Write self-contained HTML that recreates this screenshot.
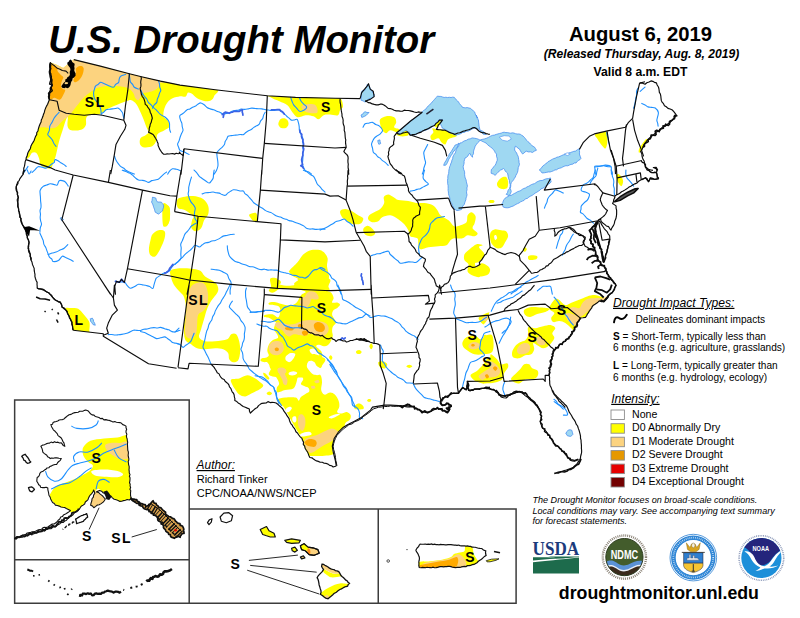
<!DOCTYPE html><html><head><meta charset="utf-8"><title>U.S. Drought Monitor</title>
<style>html,body{margin:0;padding:0;background:#fff}svg{display:block}text{font-family:"Liberation Sans",sans-serif;fill:#000}</style></head><body>
<svg width="800" height="618" viewBox="0 0 800 618">
<rect width="800" height="618" fill="#fff"/>
<g id="txt">
<text x="48.2" y="52.7" font-size="38.4" font-weight="bold" font-style="italic">U.S. Drought Monitor</text>
<text x="640.5" y="41" font-size="20.3" font-weight="bold" text-anchor="middle">August 6, 2019</text>
<text x="641.5" y="58" font-size="12.1" font-weight="bold" font-style="italic" text-anchor="middle">(Released Thursday, Aug. 8, 2019)</text>
<text x="640.5" y="76.4" font-size="12.15" font-weight="bold" text-anchor="middle">Valid 8 a.m. EDT</text>
<text x="613" y="306.8" font-size="12.1" font-style="italic" text-decoration="underline">Drought Impact Types:</text>
<path d="M614,322.3c0.5,-4.5 2.5,-6.3 5,-4.3c2.8,2.2 5.5,0.8 7.8,-3.2" fill="none" stroke="#000" stroke-width="1.9" stroke-linecap="round"/>
<text x="635.5" y="322.5" font-size="10.1">Delineates dominant impacts</text>
<text x="613" y="340" font-size="10.1"><tspan font-weight="bold">S</tspan> = Short-Term, typically less than</text>
<text x="613" y="351.3" font-size="10.1">6 months (e.g. agriculture, grasslands)</text>
<text x="613" y="369.4" font-size="10.1"><tspan font-weight="bold">L</tspan> = Long-Term, typically greater than</text>
<text x="613" y="380.6" font-size="10.1">6 months (e.g. hydrology, ecology)</text>
<text x="611.2" y="402.8" font-size="12.1" font-style="italic" text-decoration="underline">Intensity:</text>
<rect x="611" y="410.0" width="13.4" height="9.5" fill="#ffffff" stroke="#8c8c8c" stroke-width="0.9"/>
<text x="632" y="417.6" font-size="10.6">None</text>
<rect x="611" y="423.7" width="13.4" height="9.5" fill="#ffff00" stroke="#8c8c8c" stroke-width="0.9"/>
<text x="632" y="431.3" font-size="10.6">D0 Abnormally Dry</text>
<rect x="611" y="437.2" width="13.4" height="9.5" fill="#fcd37f" stroke="#8c8c8c" stroke-width="0.9"/>
<text x="632" y="444.8" font-size="10.6">D1 Moderate Drought</text>
<rect x="611" y="450.6" width="13.4" height="9.5" fill="#e69800" stroke="#8c8c8c" stroke-width="0.9"/>
<text x="632" y="458.2" font-size="10.6">D2 Severe Drought</text>
<rect x="611" y="464.1" width="13.4" height="9.5" fill="#e60000" stroke="#8c8c8c" stroke-width="0.9"/>
<text x="632" y="471.7" font-size="10.6">D3 Extreme Drought</text>
<rect x="611" y="477.5" width="13.4" height="9.5" fill="#730000" stroke="#8c8c8c" stroke-width="0.9"/>
<text x="632" y="485.1" font-size="10.6">D4 Exceptional Drought</text>
<text x="532.5" y="503.3" font-size="9.05" font-style="italic">The Drought Monitor focuses on broad-scale conditions.</text>
<text x="532.5" y="513.6" font-size="9.05" font-style="italic">Local conditions may vary. See accompanying text summary</text>
<text x="532.5" y="524" font-size="9.05" font-style="italic">for forecast statements.</text>
<text x="558.8" y="599" font-size="17.75" font-weight="bold">droughtmonitor.unl.edu</text>
<text x="196.6" y="469" font-size="11.9" font-style="italic" text-decoration="underline">Author:</text>
<text x="196.7" y="483.3" font-size="11">Richard Tinker</text>
<text x="196.7" y="497.3" font-size="11">CPC/NOAA/NWS/NCEP</text>
</g>
<g fill="none" stroke="#3c3c3c" stroke-width="1.5">
<path d="M14.65,399.9H189.2V603.2H14.65ZM14.65,559.7H189.2M189.2,508.9H516.1V603.2H189.2M378.25,508.9V603.2"/>
</g>
<defs><clipPath id="us"><path d="M73.8,59.6 L100.3,66.1 L129.4,73.7 L141.5,76.7 L160.5,81.1 L180,85.1 L215.2,89.7 L267.3,95.8 L295.5,97.4 L335,98.2 L360.1,98.6 L360.1,98.6 L361.7,92.6 L367.1,86.1 L368.5,83.7 L370.2,89.1 L373.2,91.2 L374.2,96.6 L370.2,99.4 L365.1,101.2 L365.1,101.2 L370.2,103.2 L376.2,105.2 L382.2,104.2 L388.2,108.2 L394.2,110.2 L400.3,111.2 L406.3,110.2 L414.3,112.2 L422.3,112.2 L437,95 L458,98 L479,118 L485,131 L525,131 L538,150 L545,172 L579,149 L579.4,149.4 L583.4,142.3 L589.4,136.3 L594.4,133.9 L607.5,130.9 L625.5,127.3 L628.5,122.3 L632.6,118.3 L633.6,112.2 L636.6,96.2 L639.6,83.1 L645,81.7 L640,83 L645,84.1 L651,81 L656.1,83 L658.1,87.1 L660.1,94.1 L662.1,102.1 L666.1,107.1 L672.1,110.2 L676.5,115.2 L673.1,119.2 L670.1,122.2 L666.1,125.2 L662.1,127.2 L660.1,130.2 L656.1,132.2 L652,136.2 L648,139.3 L645,143.3 L643,147.3 L641,151.3 L642,156.3 L644,161.3 L645,166.4 L645,165.1 L647.2,169.6 L651.7,172.6 L656.2,172.6 L657.8,169.6 L656.2,167.3 L653.2,167.8 L656.2,168.8 L656.7,171.1 L656.2,172.6 L658.5,178.6 L654.7,179.4 L650.2,177.9 L648.7,181.6 L645.7,177.9 L641.9,179.4 L641.2,179.4 L637,182.8 L630.7,186.1 L624.6,189.9 L620.1,192.9 L616.8,194.9 L614.8,195.9 L615,196.2 L612.6,203.5 L615.8,205.9 L616.6,212.4 L615.8,218.8 L613.4,225.3 L611,230.2 L608.5,226.9 L604.5,224.5 L601.3,221.3 L600.5,218.8 L598,220.5 L598,220.5 L600.5,222.4 L602.9,226.9 L606.9,231.8 L609.4,235.8 L609.8,239.1 L608.5,244.7 L606.9,251.2 L605.3,257.7 L603.7,262.5 L606.1,270.6 L608.5,275.5 L611.8,280 L610.2,278.1 L613.4,281.3 L615.8,285.4 L614.2,289.4 L611.8,292.7 L608.5,295.9 L606.1,299.1 L603.7,301.6 L599.4,301.1 L593.4,305.1 L589.4,311.1 L585.4,317.1 L580.4,318.1 L577.3,323.1 L574.3,329.2 L571.3,335.2 L565.3,341.2 L559.3,345.2 L554.3,350.2 L552.3,357.3 L550.2,365.3 L549.2,375.3 L550.2,385.4 L553.3,393.4 L559.3,401.4 L565.3,407.5 L552.3,390 L554.3,394 L560.3,400 L566.4,406.1 L570.4,414.1 L574.4,420.1 L578.4,428.1 L580.4,436.2 L581.4,444.2 L581.4,452.2 L580.4,458.3 L577.4,463.3 L573.4,467.3 L568.4,469.3 L562.3,471.3 L556.3,472.7 L578.4,459.3 L574.4,461.3 L570.4,460.3 L568.4,457.3 L564.4,453.2 L561.3,449.2 L556.3,445.2 L552.3,441.2 L550.3,437.2 L547.3,433.2 L543.3,428.1 L540.3,423.1 L541.3,416.1 L539.3,409.1 L534.2,403 L528.2,398 L522.2,393 L516.2,391 L510.2,394 L506.1,398 L501.1,397 L496.1,390 L539.2,409.1 L537.2,405.5 L531.2,399.4 L525.2,393.4 L519.1,391.4 L511.1,394.4 L505.1,396.4 L499.1,394.4 L495,390.4 L485,387.4 L490,387.4 L482.6,388.4 L474.5,389.4 L468.5,390.4 L467.5,381.4 L466.5,389.4 L462.5,387.4 L458.5,393.4 L452.5,393.4 L448.4,395.4 L444.4,397.4 L440.4,401.4 L442.4,405.5 L448.4,403.4 L451.5,406.5 L446.4,409.1 L450.2,409.1 L447.7,411.6 L442.7,410.4 L437.6,407.9 L432.6,410.4 L427.6,412.9 L422.6,411.6 L417.6,409.1 L412.5,406.6 L407.5,404.1 L402.5,406.6 L400,405.9 L410,406.1 L402.6,405.7 L390.5,405.1 L384.5,405.1 L378.5,406.1 L372.5,407.1 L370.5,410.1 L365.4,414.1 L360.4,418.1 L354.4,421.2 L348.4,424.2 L343.4,427.2 L338.3,432.2 L334.3,438.2 L332.3,446.2 L333.3,452.3 L335.3,460.3 L336.3,465.9 L336.3,465.9 L333.3,466.7 L326.3,463.3 L318.3,461.3 L310.2,457.3 L307.2,452.3 L304.2,446.2 L302.2,438.2 L297.2,433.2 L292.2,425.2 L288.1,417.1 L284.1,411.1 L280.1,406.1 L276.1,403.1 L268.1,402.1 L260,404.1 L254,410.1 L250,413.1 L249.3,409.1 L241.2,405.5 L235.2,400.4 L233.2,393.4 L228.2,383.4 L221.2,377.3 L215.2,369.3 L211.1,364.3 L211.1,364.3 L189.1,363.3 L188,368.9 L178,367.7 L176.6,368.3 L148.5,363.7 L103.3,336.2 L103.3,333.8 L73.2,330.2 L73.2,330.2 L71.8,322.1 L69.2,316.1 L66.2,310.1 L62.2,307.1 L60.2,302.1 L55.1,300.1 L50.1,294 L44.1,290 L37.1,288 L37.1,282.4 L35.1,276.4 L34.1,268.4 L31.1,260.3 L30.1,254.3 L28.1,248.3 L29.1,242.3 L27.1,236.2 L26.1,229.2 L23,226.2 L21,220.2 L19,212.2 L17.6,204.1 L18,196.1 L16,188.1 L18,182 L22,176 L25.1,170 L23,174.1 L24.4,166.4 L26,159.4 L28.4,152.4 L32,144.4 L35.7,136.3 L39.1,127.3 L42.1,118.3 L45.1,110.2 L47.5,104.2 L49.5,99.8 L48.7,95.2 L50.1,90.2 L52.1,85.1 L51.3,78.1 L50.1,70.1 L50.5,62.4 L57.1,65.1 L63.2,68.1Z M614.8,201.2 L620.1,196.7 L627.6,192.2 L635.2,188.8 L638.2,188.4 L633.7,192.9 L627.6,195.9 L620.1,200.4 L614.8,201.9Z"/></clipPath></defs>
<g clip-path="url(#us)">
<g fill="#ffff00"><path d="M24,158.4 C24.83,160.23 27.67,158.33 29,157.4 C30.33,156.47 30.82,153.57 32,152.8 C33.18,152.03 34.92,151.87 36.1,152.8 C37.28,153.73 38.27,156.30 39.1,158.4 C39.93,160.50 39.27,163.73 41.1,165.4 C42.93,167.07 48.10,168.73 50.1,168.4 C52.10,168.07 52.10,165.73 53.1,163.4 C54.10,161.07 55.10,158.08 56.1,154.4 C57.10,150.72 58.02,145.32 59.1,141.3 C60.18,137.28 61.48,133.80 62.6,130.3 C63.72,126.80 64.93,122.47 65.8,120.3 C66.67,118.13 67.50,116.30 67.8,117.3 C68.10,118.30 67.03,124.13 67.6,126.3 C68.17,128.47 68.93,129.73 71.2,130.3 C73.47,130.87 78.77,130.53 81.2,129.7 C83.63,128.87 84.78,127.55 85.8,125.3 C86.82,123.05 84.88,118.12 87.3,116.2 C89.72,114.28 96.80,115.07 100.3,113.8 C103.80,112.53 105.28,110.20 108.3,108.6 C111.32,107.00 115.38,105.43 118.4,104.2 C121.42,102.97 124.23,101.87 126.4,101.2 C128.57,100.53 129.73,99.70 131.4,100.2 C133.07,100.70 134.88,102.20 136.4,104.2 C137.92,106.20 139.32,109.68 140.5,112.2 C141.68,114.72 142.50,116.78 143.5,119.3 C144.50,121.82 145.67,125.13 146.5,127.3 C147.33,129.47 148.67,130.97 148.5,132.3 C148.33,133.63 146.83,134.30 145.5,135.3 C144.17,136.30 141.40,136.78 140.5,138.3 C139.60,139.82 139.43,142.88 140.1,144.4 C140.77,145.92 142.43,147.13 144.5,147.4 C146.57,147.67 150.50,147.18 152.5,146 C154.50,144.82 155.67,142.25 156.5,140.3 C157.33,138.35 156.17,135.97 157.5,134.3 C158.83,132.63 162.48,131.63 164.5,130.3 C166.52,128.97 169.08,127.97 169.6,126.3 C170.12,124.63 168.62,121.98 167.6,120.3 C166.58,118.62 164.02,118.22 163.5,116.2 C162.98,114.18 163.82,110.53 164.5,108.2 C165.18,105.87 166.25,103.87 167.6,102.2 C168.95,100.53 170.53,99.20 172.6,98.2 C174.67,97.20 177.67,96.70 180,96.2 C182.33,95.70 185.50,98.22 186.6,95.2 C187.70,92.18 194.28,82.28 186.6,78.1 C178.92,73.92 159.90,74.12 140.5,70.1 C121.10,66.08 86.27,56.02 70.2,54 C54.13,51.98 49.12,51.97 44.1,58 C39.08,64.03 42.12,79.82 40.1,90.2 C38.08,100.58 34.68,110.93 32,120.3 C29.32,129.67 25.33,140.05 24,146.4 C22.67,152.75 23.17,156.57 24,158.4Z"/><path d="M171,80.1 C178.37,79.08 208.02,85.42 215.2,88.1 C222.38,90.78 214.78,94.18 214.1,96.2 C213.42,98.22 212.60,99.37 211.1,100.2 C209.60,101.03 207.43,101.53 205.1,101.2 C202.77,100.87 199.43,99.53 197.1,98.2 C194.77,96.87 193.45,94.20 191.1,93.2 C188.75,92.20 186.35,92.03 183,92.2 C179.65,92.37 173.00,96.22 171,94.2 C169.00,92.18 163.63,81.12 171,80.1Z"/><path d="M271.4,94.2 C281.17,94.10 318.57,96.60 330,97.2 C341.43,97.80 337.83,96.30 340,97.8 C342.17,99.30 343.00,104.13 343,106.2 C343.00,108.27 340.83,108.70 340,110.2 C339.17,111.70 339.67,114.47 338,115.2 C336.33,115.93 332.40,114.60 330,114.6 C327.60,114.60 325.52,114.42 323.6,115.2 C321.68,115.98 320.18,119.13 318.5,119.3 C316.82,119.47 315.67,116.88 313.5,116.2 C311.33,115.52 308.17,115.02 305.5,115.2 C302.83,115.38 299.68,117.80 297.5,117.3 C295.32,116.80 294.08,114.22 292.4,112.2 C290.72,110.18 289.57,107.03 287.4,105.2 C285.23,103.37 282.07,102.43 279.4,101.2 C276.73,99.97 272.73,98.97 271.4,97.8 C270.07,96.63 261.63,94.30 271.4,94.2Z"/><path d="M278.4,123.3 C278.63,122.20 279.40,120.13 280.4,119.3 C281.40,118.47 283.17,118.07 284.4,118.3 C285.63,118.53 287.13,119.63 287.8,120.7 C288.47,121.77 288.73,123.50 288.4,124.7 C288.07,125.90 286.97,127.37 285.8,127.9 C284.63,128.43 282.53,128.23 281.4,127.9 C280.27,127.57 279.50,126.67 279,125.9 C278.50,125.13 278.17,124.40 278.4,123.3Z"/><path d="M380.2,119.3 C381.20,117.95 383.87,116.53 386.2,116.2 C388.53,115.87 392.53,116.28 394.2,117.3 C395.87,118.32 396.20,120.63 396.2,122.3 C396.20,123.97 393.68,126.13 394.2,127.3 C394.72,128.47 398.78,128.47 399.3,129.3 C399.82,130.13 398.82,132.13 397.3,132.3 C395.78,132.47 392.05,130.13 390.2,130.3 C388.35,130.47 387.53,133.30 386.2,133.3 C384.87,133.30 383.20,131.80 382.2,130.3 C381.20,128.80 380.53,126.13 380.2,124.3 C379.87,122.47 379.20,120.65 380.2,119.3Z"/><path d="M396.2,133.3 C397.20,132.30 404.28,129.97 406.3,130.3 C408.32,130.63 409.30,134.30 408.3,135.3 C407.30,136.30 402.32,136.63 400.3,136.3 C398.28,135.97 395.20,134.30 396.2,133.3Z"/><path d="M434.4,124.7 C435.07,123.43 440.07,120.27 441.4,119.7 C442.73,119.13 443.07,120.03 442.4,121.3 C441.73,122.57 438.73,126.73 437.4,127.3 C436.07,127.87 433.73,125.97 434.4,124.7Z"/><path d="M432.4,128.3 C433.07,127.80 435.40,128.97 437.4,129.3 C439.40,129.63 441.55,129.47 444.4,130.3 C447.25,131.13 452.48,133.30 454.5,134.3 C456.52,135.30 457.52,135.47 456.5,136.3 C455.48,137.13 450.25,137.95 448.4,139.3 C446.55,140.65 446.57,143.90 445.4,144.4 C444.23,144.90 442.57,143.32 441.4,142.3 C440.23,141.28 439.90,138.63 438.4,138.3 C436.90,137.97 433.73,140.63 432.4,140.3 C431.07,139.97 430.23,137.63 430.4,136.3 C430.57,134.97 433.07,133.63 433.4,132.3 C433.73,130.97 431.73,128.80 432.4,128.3Z"/><path d="M595.4,134.3 C596.98,133.13 604.48,130.30 606.5,131.3 C608.52,132.30 607.67,137.45 607.5,140.3 C607.33,143.15 606.68,147.88 605.5,148.4 C604.32,148.92 601.82,145.08 600.4,143.4 C598.98,141.72 597.83,139.82 597,138.3 C596.17,136.78 593.82,135.47 595.4,134.3Z"/><path d="M639,149.3 C639.50,147.90 640.83,145.97 642,144.3 C643.17,142.63 645.00,139.97 646,139.3 C647.00,138.63 648.17,139.30 648,140.3 C647.83,141.30 646.00,143.63 645,145.3 C644.00,146.97 643.00,149.07 642,150.3 C641.00,151.53 639.50,152.87 639,152.7 C638.50,152.53 638.50,150.70 639,149.3Z"/><path d="M164.6,205.1 C165.20,204.42 167.70,205.25 168.6,206.1 C169.50,206.95 169.83,207.85 170,210.2 C170.17,212.55 170.17,217.53 169.6,220.2 C169.03,222.87 167.60,225.53 166.6,226.2 C165.60,226.87 164.00,225.87 163.6,224.2 C163.20,222.53 163.97,218.53 164.2,216.2 C164.43,213.87 164.93,212.05 165,210.2 C165.07,208.35 164.00,205.78 164.6,205.1Z"/><path d="M152.5,234.2 C153.85,232.52 156.58,230.70 158.6,230.2 C160.62,229.70 163.60,229.85 164.6,231.2 C165.60,232.55 165.27,235.45 164.6,238.3 C163.93,241.15 162.12,245.30 160.6,248.3 C159.08,251.30 157.18,255.13 155.5,256.3 C153.82,257.47 151.60,256.47 150.5,255.3 C149.40,254.13 148.90,251.80 148.9,249.3 C148.90,246.80 149.90,242.82 150.5,240.3 C151.10,237.78 151.15,235.88 152.5,234.2Z"/><path d="M177,200.1 C177.85,198.27 180.42,197.77 183.1,197.1 C185.78,196.43 189.77,195.77 193.1,196.1 C196.43,196.43 200.58,197.43 203.1,199.1 C205.62,200.77 207.35,203.58 208.2,206.1 C209.05,208.62 208.88,211.85 208.2,214.2 C207.52,216.55 205.28,217.87 204.1,220.2 C202.92,222.53 202.60,226.37 201.1,228.2 C199.60,230.03 196.77,231.37 195.1,231.2 C193.43,231.03 191.60,229.03 191.1,227.2 C190.60,225.37 191.77,222.03 192.1,220.2 C192.43,218.37 194.27,217.87 193.1,216.2 C191.93,214.53 187.62,211.55 185.1,210.2 C182.58,208.85 179.35,209.78 178,208.1 C176.65,206.42 176.15,201.93 177,200.1Z"/><path d="M249.3,214.6 C250.20,213.77 255.03,212.10 256.3,213.2 C257.57,214.30 257.40,219.93 256.9,221.2 C256.40,222.47 254.30,221.30 253.3,220.8 C252.30,220.30 251.57,219.23 250.9,218.2 C250.23,217.17 248.40,215.43 249.3,214.6Z"/><path d="M163,204.1 C164.00,201.08 167.83,205.08 169,207.1 C170.17,209.12 170.17,213.35 170,216.2 C169.83,219.05 169.17,222.70 168,224.2 C166.83,225.70 163.83,228.55 163,225.2 C162.17,221.85 162.00,207.12 163,204.1Z"/><path d="M369.2,215.2 C370.20,214.03 372.37,213.22 374.2,212.2 C376.03,211.18 378.53,210.62 380.2,209.1 C381.87,207.58 383.60,205.10 384.2,203.1 C384.80,201.10 383.12,198.53 383.8,197.1 C384.48,195.67 386.72,194.50 388.3,194.5 C389.88,194.50 391.63,196.17 393.3,197.1 C394.97,198.03 395.80,199.43 398.3,200.1 C400.80,200.77 405.28,200.60 408.3,201.1 C411.32,201.60 413.72,202.77 416.4,203.1 C419.08,203.43 421.73,202.77 424.4,203.1 C427.07,203.43 430.23,203.92 432.4,205.1 C434.57,206.28 436.05,208.52 437.4,210.2 C438.75,211.88 438.65,213.53 440.5,215.2 C442.35,216.87 446.23,218.37 448.5,220.2 C450.77,222.03 452.10,225.37 454.1,226.2 C456.10,227.03 458.43,225.87 460.5,225.2 C462.57,224.53 465.32,223.87 466.5,222.2 C467.68,220.53 466.75,216.87 467.6,215.2 C468.45,213.53 470.27,212.03 471.6,212.2 C472.93,212.37 475.10,214.37 475.6,216.2 C476.10,218.03 475.10,221.20 474.6,223.2 C474.10,225.20 472.10,226.53 472.6,228.2 C473.10,229.87 477.27,231.87 477.6,233.2 C477.93,234.53 476.27,235.87 474.6,236.2 C472.93,236.53 469.62,234.85 467.6,235.2 C465.58,235.55 464.68,237.78 462.5,238.3 C460.32,238.82 456.50,237.97 454.5,238.3 C452.50,238.63 451.83,239.13 450.5,240.3 C449.17,241.47 448.52,244.30 446.5,245.3 C444.48,246.30 441.42,245.97 438.4,246.3 C435.38,246.63 431.40,246.80 428.4,247.3 C425.40,247.80 422.07,249.80 420.4,249.3 C418.73,248.80 418.90,246.13 418.4,244.3 C417.90,242.47 418.75,239.65 417.4,238.3 C416.05,236.95 411.82,237.55 410.3,236.2 C408.78,234.85 409.30,232.20 408.3,230.2 C407.30,228.20 405.97,226.03 404.3,224.2 C402.63,222.37 400.63,220.70 398.3,219.2 C395.97,217.70 392.98,215.53 390.3,215.2 C387.62,214.87 384.22,216.20 382.2,217.2 C380.18,218.20 379.87,220.37 378.2,221.2 C376.53,222.03 373.87,222.53 372.2,222.2 C370.53,221.87 368.70,220.37 368.2,219.2 C367.70,218.03 368.20,216.37 369.2,215.2Z"/><path d="M340.1,211.2 C340.60,209.85 343.10,209.10 345.1,209.1 C347.10,209.10 349.93,210.18 352.1,211.2 C354.27,212.22 356.25,214.03 358.1,215.2 C359.95,216.37 362.68,216.87 363.2,218.2 C363.72,219.53 362.38,222.20 361.2,223.2 C360.02,224.20 357.95,224.20 356.1,224.2 C354.25,224.20 351.77,223.87 350.1,223.2 C348.43,222.53 347.43,221.20 346.1,220.2 C344.77,219.20 343.10,218.70 342.1,217.2 C341.10,215.70 339.60,212.55 340.1,211.2Z"/><path d="M363.2,229.2 C363.53,227.73 365.77,225.97 367.2,225.8 C368.63,225.63 370.47,226.97 371.8,228.2 C373.13,229.43 375.30,231.87 375.2,233.2 C375.10,234.53 372.87,235.97 371.2,236.2 C369.53,236.43 366.53,235.77 365.2,234.6 C363.87,233.43 362.87,230.67 363.2,229.2Z"/><path d="M464.5,254.3 C465.35,252.47 467.58,250.97 469.6,249.3 C471.62,247.63 474.43,244.97 476.6,244.3 C478.77,243.63 482.20,244.80 482.6,245.3 C483.00,245.80 478.77,245.97 479,247.3 C479.23,248.63 483.33,251.47 484,253.3 C484.67,255.13 484.00,256.80 483,258.3 C482.00,259.80 479.33,261.28 478,262.3 C476.67,263.32 474.67,262.05 475,264.4 C475.33,266.75 480.40,274.57 480,276.4 C479.60,278.23 474.67,276.23 472.6,275.4 C470.53,274.57 468.27,273.23 467.6,271.4 C466.93,269.57 469.12,266.25 468.6,264.4 C468.08,262.55 465.18,261.98 464.5,260.3 C463.82,258.62 463.65,256.13 464.5,254.3Z"/><path d="M475,268.4 C476.67,266.90 479.00,263.90 481,263.4 C483.00,262.90 485.48,264.40 487,265.4 C488.52,266.40 489.93,267.90 490.1,269.4 C490.27,270.90 489.52,273.23 488,274.4 C486.48,275.57 483.17,276.23 481,276.4 C478.83,276.57 476.67,276.07 475,275.4 C473.33,274.73 471.00,273.57 471,272.4 C471.00,271.23 473.33,269.90 475,268.4Z"/><path d="M497.1,183 C497.60,181.48 499.60,179.00 501.1,178 C502.60,177.00 504.93,176.33 506.1,177 C507.27,177.67 507.93,180.15 508.1,182 C508.27,183.85 508.10,186.92 507.1,188.1 C506.10,189.28 503.60,189.27 502.1,189.1 C500.60,188.93 498.93,188.12 498.1,187.1 C497.27,186.08 496.60,184.52 497.1,183Z"/><path d="M488.5,201.5 C488.50,201.03 489.33,200.33 490.1,200.1 C490.87,199.87 492.37,199.87 493.1,200.1 C493.83,200.33 494.50,201.03 494.5,201.5 C494.50,201.97 493.83,202.67 493.1,202.9 C492.37,203.13 490.87,203.13 490.1,202.9 C489.33,202.67 488.50,201.97 488.5,201.5Z"/><path d="M490.7,232.2 C491.53,230.68 493.37,229.53 495.1,229.2 C496.83,228.87 499.27,229.87 501.1,230.2 C502.93,230.53 504.93,230.20 506.1,231.2 C507.27,232.20 508.27,234.35 508.1,236.2 C507.93,238.05 506.10,240.45 505.1,242.3 C504.10,244.15 503.43,246.30 502.1,247.3 C500.77,248.30 498.77,248.80 497.1,248.3 C495.43,247.80 493.27,245.97 492.1,244.3 C490.93,242.63 490.33,240.32 490.1,238.3 C489.87,236.28 489.87,233.72 490.7,232.2Z"/><path d="M528.2,256.3 C528.70,255.53 530.70,255.30 532.2,255.3 C533.70,255.30 536.53,255.63 537.2,256.3 C537.87,256.97 537.53,258.70 536.2,259.3 C534.87,259.90 530.53,260.40 529.2,259.9 C527.87,259.40 527.70,257.07 528.2,256.3Z"/><path d="M523.2,248.7 C523.50,248.10 524.60,247.20 525.2,247.3 C525.80,247.40 526.80,248.57 526.8,249.3 C526.80,250.03 525.77,251.43 525.2,251.7 C524.63,251.97 523.73,251.40 523.4,250.9 C523.07,250.40 522.90,249.30 523.2,248.7Z"/><path d="M616.3,175.6 C616.55,174.60 617.72,173.85 618.6,174.1 C619.48,174.35 620.85,175.85 621.6,177.1 C622.35,178.35 623.10,180.10 623.1,181.6 C623.10,183.10 622.22,185.60 621.6,186.1 C620.98,186.60 620.15,185.60 619.4,184.6 C618.65,183.60 617.62,181.60 617.1,180.1 C616.58,178.60 616.05,176.60 616.3,175.6Z"/><path d="M65.2,309.1 C65.37,306.93 69.03,308.17 71.2,308.1 C73.37,308.03 76.03,307.53 78.2,308.7 C80.37,309.87 82.35,312.87 84.2,315.1 C86.05,317.33 88.45,319.58 89.3,322.1 C90.15,324.62 89.47,328.35 89.3,330.2 C89.13,332.05 91.15,333.03 88.3,333.2 C85.45,333.37 75.22,333.22 72.2,331.2 C69.18,329.18 71.37,324.78 70.2,321.1 C69.03,317.42 65.03,311.27 65.2,309.1Z"/><path d="M171,270.3 C173.00,268.85 178.32,268.30 183,268.3 C187.68,268.30 195.42,268.95 199.1,270.3 C202.78,271.65 202.42,274.38 205.1,276.4 C207.78,278.42 213.02,280.47 215.2,282.4 C217.38,284.33 217.87,286.23 218.2,288 C218.53,289.77 218.38,290.82 217.2,293 C216.02,295.18 212.78,298.42 211.1,301.1 C209.42,303.78 208.27,306.10 207.1,309.1 C205.93,312.10 205.10,315.75 204.1,319.1 C203.10,322.45 201.93,326.18 201.1,329.2 C200.27,332.22 198.43,335.20 199.1,337.2 C199.77,339.20 202.42,340.53 205.1,341.2 C207.78,341.87 211.52,341.53 215.2,341.2 C218.88,340.87 224.53,340.37 227.2,339.2 C229.87,338.03 229.70,335.03 231.2,334.2 C232.70,333.37 234.87,333.03 236.2,334.2 C237.53,335.37 238.53,338.37 239.2,341.2 C239.87,344.03 240.37,348.02 240.2,351.2 C240.03,354.38 239.37,358.45 238.2,360.3 C237.03,362.15 234.70,362.47 233.2,362.3 C231.70,362.13 230.03,360.80 229.2,359.3 C228.37,357.80 229.20,354.98 228.2,353.3 C227.20,351.62 225.37,350.05 223.2,349.2 C221.03,348.35 218.22,348.20 215.2,348.2 C212.18,348.20 208.12,349.20 205.1,349.2 C202.08,349.20 199.43,349.03 197.1,348.2 C194.77,347.37 193.12,345.70 191.1,344.2 C189.08,342.70 186.18,342.37 185,339.2 C183.82,336.03 183.83,330.22 184,325.2 C184.17,320.18 186.00,313.80 186,309.1 C186.00,304.40 185.00,299.85 184,297 C183.00,294.15 181.67,294.00 180,292 C178.33,290.00 175.50,287.50 174,285 C172.50,282.50 171.50,279.45 171,277 C170.50,274.55 169.00,271.75 171,270.3Z"/><path d="M231.2,379.4 C232.37,378.40 236.52,379.08 239.2,378.4 C241.88,377.72 244.62,375.30 247.3,375.3 C249.98,375.30 253.30,377.38 255.3,378.4 C257.30,379.42 257.97,380.23 259.3,381.4 C260.63,382.57 263.30,384.07 263.3,385.4 C263.30,386.73 261.30,388.07 259.3,389.4 C257.30,390.73 253.63,392.23 251.3,393.4 C248.97,394.57 247.32,396.23 245.3,396.4 C243.28,396.57 240.88,395.57 239.2,394.4 C237.52,393.23 236.37,391.07 235.2,389.4 C234.03,387.73 232.87,386.07 232.2,384.4 C231.53,382.73 230.03,380.40 231.2,379.4Z"/><path d="M289.5,270.4 C290.83,268.72 295.17,264.98 297.5,262.3 C299.83,259.62 301.17,256.37 303.5,254.3 C305.83,252.23 307.92,250.57 311.5,249.9 C315.08,249.23 323.58,250.23 325,250.3 C326.42,250.37 320.17,249.97 320,250.3 C319.83,250.63 322.73,250.97 324,252.3 C325.27,253.63 327.10,255.95 327.6,258.3 C328.10,260.65 326.77,263.38 327,266.4 C327.23,269.42 329.00,273.07 329,276.4 C329.00,279.73 328.00,284.05 327,286.4 C326.00,288.75 324.17,289.48 323,290.5 C321.83,291.52 319.12,294.25 320,292.5 C320.88,290.75 326.92,281.08 328.3,280 C329.68,278.92 328.55,284.25 328.3,286 C328.05,287.75 332.27,290.60 326.8,290.5 C321.33,290.40 300.22,287.25 295.5,285.4 C290.78,283.55 298.83,280.90 298.5,279.4 C298.17,277.90 295.00,277.57 293.5,276.4 C292.00,275.23 290.17,273.40 289.5,272.4 C288.83,271.40 288.17,272.08 289.5,270.4Z"/><path d="M270,280 C270.42,279.33 273.33,279.00 275,279.1 C276.67,279.20 279.07,279.87 280,280.6 C280.93,281.33 281.33,282.87 280.6,283.5 C279.87,284.13 276.95,284.47 275.6,284.4 C274.25,284.33 273.43,283.83 272.5,283.1 C271.57,282.37 269.58,280.67 270,280Z"/><path d="M270.3,278.5 C271.30,277.12 275.77,277.62 277.1,278.5 C278.43,279.38 276.80,282.60 278.3,283.8 C279.80,285.00 283.28,285.53 286.1,285.7 C288.92,285.87 293.13,285.62 295.2,284.8 C297.27,283.98 297.75,281.85 298.5,280.8 C299.25,279.75 294.73,278.88 299.7,278.5 C304.67,278.12 323.53,277.25 328.3,278.5 C333.07,279.75 328.55,284.00 328.3,286 C328.05,288.00 326.30,289.37 326.8,290.5 C327.30,291.63 330.17,291.53 331.3,292.8 C332.43,294.07 333.47,296.47 333.6,298.1 C333.73,299.73 331.48,301.85 332.1,302.6 C332.72,303.35 335.98,302.23 337.3,302.6 C338.62,302.97 340.00,303.92 340,304.8 C340.00,305.68 338.37,307.02 337.3,307.9 C336.23,308.78 334.47,308.98 333.6,310.1 C332.73,311.22 331.98,313.10 332.1,314.6 C332.22,316.10 333.68,317.72 334.3,319.1 C334.92,320.48 336.05,321.63 335.8,322.9 C335.55,324.17 333.42,325.32 332.8,326.7 C332.18,328.08 332.10,329.70 332.1,331.2 C332.10,332.70 332.93,334.20 332.8,335.7 C332.67,337.20 332.05,338.70 331.3,340.2 C330.55,341.70 329.55,343.70 328.3,344.7 C327.05,345.70 325.30,346.20 323.8,346.2 C322.30,346.20 320.57,344.70 319.3,344.7 C318.03,344.70 315.95,345.18 316.2,346.2 C316.45,347.22 319.78,349.28 320.8,350.8 C321.82,352.32 322.30,353.55 322.3,355.3 C322.30,357.05 321.55,359.55 320.8,361.3 C320.05,363.05 318.57,363.28 317.8,365.8 C317.03,368.32 323.73,374.63 316.2,376.4 C308.67,378.17 280.12,377.67 272.6,376.4 C265.08,375.13 271.10,370.82 271.1,368.8 C271.10,366.78 273.10,365.42 272.6,364.3 C272.10,363.18 269.60,362.47 268.1,362.1 C266.60,361.73 264.87,362.35 263.6,362.1 C262.33,361.85 260.77,361.23 260.5,360.6 C260.23,359.97 260.98,358.82 262,358.3 C263.02,357.78 265.47,358.00 266.6,357.5 C267.73,357.00 268.68,356.42 268.8,355.3 C268.92,354.18 267.30,352.57 267.3,350.8 C267.30,349.03 267.92,346.47 268.8,344.7 C269.68,342.93 271.08,341.32 272.6,340.2 C274.12,339.08 277.15,339.00 277.9,338 C278.65,337.00 277.73,335.58 277.1,334.2 C276.47,332.82 274.48,331.20 274.1,329.7 C273.72,328.20 274.43,326.33 274.8,325.2 C275.17,324.07 276.67,323.78 276.3,322.9 C275.93,322.02 273.97,320.78 272.6,319.9 C271.23,319.02 269.48,318.10 268.1,317.6 C266.72,317.10 264.85,317.35 264.3,316.9 C263.75,316.45 263.42,315.33 264.8,314.9 C266.18,314.47 270.42,313.85 272.6,314.3 C274.78,314.75 276.65,317.92 277.9,317.6 C279.15,317.28 279.85,314.15 280.1,312.4 C280.35,310.65 280.28,308.28 279.4,307.1 C278.52,305.92 276.43,305.68 274.8,305.3 C273.17,304.92 270.60,305.20 269.6,304.8 C268.60,304.40 268.05,303.35 268.8,302.9 C269.55,302.45 271.97,301.90 274.1,302.1 C276.23,302.30 279.10,303.52 281.6,304.1 C284.10,304.68 286.83,305.65 289.1,305.6 C291.37,305.55 293.68,304.68 295.2,303.8 C296.72,302.92 297.45,301.38 298.2,300.3 C298.95,299.22 299.08,298.30 299.7,297.3 C300.32,296.30 300.90,295.18 301.9,294.3 C302.90,293.42 306.07,292.75 305.7,292 C305.33,291.25 302.72,290.30 299.7,289.8 C296.68,289.30 290.87,289.18 287.6,289 C284.33,288.82 282.60,288.07 280.1,288.7 C277.60,289.33 274.48,292.50 272.6,292.8 C270.72,293.10 269.05,291.50 268.8,290.5 C268.55,289.50 270.85,288.80 271.1,286.8 C271.35,284.80 269.30,279.88 270.3,278.5Z"/><path d="M356,352 C356.00,351.45 356.50,350.75 357.2,350.5 C357.90,350.25 359.50,350.25 360.2,350.5 C360.90,350.75 361.40,351.45 361.4,352 C361.40,352.55 360.90,353.50 360.2,353.8 C359.50,354.10 357.90,354.10 357.2,353.8 C356.50,353.50 356.00,352.55 356,352Z"/><path d="M329,357.5 C328.93,356.70 330.03,355.30 330.6,355.3 C331.17,355.30 332.33,356.70 332.4,357.5 C332.47,358.30 331.57,360.10 331,360.1 C330.43,360.10 329.07,358.30 329,357.5Z"/><path d="M270.1,357 C278.75,355.62 312.55,355.50 321.2,357 C329.85,358.50 322.50,363.75 322,366 C321.50,368.25 318.33,368.73 318.2,370.5 C318.07,372.27 320.57,374.58 321.2,376.6 C321.83,378.62 322.00,380.35 322,382.6 C322.00,384.85 320.82,388.10 321.2,390.1 C321.58,392.10 322.78,394.22 324.3,394.6 C325.82,394.98 328.55,392.40 330.3,392.4 C332.05,392.40 333.42,393.22 334.8,394.6 C336.18,395.98 337.85,398.68 338.6,400.7 C339.35,402.72 339.55,404.83 339.3,406.7 C339.05,408.57 336.72,410.77 337.1,411.9 C337.48,413.03 339.98,413.50 341.6,413.5 C343.22,413.50 345.30,411.65 346.8,411.9 C348.30,412.15 350.08,413.73 350.6,415 C351.12,416.27 350.78,418.13 349.9,419.5 C349.02,420.87 346.32,421.57 345.3,423.2 C344.28,424.83 345.30,427.28 343.8,429.3 C342.30,431.32 337.93,433.30 336.3,435.3 C334.67,437.30 334.63,438.80 334,441.3 C333.37,443.80 333.00,448.03 332.5,450.3 C332.00,452.57 335.38,454.13 331,454.9 C326.62,455.67 310.83,457.17 306.2,454.9 C301.57,452.63 304.70,445.32 303.2,441.3 C301.70,437.28 299.08,434.07 297.2,430.8 C295.32,427.53 293.53,424.58 291.9,421.7 C290.27,418.82 288.78,416.00 287.4,413.5 C286.02,411.00 284.98,408.47 283.6,406.7 C282.22,404.93 280.10,404.12 279.1,402.9 C278.10,401.68 276.60,400.28 277.6,399.4 C278.60,398.52 282.08,397.90 285.1,397.6 C288.12,397.30 293.43,397.08 295.7,397.6 C297.97,398.12 297.83,400.82 298.7,400.7 C299.57,400.58 299.78,398.03 300.9,396.9 C302.02,395.77 304.02,394.78 305.4,393.9 C306.78,393.02 308.68,392.60 309.2,391.6 C309.72,390.60 309.25,388.78 308.5,387.9 C307.75,387.02 305.97,386.93 304.7,386.3 C303.43,385.67 301.15,385.22 300.9,384.1 C300.65,382.98 303.07,380.85 303.2,379.6 C303.33,378.35 302.58,376.98 301.7,376.6 C300.82,376.22 298.78,376.30 297.9,377.3 C297.02,378.30 297.15,380.72 296.4,382.6 C295.65,384.48 295.28,387.35 293.4,388.6 C291.52,389.85 287.73,389.47 285.1,390.1 C282.47,390.73 278.98,392.77 277.6,392.4 C276.22,392.03 276.55,389.28 276.8,387.9 C277.05,386.52 278.97,385.48 279.1,384.1 C279.23,382.72 278.35,381.10 277.6,379.6 C276.85,378.10 275.60,376.62 274.6,375.1 C273.60,373.58 272.48,372.13 271.6,370.5 C270.72,368.87 269.55,367.55 269.3,365.3 C269.05,363.05 261.45,358.38 270.1,357Z"/><path d="M355.6,405.9 C355.60,405.15 356.60,404.07 357.4,403.7 C358.20,403.33 359.52,403.33 360.4,403.7 C361.28,404.07 362.58,405.03 362.7,405.9 C362.82,406.77 361.98,408.52 361.1,408.9 C360.22,409.28 358.32,408.70 357.4,408.2 C356.48,407.70 355.60,406.65 355.6,405.9Z"/><path d="M367.6,400.4 C367.60,399.98 368.80,399.10 369.4,399.1 C370.00,399.10 371.20,399.98 371.2,400.4 C371.20,400.82 370.00,401.60 369.4,401.6 C368.80,401.60 367.60,400.82 367.6,400.4Z"/><path d="M266.6,393.4 C266.60,392.80 268.40,391.60 269.3,391.6 C270.20,391.60 272.00,392.80 272,393.4 C272.00,394.00 270.20,395.20 269.3,395.2 C268.40,395.20 266.60,394.00 266.6,393.4Z"/><path d="M263.3,372.8 C263.55,372.43 264.50,372.72 265.5,373.6 C266.50,374.48 268.92,377.10 269.3,378.1 C269.68,379.10 268.68,379.98 267.8,379.6 C266.92,379.22 264.75,376.93 264,375.8 C263.25,374.67 263.05,373.17 263.3,372.8Z"/><path d="M356.7,351.9 C356.70,351.35 358.30,350.20 359.1,350.2 C359.90,350.20 361.50,351.35 361.5,351.9 C361.50,352.45 359.90,353.50 359.1,353.5 C358.30,353.50 356.70,352.45 356.7,351.9Z"/><path d="M369.5,346.2 C369.50,345.20 370.65,343.20 371.2,343.2 C371.75,343.20 372.80,345.20 372.8,346.2 C372.80,347.20 371.75,349.20 371.2,349.2 C370.65,349.20 369.50,347.20 369.5,346.2Z"/><path d="M378.2,362.3 C378.70,361.30 381.70,360.97 383.2,361.3 C384.70,361.63 386.87,363.13 387.2,364.3 C387.53,365.47 386.37,367.80 385.2,368.3 C384.03,368.80 381.37,368.30 380.2,367.3 C379.03,366.30 377.70,363.30 378.2,362.3Z"/><path d="M406.3,366.3 C406.30,365.77 408.30,364.70 409.3,364.7 C410.30,364.70 412.30,365.77 412.3,366.3 C412.30,366.83 410.30,367.90 409.3,367.9 C408.30,367.90 406.30,366.83 406.3,366.3Z"/><path d="M367.1,400.4 C367.10,399.93 368.42,399.00 369.1,399 C369.78,399.00 371.20,399.93 371.2,400.4 C371.20,400.87 369.78,401.80 369.1,401.8 C368.42,401.80 367.10,400.87 367.1,400.4Z"/><path d="M355.1,405.5 C355.77,404.65 357.77,403.90 359.1,404 C360.43,404.10 362.43,405.25 363.1,406.1 C363.77,406.95 364.43,408.60 363.1,409.1 C361.77,409.60 356.43,409.70 355.1,409.1 C353.77,408.50 354.43,406.35 355.1,405.5Z"/><path d="M462.5,342.2 C463.00,340.53 464.50,338.37 466.5,337.2 C468.50,336.03 472.15,334.87 474.5,335.2 C476.85,335.53 478.58,339.20 480.6,339.2 C482.62,339.20 484.60,335.70 486.6,335.2 C488.60,334.70 491.60,333.53 492.6,336.2 C493.60,338.87 494.27,348.18 492.6,351.2 C490.93,354.22 485.62,353.78 482.6,354.3 C479.58,354.82 476.85,354.82 474.5,354.3 C472.15,353.78 470.33,352.38 468.5,351.2 C466.67,350.02 464.50,348.70 463.5,347.2 C462.50,345.70 462.00,343.87 462.5,342.2Z"/><path d="M470.5,375.3 C470.83,373.78 474.48,372.97 476.5,371.3 C478.52,369.63 480.92,367.30 482.6,365.3 C484.28,363.30 485.37,360.63 486.6,359.3 C487.83,357.97 489.27,358.13 490,357.3 C490.73,356.47 489.83,353.97 491,354.3 C492.17,354.63 495.32,357.63 497,359.3 C498.68,360.97 499.42,363.63 501.1,364.3 C502.78,364.97 505.93,362.80 507.1,363.3 C508.27,363.80 508.60,365.63 508.1,367.3 C507.60,368.97 505.10,371.28 504.1,373.3 C503.10,375.32 503.62,377.88 502.1,379.4 C500.58,380.92 497.85,381.73 495,382.4 C492.15,383.07 487.07,383.23 485,383.4 C482.93,383.57 484.35,383.90 482.6,383.4 C480.85,382.90 476.52,381.75 474.5,380.4 C472.48,379.05 470.17,376.82 470.5,375.3Z"/><path d="M478.6,318.1 C478.93,316.43 482.70,315.10 484.6,314.1 C486.50,313.10 489.27,312.27 490,312.1 C490.73,311.93 489.17,312.27 489,313.1 C488.83,313.93 489.67,315.43 489,317.1 C488.33,318.77 486.07,321.93 485,323.1 C483.93,324.27 483.67,324.93 482.6,324.1 C481.53,323.27 478.27,319.77 478.6,318.1Z"/><path d="M484,335.2 C484.67,333.70 487.33,335.53 488,337.2 C488.67,338.87 488.67,343.70 488,345.2 C487.33,346.70 484.67,347.87 484,346.2 C483.33,344.53 483.33,336.70 484,335.2Z"/><path d="M551.2,304.1 C552.22,302.43 553.95,299.77 555.3,299.1 C556.65,298.43 557.63,299.10 559.3,300.1 C560.97,301.10 562.97,304.77 565.3,305.1 C567.63,305.43 570.68,303.10 573.3,302.1 C575.92,301.10 578.38,300.15 581,299.1 C583.62,298.05 586.70,296.48 589,295.8 C591.30,295.12 592.90,294.87 594.8,295 C596.70,295.13 598.62,295.92 600.4,296.6 C602.18,297.28 605.00,297.68 605.5,299.1 C606.00,300.52 606.75,301.77 603.4,305.1 C600.05,308.43 590.25,315.08 585.4,319.1 C580.55,323.12 576.65,327.68 574.3,329.2 C571.95,330.72 572.80,329.22 571.3,328.2 C569.80,327.18 567.30,324.28 565.3,323.1 C563.30,321.92 561.30,321.27 559.3,321.1 C557.30,320.93 554.65,322.60 553.3,322.1 C551.95,321.60 551.03,319.60 551.2,318.1 C551.37,316.60 554.63,314.60 554.3,313.1 C553.97,311.60 549.72,310.60 549.2,309.1 C548.68,307.60 550.18,305.77 551.2,304.1Z"/><path d="M524.1,310.1 C525.10,308.77 528.35,307.53 531.2,307.1 C534.05,306.67 538.20,307.23 541.2,307.5 C544.20,307.77 548.53,307.93 549.2,308.7 C549.87,309.47 547.20,311.20 545.2,312.1 C543.20,313.00 539.70,313.27 537.2,314.1 C534.70,314.93 532.20,316.93 530.2,317.1 C528.20,317.27 526.22,316.27 525.2,315.1 C524.18,313.93 523.10,311.43 524.1,310.1Z"/><path d="M528.2,327.2 C529.37,326.03 532.70,328.37 535.2,328.2 C537.70,328.03 540.53,326.70 543.2,326.2 C545.87,325.70 549.18,324.87 551.2,325.2 C553.22,325.53 555.12,326.87 555.3,328.2 C555.48,329.53 552.47,331.53 552.3,333.2 C552.13,334.87 554.82,336.20 554.3,338.2 C553.78,340.20 551.05,343.53 549.2,345.2 C547.35,346.87 545.20,348.20 543.2,348.2 C541.20,348.20 538.87,346.03 537.2,345.2 C535.53,344.37 533.70,342.53 533.2,343.2 C532.70,343.87 534.53,347.35 534.2,349.2 C533.87,351.05 532.70,353.28 531.2,354.3 C529.70,355.32 527.22,354.63 525.2,355.3 C523.18,355.97 521.12,357.97 519.1,358.3 C517.08,358.63 514.27,358.30 513.1,357.3 C511.93,356.30 511.77,354.15 512.1,352.3 C512.43,350.45 513.77,347.88 515.1,346.2 C516.43,344.52 518.42,343.20 520.1,342.2 C521.78,341.20 523.85,341.37 525.2,340.2 C526.55,339.03 527.70,337.37 528.2,335.2 C528.70,333.03 527.03,328.37 528.2,327.2Z"/><path d="M511.1,378.4 C511.43,377.22 513.60,375.82 515.1,374.3 C516.60,372.78 518.60,370.97 520.1,369.3 C521.60,367.63 522.58,365.13 524.1,364.3 C525.62,363.47 527.85,363.63 529.2,364.3 C530.55,364.97 530.87,367.30 532.2,368.3 C533.53,369.30 536.20,369.30 537.2,370.3 C538.20,371.30 538.53,372.95 538.2,374.3 C537.87,375.65 537.37,377.55 535.2,378.4 C533.03,379.25 527.88,378.57 525.2,379.4 C522.52,380.23 521.12,383.07 519.1,383.4 C517.08,383.73 514.43,382.23 513.1,381.4 C511.77,380.57 510.77,379.58 511.1,378.4Z"/></g>
<g fill="#ffffff"><path d="M286.9,355.3 C287.78,354.55 289.32,353.25 290.7,353 C292.08,352.75 294.70,352.92 295.2,353.8 C295.70,354.68 294.58,356.92 293.7,358.3 C292.82,359.68 291.17,361.72 289.9,362.1 C288.63,362.48 286.85,361.37 286.1,360.6 C285.35,359.83 285.27,358.38 285.4,357.5 C285.53,356.62 286.02,356.05 286.9,355.3Z"/><path d="M309.5,350 C309.75,349.12 311.95,348.25 313.2,348.5 C314.45,348.75 315.98,350.37 317,351.5 C318.02,352.63 319.43,354.80 319.3,355.3 C319.17,355.80 317.47,354.75 316.2,354.5 C314.93,354.25 312.82,354.55 311.7,353.8 C310.58,353.05 309.25,350.88 309.5,350Z"/><path d="M308,362.1 C308.62,361.10 310.83,360.93 311.7,361.3 C312.57,361.67 313.20,363.05 313.2,364.3 C313.20,365.55 312.57,368.30 311.7,368.8 C310.83,369.30 308.62,368.42 308,367.3 C307.38,366.18 307.38,363.10 308,362.1Z"/><path d="M307.7,363 C308.33,362.00 309.57,360.92 310.7,360.8 C311.83,360.68 313.50,361.43 314.5,362.3 C315.50,363.17 315.58,364.88 316.7,366 C317.82,367.12 320.32,367.73 321.2,369 C322.08,370.27 322.50,372.58 322,373.6 C321.50,374.62 319.70,374.98 318.2,375.1 C316.70,375.22 314.50,375.07 313,374.3 C311.50,373.53 310.22,371.75 309.2,370.5 C308.18,369.25 307.15,368.05 306.9,366.8 C306.65,365.55 307.07,364.00 307.7,363Z"/><path d="M288.9,372.8 C289.53,372.17 292.02,371.30 293.4,371.3 C294.78,371.30 296.95,372.17 297.2,372.8 C297.45,373.43 296.17,374.72 294.9,375.1 C293.63,375.48 290.60,375.48 289.6,375.1 C288.60,374.72 288.27,373.43 288.9,372.8Z"/><path d="M285.9,408.9 C286.52,408.03 288.60,406.82 289.6,406.7 C290.60,406.58 292.02,407.33 291.9,408.2 C291.78,409.07 289.90,411.28 288.9,411.9 C287.90,412.52 286.40,412.40 285.9,411.9 C285.40,411.40 285.28,409.77 285.9,408.9Z"/><path d="M292.6,417.2 C293.12,416.45 295.07,416.00 295.7,416.5 C296.33,417.00 296.53,419.20 296.4,420.2 C296.27,421.20 295.53,422.37 294.9,422.5 C294.27,422.63 292.98,421.88 292.6,421 C292.22,420.12 292.08,417.95 292.6,417.2Z"/><path d="M300.2,434.5 C300.83,433.80 303.07,432.72 304.7,432.3 C306.33,431.88 308.87,431.63 310,432 C311.13,432.37 312.13,433.83 311.5,434.5 C310.87,435.17 307.97,435.67 306.2,436 C304.43,436.33 301.90,436.75 300.9,436.5 C299.90,436.25 299.57,435.20 300.2,434.5Z"/><path d="M328.8,417.2 C329.30,416.55 332.92,415.05 334.8,414.5 C336.68,413.95 339.72,413.65 340.1,413.9 C340.48,414.15 338.48,415.25 337.1,416 C335.72,416.75 333.18,418.20 331.8,418.4 C330.42,418.60 328.30,417.85 328.8,417.2Z"/><path d="M494.1,236.2 C494.27,235.42 495.60,234.85 496.1,235.2 C496.60,235.55 497.27,237.52 497.1,238.3 C496.93,239.08 495.60,240.25 495.1,239.9 C494.60,239.55 493.93,236.98 494.1,236.2Z"/></g>
<g fill="#fcd37f"><path d="M48.1,61 C52.72,58.98 55.07,54.82 73.8,58 C92.53,61.18 146.22,75.92 160.5,80.1 C174.78,84.28 159.83,81.93 159.5,83.1 C159.17,84.27 159.33,85.92 158.5,87.1 C157.67,88.28 156.17,89.35 154.5,90.2 C152.83,91.05 150.50,91.70 148.5,92.2 C146.50,92.70 143.83,92.37 142.5,93.2 C141.17,94.03 141.18,96.03 140.5,97.2 C139.82,98.37 139.25,100.03 138.4,100.2 C137.55,100.37 136.23,99.37 135.4,98.2 C134.57,97.03 134.40,94.72 133.4,93.2 C132.40,91.68 130.90,90.12 129.4,89.1 C127.90,88.08 126.57,87.60 124.4,87.1 C122.23,86.60 119.08,86.33 116.4,86.1 C113.72,85.87 110.98,85.53 108.3,85.7 C105.62,85.87 102.80,86.35 100.3,87.1 C97.80,87.85 95.47,88.95 93.3,90.2 C91.13,91.45 89.15,93.10 87.3,94.6 C85.45,96.10 83.72,97.60 82.2,99.2 C80.68,100.80 79.53,102.53 78.2,104.2 C76.87,105.87 75.37,107.70 74.2,109.2 C73.03,110.70 72.37,111.85 71.2,113.2 C70.03,114.55 68.53,116.12 67.2,117.3 C65.87,118.48 64.37,119.30 63.2,120.3 C62.03,121.30 61.38,122.13 60.2,123.3 C59.02,124.47 57.78,126.47 56.1,127.3 C54.42,128.13 52.10,128.30 50.1,128.3 C48.10,128.30 46.43,127.47 44.1,127.3 C41.77,127.13 36.77,128.80 36.1,127.3 C35.43,125.80 38.77,121.15 40.1,118.3 C41.43,115.45 43.10,112.55 44.1,110.2 C45.10,107.85 45.60,106.70 46.1,104.2 C46.60,101.70 46.77,97.53 47.1,95.2 C47.43,92.87 48.27,94.38 48.1,90.2 C47.93,86.02 46.10,74.97 46.1,70.1 C46.10,65.23 43.48,63.02 48.1,61Z"/><path d="M301.5,106.2 C302.00,105.03 305.17,104.37 307.5,104.2 C309.83,104.03 313.83,103.87 315.5,105.2 C317.17,106.53 318.17,110.87 317.5,112.2 C316.83,113.53 313.67,113.37 311.5,113.2 C309.33,113.03 306.17,112.37 304.5,111.2 C302.83,110.03 301.00,107.37 301.5,106.2Z"/><path d="M190.1,288.4 C191.38,285.48 193.10,284.60 195.1,283.6 C197.10,282.60 200.27,281.93 202.1,282.4 C203.93,282.87 205.10,284.30 206.1,286.4 C207.10,288.50 207.93,291.88 208.1,295 C208.27,298.12 207.93,302.42 207.1,305.1 C206.27,307.78 204.60,309.43 203.1,311.1 C201.60,312.77 199.10,312.75 198.1,315.1 C197.10,317.45 197.43,322.18 197.1,325.2 C196.77,328.22 196.93,331.03 196.1,333.2 C195.27,335.37 193.62,337.53 192.1,338.2 C190.58,338.87 188.18,338.37 187,337.2 C185.82,336.03 185.17,334.88 185,331.2 C184.83,327.52 185.60,320.12 186,315.1 C186.40,310.08 186.72,305.55 187.4,301.1 C188.08,296.65 188.82,291.32 190.1,288.4Z"/><path d="M306.5,293.6 C307.37,292.72 308.83,291.57 310.2,291.3 C311.57,291.03 313.43,291.37 314.7,292 C315.97,292.63 317.17,293.97 317.8,295.1 C318.43,296.23 319.02,298.05 318.5,298.8 C317.98,299.55 315.83,299.60 314.7,299.6 C313.57,299.60 312.45,298.30 311.7,298.8 C310.95,299.30 310.82,301.35 310.2,302.6 C309.58,303.85 308.87,305.30 308,306.3 C307.13,307.30 305.88,308.60 305,308.6 C304.12,308.60 303.58,307.30 302.7,306.3 C301.82,305.30 299.83,303.97 299.7,302.6 C299.57,301.23 301.02,299.10 301.9,298.1 C302.78,297.10 304.23,297.35 305,296.6 C305.77,295.85 305.63,294.48 306.5,293.6Z"/><path d="M274.8,324.4 C274.80,323.40 276.63,322.45 277.9,322.2 C279.17,321.95 280.53,322.53 282.4,322.9 C284.27,323.27 286.97,324.27 289.1,324.4 C291.23,324.53 292.93,324.32 295.2,323.7 C297.47,323.08 300.20,321.33 302.7,320.7 C305.20,320.07 307.68,319.90 310.2,319.9 C312.72,319.90 315.28,320.20 317.8,320.7 C320.32,321.20 323.55,321.90 325.3,322.9 C327.05,323.90 327.80,325.32 328.3,326.7 C328.80,328.08 328.80,329.82 328.3,331.2 C327.80,332.58 326.55,334.12 325.3,335 C324.05,335.88 322.32,336.38 320.8,336.5 C319.28,336.62 317.97,336.20 316.2,335.7 C314.43,335.20 311.95,333.50 310.2,333.5 C308.45,333.50 307.45,335.45 305.7,335.7 C303.95,335.95 301.70,335.25 299.7,335 C297.70,334.75 295.47,333.95 293.7,334.2 C291.93,334.45 290.48,336.50 289.1,336.5 C287.72,336.50 286.52,335.22 285.4,334.2 C284.28,333.18 283.65,331.40 282.4,330.4 C281.15,329.40 279.17,329.20 277.9,328.2 C276.63,327.20 274.80,325.40 274.8,324.4Z"/><path d="M268.8,346.2 C269.30,344.57 271.08,342.57 272.6,341.7 C274.12,340.83 276.27,340.75 277.9,341 C279.53,341.25 281.40,341.95 282.4,343.2 C283.40,344.45 284.03,346.87 283.9,348.5 C283.77,350.13 282.73,351.87 281.6,353 C280.47,354.13 278.60,355.05 277.1,355.3 C275.60,355.55 273.85,355.13 272.6,354.5 C271.35,353.87 270.23,352.88 269.6,351.5 C268.97,350.12 268.30,347.83 268.8,346.2Z"/><path d="M277.9,368.8 C278.53,367.98 281.03,367.85 282.4,368.1 C283.77,368.35 285.60,369.48 286.1,370.3 C286.60,371.12 286.65,372.55 285.4,373 C284.15,373.45 279.85,373.70 278.6,373 C277.35,372.30 277.27,369.62 277.9,368.8Z"/><path d="M277.6,369 C277.98,367.73 280.72,367.37 282.1,367.5 C283.48,367.63 285.40,368.67 285.9,369.8 C286.40,370.93 284.85,372.67 285.1,374.3 C285.35,375.93 287.15,377.85 287.4,379.6 C287.65,381.35 287.23,384.05 286.6,384.8 C285.97,385.55 284.35,384.97 283.6,384.1 C282.85,383.23 282.73,381.10 282.1,379.6 C281.47,378.10 280.55,376.87 279.8,375.1 C279.05,373.33 277.22,370.27 277.6,369Z"/><path d="M298.7,415.7 C299.33,414.45 300.70,413.95 301.7,414.2 C302.70,414.45 304.08,415.70 304.7,417.2 C305.32,418.70 305.53,421.18 305.4,423.2 C305.27,425.22 304.52,428.03 303.9,429.3 C303.28,430.57 302.57,431.18 301.7,430.8 C300.83,430.42 299.33,428.52 298.7,427 C298.07,425.48 297.90,423.58 297.9,421.7 C297.90,419.82 298.07,416.95 298.7,415.7Z"/><path d="M314.5,381.1 C314.87,380.55 317.38,379.80 318.2,380 C319.02,380.20 319.77,381.75 319.4,382.3 C319.03,382.85 316.82,383.50 316,383.3 C315.18,383.10 314.13,381.65 314.5,381.1Z"/><path d="M311.2,386.3 C311.63,385.85 313.83,385.57 314.5,385.9 C315.17,386.23 315.63,387.85 315.2,388.3 C314.77,388.75 312.57,388.93 311.9,388.6 C311.23,388.27 310.77,386.75 311.2,386.3Z"/><path d="M304.7,439.8 C305.70,438.42 308.45,437.68 310.7,436.8 C312.95,435.92 315.68,435.50 318.2,434.5 C320.72,433.50 323.53,431.80 325.8,430.8 C328.07,429.80 329.92,428.50 331.8,428.5 C333.68,428.50 335.85,429.67 337.1,430.8 C338.35,431.93 340.43,433.42 339.3,435.3 C338.17,437.18 332.55,440.60 330.3,442.1 C328.05,443.60 327.57,443.30 325.8,444.3 C324.03,445.30 321.47,446.97 319.7,448.1 C317.93,449.23 316.70,450.28 315.2,451.1 C313.70,451.92 312.08,453.13 310.7,453 C309.32,452.87 307.90,451.62 306.9,450.3 C305.90,448.98 305.07,446.85 304.7,445.1 C304.33,443.35 303.70,441.18 304.7,439.8Z"/><path d="M468.5,345.2 C469.00,344.20 470.82,342.53 472.5,342.2 C474.18,341.87 477.42,342.37 478.6,343.2 C479.78,344.03 480.28,346.20 479.6,347.2 C478.92,348.20 476.18,349.03 474.5,349.2 C472.82,349.37 470.50,348.87 469.5,348.2 C468.50,347.53 468.00,346.20 468.5,345.2Z"/><path d="M478.6,376.3 C478.93,374.78 482.70,372.80 484.6,371.3 C486.50,369.80 489.93,368.97 490,367.3 C490.07,365.63 484.83,362.30 485,361.3 C485.17,360.30 489.00,360.63 491,361.3 C493.00,361.97 495.48,363.63 497,365.3 C498.52,366.97 500.10,369.47 500.1,371.3 C500.10,373.13 499.52,375.12 497,376.3 C494.48,377.48 487.40,377.72 485,378.4 C482.60,379.08 483.67,380.75 482.6,380.4 C481.53,380.05 478.27,377.82 478.6,376.3Z"/><path d="M481.6,319.1 C481.77,318.10 486.77,314.77 487.6,315.1 C488.43,315.43 487.60,320.43 486.6,321.1 C485.60,321.77 481.43,320.10 481.6,319.1Z"/><path d="M582.4,303.1 C583.73,301.60 585.23,299.95 587.4,299.1 C589.57,298.25 592.73,298.18 595.4,298 C598.07,297.82 601.05,298.50 603.4,298 C605.75,297.50 609.15,294.15 609.5,295 C609.85,295.85 608.18,301.08 605.5,303.1 C602.82,305.12 596.25,305.77 593.4,307.1 C590.55,308.43 590.07,309.77 588.4,311.1 C586.73,312.43 584.90,314.10 583.4,315.1 C581.90,316.10 581.08,317.43 579.4,317.1 C577.72,316.77 574.98,314.43 573.3,313.1 C571.62,311.77 569.30,310.10 569.3,309.1 C569.30,308.10 571.62,307.27 573.3,307.1 C574.98,306.93 577.88,308.77 579.4,308.1 C580.92,307.43 581.07,304.60 582.4,303.1Z"/><path d="M565.3,315.1 C565.30,313.60 566.95,312.60 569.3,313.1 C571.65,313.60 578.40,316.08 579.4,318.1 C580.40,320.12 576.98,324.53 575.3,325.2 C573.62,325.87 570.97,323.78 569.3,322.1 C567.63,320.42 565.30,316.60 565.3,315.1Z"/><path d="M517.1,349.2 C517.60,347.68 519.42,345.20 521.1,344.2 C522.78,343.20 525.68,342.70 527.2,343.2 C528.72,343.70 530.03,345.68 530.2,347.2 C530.37,348.72 529.55,351.12 528.2,352.3 C526.85,353.48 523.78,354.13 522.1,354.3 C520.42,354.47 518.93,354.15 518.1,353.3 C517.27,352.45 516.60,350.72 517.1,349.2Z"/><path d="M536.2,338.2 C536.77,337.20 538.87,335.87 540.2,336.2 C541.53,336.53 543.37,338.87 544.2,340.2 C545.03,341.53 545.87,343.37 545.2,344.2 C544.53,345.03 541.60,345.53 540.2,345.2 C538.80,344.87 537.47,343.37 536.8,342.2 C536.13,341.03 535.63,339.20 536.2,338.2Z"/></g>
<g fill="#ffaa00"><path d="M50.2,62.8 C51.18,63.28 53.38,64.73 54.6,65.7 C55.82,66.67 57.02,67.72 57.5,68.6 C57.98,69.48 57.02,70.03 57.5,71 C57.98,71.97 59.43,73.35 60.4,74.4 C61.37,75.45 63.07,76.17 63.3,77.3 C63.53,78.43 62.20,79.73 61.8,81.2 C61.40,82.67 60.73,84.80 60.9,86.1 C61.07,87.40 62.08,88.35 62.8,89 C63.52,89.65 65.03,89.20 65.2,90 C65.37,90.80 64.37,92.52 63.8,93.8 C63.23,95.08 62.53,96.72 61.8,97.7 C61.07,98.68 60.60,99.70 59.4,99.7 C58.20,99.70 56.38,98.12 54.6,97.7 C52.82,97.28 49.68,103.02 48.7,97.2 C47.72,91.38 48.45,68.53 48.7,62.8 C48.95,57.07 49.22,62.32 50.2,62.8Z"/><path d="M75.9,68.6 C76.35,67.55 77.75,66.60 78.8,66.2 C79.85,65.80 81.38,65.80 82.2,66.2 C83.02,66.60 83.53,67.55 83.7,68.6 C83.87,69.65 83.53,71.20 83.2,72.5 C82.87,73.80 82.43,75.12 81.7,76.4 C80.97,77.68 79.85,79.23 78.8,80.2 C77.75,81.17 76.28,82.12 75.4,82.2 C74.52,82.28 73.65,81.60 73.5,80.7 C73.35,79.80 74.07,78.17 74.5,76.8 C74.93,75.43 75.87,73.87 76.1,72.5 C76.33,71.13 75.45,69.65 75.9,68.6Z"/><path d="M314,324.4 C314.43,323.40 315.75,322.45 317,322.2 C318.25,321.95 320.25,322.28 321.5,322.9 C322.75,323.52 324.00,324.77 324.5,325.9 C325.00,327.03 325.00,328.70 324.5,329.7 C324.00,330.70 322.75,331.65 321.5,331.9 C320.25,332.15 318.18,331.82 317,331.2 C315.82,330.58 314.90,329.33 314.4,328.2 C313.90,327.07 313.57,325.40 314,324.4Z"/><path d="M297.9,325.2 C298.15,324.55 299.60,324.00 300.4,324 C301.20,324.00 302.45,324.55 302.7,325.2 C302.95,325.85 302.53,327.45 301.9,327.9 C301.27,328.35 299.57,328.35 298.9,327.9 C298.23,327.45 297.65,325.85 297.9,325.2Z"/><path d="M301.9,331.9 C302.15,331.07 303.98,330.40 305,330.4 C306.02,330.40 307.63,331.13 308,331.9 C308.37,332.67 307.95,334.42 307.2,335 C306.45,335.58 304.38,335.92 303.5,335.4 C302.62,334.88 301.65,332.73 301.9,331.9Z"/><path d="M284.9,327.9 C285.27,327.40 287.63,326.90 289.1,327 C290.57,327.10 293.18,327.93 293.7,328.5 C294.22,329.07 293.33,330.15 292.2,330.4 C291.07,330.65 288.12,330.42 286.9,330 C285.68,329.58 284.53,328.40 284.9,327.9Z"/><path d="M274.8,348.5 C275.10,347.95 276.42,347.42 277.1,347.5 C277.78,347.58 278.77,348.40 278.9,349 C279.03,349.60 278.50,350.80 277.9,351.1 C277.30,351.40 275.82,351.23 275.3,350.8 C274.78,350.37 274.50,349.05 274.8,348.5Z"/><path d="M304.7,442.1 C305.20,441.08 307.57,439.38 309.2,439 C310.83,438.62 313.25,439.17 314.5,439.8 C315.75,440.43 316.58,441.67 316.7,442.8 C316.82,443.93 316.20,445.97 315.2,446.6 C314.20,447.23 312.20,446.85 310.7,446.6 C309.20,446.35 307.20,445.85 306.2,445.1 C305.20,444.35 304.20,443.12 304.7,442.1Z"/><path d="M471.1,345.2 C471.10,344.73 472.27,343.80 472.9,343.8 C473.53,343.80 474.90,344.73 474.9,345.2 C474.90,345.67 473.53,346.60 472.9,346.6 C472.27,346.60 471.10,345.67 471.1,345.2Z"/><path d="M493,368.3 C492.93,367.53 494.27,366.30 495,366.3 C495.73,366.30 497.33,367.53 497.4,368.3 C497.47,369.07 496.13,370.90 495.4,370.9 C494.67,370.90 493.07,369.07 493,368.3Z"/><path d="M485,375.3 C485.13,374.62 486.73,374.03 487.4,374.3 C488.07,374.57 489.13,376.22 489,376.9 C488.87,377.58 487.27,378.67 486.6,378.4 C485.93,378.13 484.87,375.98 485,375.3Z"/></g>
</g>
<g fill="#9fd8f2" stroke="#4a90f0" stroke-width="0.8" stroke-linejoin="round"><path d="M396.11,133.2 L397.51,131.97 L399.18,131.07 L400.49,129.74 L402.01,128.65 L403.28,127.28 L404.9,126.33 L406.26,125.09 L407.52,123.73 L409.1,122.74 L410.21,121.18 L411.51,120.13 L413.14,119.5 L414.49,118.52 L415.76,117.42 L417.06,116.37 L418.11,114.98 L419.53,114.08 L421.08,113.36 L422.06,111.95 L423.43,110.9 L424.61,109.66 L426.17,108.82 L427.04,107.26 L428.19,106.02 L429.51,104.72 L431.02,103.59 L432.05,102.04 L433.4,100.77 L434.54,99.33 L436.09,97.67 L437.31,96.13 L439.04,96.36 L440.82,96.44 L442.4,96.92 L444.13,97.48 L445.86,97.23 L447.59,97.55 L449.31,97.28 L451.04,97.55 L452.77,97.13 L454.29,97.37 L455.3,98.61 L456.28,99.87 L457.54,100.92 L458.62,102.11 L459.4,103.53 L460.4,104.78 L461.62,105.85 L462.48,107.36 L464.07,107.66 L465.67,107.84 L467.33,107.57 L468.9,108.02 L470.4,108.3 L471.78,109.59 L473.3,110.74 L474.72,112.09 L475.21,113.76 L475.79,115.38 L477.09,116.64 L477.79,118.22 L476.76,116.76 L476.27,115.07 L476.58,116.88 L477.37,118.5 L478.46,120.06 L478.61,122.09 L478.91,124.09 L479.08,126.13 L479.55,128.14 L480.11,130.29 L482.26,130.99 L484.1,132.18 L486.2,134.47 L483.13,134.17 L481.93,132.87 L480.72,131.58 L479.62,130.18 L478.26,128.85 L476.17,128.73 L474.21,128.12 L472.13,128.96 L470.22,130.17 L468.3,131.08 L466.14,131.26 L464.31,132.41 L462.52,132.53 L461.05,133.55 L459.45,134.19 L457.76,134.62 L456.07,135.2 L454.04,134.6 L452.16,133.6 L450.22,132.94 L448.64,132.26 L447.56,130.94 L446.16,129.99 L444.12,129.05 L442.25,128.04 L441.64,126.35 L440.82,124.75 L439.82,122.96 L441.16,121.13 L442.19,119.38 L438.86,119.86 L437.76,121.43 L436.39,122.72 L435.04,124.03 L433.57,125.62 L431.97,127.05 L430.55,127.94 L429.09,128.77 L427.55,129.44 L425.97,129.98 L424.02,130.72 L421.99,131.13 L419.84,131.48 L418.18,133.04 L416.34,134.54 L414.33,134.81 L412.29,134.93 L410.55,135.22 L409.48,132.02 L407.62,131.56 L406.21,130.14 L404.81,130.94 L403.45,131.81 L401.97,132.47 L400.84,133.74 L399.34,134.17 L397.76,133.76 L396.2,133.3Z"/><path d="M480.2,140.2 L478.19,139.15 L476.24,138.54 L474.23,138.23 L472.13,137.91 L470.22,138.87 L468.1,139.2 L466.3,140.4 L464.61,140.77 L463.15,141.59 L461.8,142.65 L459.94,143.04 L459.06,144.8 L458.39,146.69 L456.94,148.13 L456.32,149.65 L455.75,151.19 L455.41,152.84 L454.33,154.15 L453.47,155.57 L452.83,157.1 L452.66,158.83 L451.85,160.33 L451.61,162.04 L450.8,163.54 L450.42,165.19 L449.66,166.71 L449.33,168.33 L448.92,170.02 L448.78,171.74 L448.66,173.46 L448.04,175.13 L447.8,176.84 L447.83,178.58 L447.5,180.31 L447.68,181.97 L447.65,183.64 L448.08,185.29 L448.13,186.96 L448.17,188.63 L448.1,190.3 L448.42,191.99 L448.48,193.72 L448.89,195.39 L449.55,197.01 L449.85,198.7 L449.97,200.46 L450.7,202.22 L451.89,203.78 L452.4,205.63 L453.32,207.14 L454.35,208.64 L455.55,209.92 L457.03,210.59 L459.17,210.15 L461.46,209.56 L462.09,207.66 L462.93,205.9 L464.26,204.42 L464.74,202.82 L465.27,201.23 L465.89,199.68 L466.04,197.98 L466.68,196.4 L467,194.73 L466.58,193.02 L466.59,191.33 L467.06,189.67 L466.86,187.97 L467.42,186.26 L467.13,184.58 L466.64,182.95 L466.31,181.28 L465.99,179.61 L465.19,178.03 L464.87,176.36 L464.57,174.68 L464.68,172.9 L464.45,171.2 L463.72,169.6 L463.33,167.92 L463.19,166.2 L463.79,164.65 L464.12,163.03 L464.07,161.32 L464.55,159.74 L465.01,158.01 L466.68,157.18 L467.94,155.94 L468.73,154.23 L470,153.3 L470.9,155.35 L472.51,157.29 L472.53,155.4 L473.48,153.78 L473.49,151.89 L473.87,150.09 L474.58,148.11 L475.23,146.1 L476.43,144.43 L477.52,142.85 L478.99,141.66 L480.2,140.2Z"/><path d="M459,143 L457.23,144.45 L455.02,145.15 L454.16,146.84 L453.07,148.38 L452.15,150.03 L451.16,151.64 L449.99,153.14 L449.06,154.58 L448.63,156.31 L447.44,157.61 L446.69,159.16 L445.95,160.71 L444.98,162.14 L444.24,163.62 L443.7,165.33 L445.69,165.2 L446.75,163.81 L447.57,162.29 L448.24,160.69 L448.89,159.08 L449.77,157.73 L450.56,156.32 L451.42,154.96 L452.55,153.74 L452.89,152.03 L454.24,151.06 L455.14,149.73 L455.98,148.35 L457.22,147.26 L458.02,145.16 L459.1,143.2Z"/><path d="M480.14,140.03 L482.16,139.4 L484.27,138.99 L486.32,138.35 L488.4,137.41 L490.35,136.25 L492.3,135.42 L494.41,135.09 L496.36,134.36 L497.96,133.93 L499.54,133.47 L501.17,133.17 L502.68,132.43 L504.28,132.24 L505.86,132.62 L507.49,132.61 L509.07,132.96 L510.66,133.19 L512.33,132.86 L513.95,133.06 L515.52,133.68 L517.12,134.03 L518.77,133.96 L520.28,134.27 L521.63,135.23 L523.08,136.08 L524.23,137.24 L525.51,138.74 L526.65,140.36 L528.02,141.78 L529.62,142.93 L530.57,144.3 L531.77,145.36 L533.05,146.32 L534.52,147.12 L535.49,148.64 L536.45,150.28 L534.27,151.18 L532.43,152.49 L530.48,151.81 L528.34,151.93 L526.4,151.19 L524.92,152 L523.77,153.25 L522.67,154.04 L521.43,152.51 L520.43,150.85 L519.48,149.09 L518.06,148.21 L516.84,147.05 L515.36,146.19 L514.73,148.16 L514.63,150.05 L515.59,151.57 L516.65,153.04 L517.29,154.78 L518.11,156.24 L518.44,157.82 L518.65,159.42 L518.99,161 L519.06,162.62 L519.48,164.22 L519.03,165.83 L518.3,167.37 L518.1,169.04 L517.89,170.7 L517.5,172.35 L516.76,173.85 L515.91,175.31 L515.38,176.91 L514.4,178.3 L513.6,179.82 L512.52,181.12 L511.4,182.32 L510.81,184.27 L510.72,186.31 L510.23,188.32 L511.22,191.26 L510.55,193.47 L509.21,195.67 L506.21,194.35 L507.54,192.47 L508.15,190.22 L509.57,188.44 L510.14,186.33 L510.12,184.27 L509.46,182.33 L509.37,180.28 L508.58,178.61 L508.22,176.82 L507.93,175.01 L507.53,173.11 L506.27,172.07 L505.15,170.92 L504.53,169.36 L503.49,168.56 L502.06,169.43 L500.48,170.09 L499.22,171.22 L497.78,172.45 L496.46,173.8 L495.26,175.37 L493.41,174.07 L491.2,173.3 L491.18,171.3 L491.42,169.41 L492.83,168.13 L493.91,166.51 L495.23,165.17 L496,163.55 L496.55,161.83 L497.29,160.2 L497.16,158.17 L496.49,156.22 L496.56,154.03 L495.28,152.71 L494.57,151.02 L493.4,149.63 L492.25,148.26 L490.65,147.11 L489.07,145.92 L487.53,144.68 L486.22,143.16 L484.7,142.45 L483.2,141.7 L481.68,140.99 L480.2,140.2Z"/><path d="M501.84,203.97 L502.79,202.57 L503.29,200.94 L504.1,199.47 L505.13,198.16 L506.55,197.25 L508.07,196.53 L509.47,195.6 L511.22,195.34 L512.77,194.41 L514.33,193.49 L515.97,192.72 L517.48,191.7 L519.23,191.15 L520.88,190.46 L522.3,189.3 L523.89,188.48 L525.6,187.9 L527.08,186.87 L528.6,186.31 L529.98,185.5 L531.34,184.63 L532.86,184.09 L534.44,183.65 L535.79,182.76 L537.13,181.81 L538.71,181.11 L540.34,180.53 L542.18,180.52 L543.74,179.77 L545.31,179.07 L546.97,178.7 L548.68,178.57 L550.56,177.93 L550.61,180.05 L551.16,181.82 L550.05,183.15 L548.53,183.94 L547.37,185.21 L545.71,186 L544.35,187.25 L542.84,188.28 L541.01,188.82 L539.81,190.27 L538.3,191.25 L536.79,192.24 L535.2,193.1 L533.71,194.28 L532.17,195.37 L530.45,196.19 L528.82,197.13 L527.38,198.39 L525.42,198.81 L524.14,200.33 L522.39,201.09 L520.63,201.82 L519.11,202.92 L517.55,203.61 L516.01,204.32 L514.57,205.24 L513.09,206.07 L511.08,206.72 L509.15,207.58 L507.17,207.8 L505.09,207.62 L503.24,207.05 L502.1,204.1Z"/><path d="M539.25,169.8 L540.92,168.7 L541.96,167.1 L543.13,165.69 L544.47,164.78 L545.71,163.73 L547.07,162.85 L548.17,161.6 L549.63,160.86 L551.02,160.06 L552.43,159.21 L553.92,158.57 L555.45,158.04 L556.87,157.22 L558.51,156.93 L560.01,156.33 L561.75,155.5 L563.52,154.76 L565.47,154.51 L567.25,153.79 L568.96,152.88 L570.6,152.46 L572.21,151.93 L573.8,151.34 L575.56,151.1 L577.47,149.64 L579.47,148.6 L579.42,150.4 L579.59,152.2 L579.39,154.04 L580.2,156.27 L580.94,158.43 L579.87,159.72 L578.31,160.43 L577.17,161.63 L576.05,162.95 L574.23,163.01 L572.76,164.14 L570.99,164.38 L569.38,165.07 L567.76,165.77 L565.9,165.73 L564.31,166.24 L562.78,166.94 L561.31,167.79 L559.69,168.23 L558.07,168.66 L556.69,169.75 L554.97,169.92 L553.4,170.81 L551.75,171.45 L550.07,171.99 L548.27,171.96 L546.3,172.42 L544.31,172.76 L542.11,172.99 L540.86,171.44 L539.5,170Z"/><path d="M360.96,100.18 L361.15,98.58 L361.31,96.98 L361.35,95.36 L361.21,93.71 L361.51,91.62 L362.88,90.46 L365.09,90.13 L365.6,88.13 L366.45,86.88 L367.29,84.44 L368.61,85.84 L369.64,87.37 L370.55,88.6 L371.24,90.81 L372.89,91.26 L372.79,93.02 L374.38,94.43 L373.85,95.73 L372.91,97.26 L371.52,98.19 L369.88,98.39 L368.24,99.21 L367.04,101.13 L364.91,101.97 L363.06,100.86 L361.1,100.2Z"/><path d="M152.46,197.21 L155.75,197.97 L156.35,200.2 L157.6,202.13 L159.6,202.01 L161.46,202.2 L162.49,203.67 L163.6,205.1 L163.56,207.18 L162.88,209.16 L162.48,211.04 L161.09,211.97 L159.76,212.97 L158.6,214.19 L157.03,213.22 L155.31,212.26 L154.81,210.74 L154.44,209.17 L153.81,207.69 L153.37,206.16 L152.66,204.02 L151.55,202.11 L152.06,200.48 L152.28,198.79 L152.5,197.1Z"/><path d="M565.97,433.32 L567.07,431.43 L568.35,430.01 L570.13,429.77 L571.75,430.21 L572.34,432.19 L572.92,434.32 L571.81,435.61 L570.45,436.42 L567.42,435.79 L565.8,433.2Z"/><path d="M90.37,318.92 L92.27,318.11 L93.32,319.66 L93.64,321.56 L94.61,323.13 L95.29,325.25 L92.98,324.54 L91.88,322.8 L90.49,321.13 L90.3,318.7Z"/><path d="M360.94,115.01 L362.64,114.31 L363.55,112.68 L365.12,111.68 L367.03,112.54 L369.02,112.51 L367.62,113.92 L366.2,115.39 L364.21,116.46 L361.82,117.44 L361.1,115.2Z"/><path d="M377.73,140.52 L379.92,139.87 L380.13,141.67 L380.68,143.57 L378.87,144.34 L378.13,142.56 L377.8,140.7Z"/><path d="M60.13,218.07 L61.68,217.48 L63.42,219.62 L61.91,220.85 L60.2,218.2Z"/></g>
<g fill="#ffffff" stroke="#4a90f0" stroke-width="0.6"><path d="M499.3,137.1 L504.3,135.7 L509.3,136.1 L511.3,139.1 L507.3,141.2 L502.3,140.2Z"/><path d="M564.3,154 L567.3,152.8 L570.3,154 L567.3,155.6Z"/></g>
<g fill="none" stroke="#1e90ff" stroke-width="1.1" stroke-linejoin="round" stroke-linecap="round"><path d="M125.55,74.48 C124.73,74.76 121.71,75.42 120.65,76.18 C119.59,76.94 119.56,78.02 119.22,79.04 C118.88,80.06 119.22,81.44 118.63,82.33 C118.04,83.22 116.56,83.54 115.67,84.37 C114.78,85.20 114.57,87.11 113.32,87.3 C112.07,87.49 109.66,86.12 108.15,85.51 C106.64,84.90 105.56,84.18 104.28,83.65 C103.00,83.12 101.52,82.20 100.49,82.33 C99.45,82.46 98.90,83.80 98.07,84.44 C97.24,85.08 96.11,85.28 95.49,86.15 C94.87,87.02 94.65,88.50 94.33,89.66 C94.01,90.82 93.55,91.68 93.57,93.13 C93.59,94.58 93.78,96.80 94.43,98.36 C95.08,99.92 96.50,101.02 97.45,102.5 C98.40,103.98 99.54,105.87 100.12,107.23 C100.70,108.59 100.73,109.52 100.93,110.68 C101.13,111.84 101.24,113.61 101.3,114.2"/><path d="M101.06,113.9 C101.50,113.60 102.85,112.77 103.7,112.08 C104.55,111.39 105.26,110.25 106.18,109.77 C107.11,109.29 108.23,109.37 109.25,109.21 C110.27,109.05 111.29,108.94 112.31,108.83 C113.33,108.72 114.34,108.68 115.36,108.57 C116.38,108.46 117.28,107.57 118.42,108.18 C119.56,108.79 121.39,111.07 122.18,112.25 C122.97,113.43 122.87,114.23 123.14,115.24 C123.41,116.25 123.69,117.79 123.8,118.3"/><path d="M129.16,73.73 C129.26,74.43 129.55,76.53 129.77,77.92 C129.99,79.31 129.99,80.97 130.46,82.05 C130.93,83.13 131.97,83.57 132.61,84.43 C133.26,85.30 133.37,86.46 134.33,87.24 C135.30,88.02 137.72,88.79 138.4,89.1"/><path d="M140.81,90 C141.05,90.56 141.64,92.33 142.24,93.37 C142.84,94.41 143.67,95.30 144.42,96.25 C145.17,97.20 146.07,98.04 146.72,99.06 C147.37,100.08 147.63,101.45 148.32,102.38 C149.01,103.31 150.05,103.85 150.84,104.66 C151.63,105.47 152.29,106.41 153.09,107.21 C153.89,108.01 154.82,108.68 155.63,109.47 C156.44,110.26 157.17,111.12 157.96,111.94 C158.75,112.76 159.46,113.70 160.35,114.4 C161.24,115.10 162.32,115.52 163.28,116.12 C164.24,116.72 165.29,117.27 166.12,117.98 C166.95,118.69 167.70,119.48 168.25,120.36 C168.80,121.24 169.22,122.25 169.44,123.24 C169.66,124.23 169.51,125.29 169.55,126.31 C169.59,127.33 169.49,128.37 169.66,129.37 C169.83,130.37 170.44,131.81 170.6,132.3"/><path d="M158.59,81.08 C158.75,81.58 159.34,83.03 159.53,84.05 C159.72,85.07 159.55,86.14 159.76,87.18 C159.97,88.22 160.85,89.30 160.81,90.3 C160.77,91.30 159.88,92.22 159.52,93.21 C159.16,94.20 159.00,95.26 158.64,96.25 C158.27,97.24 157.64,98.12 157.33,99.14 C157.02,100.16 157.29,101.40 156.76,102.37 C156.23,103.34 154.86,104.00 154.15,104.97 C153.44,105.94 152.78,107.66 152.5,108.2"/><path d="M59.15,112.24 C58.70,112.72 57.29,114.11 56.44,115.12 C55.59,116.13 54.79,117.09 54.07,118.29 C53.35,119.49 52.81,120.98 52.1,122.3 C51.39,123.62 50.27,124.89 49.81,126.23 C49.35,127.57 49.69,128.98 49.34,130.36 C49.00,131.75 47.62,133.38 47.74,134.54 C47.87,135.70 49.31,136.38 50.09,137.31 C50.87,138.24 51.76,139.07 52.4,140.1 C53.04,141.13 53.30,142.42 53.92,143.47 C54.54,144.52 55.74,145.91 56.1,146.4"/><path d="M24.02,172.28 C24.36,171.79 25.39,170.34 26.05,169.36 C26.71,168.38 27.68,166.89 28,166.4"/><path d="M32,172.5 C32.53,172.01 34.16,170.53 35.16,169.56 C36.16,168.59 36.85,167.11 38.02,166.71 C39.19,166.31 40.84,166.92 42.16,167.16 C43.48,167.40 44.80,168.26 45.92,168.16 C47.04,168.06 47.95,167.18 48.86,166.53 C49.77,165.88 50.45,164.97 51.35,164.29 C52.25,163.61 53.67,163.23 54.27,162.46 C54.87,161.69 54.29,159.94 54.93,159.67 C55.57,159.39 57.13,160.29 58.09,160.81 C59.05,161.33 59.80,162.20 60.71,162.8 C61.62,163.40 62.66,163.81 63.58,164.41 C64.50,165.01 65.76,166.07 66.2,166.4"/><path d="M114.58,156.31 C114.84,157.01 115.49,159.21 116.17,160.51 C116.85,161.81 117.85,163.06 118.64,164.08 C119.43,165.10 120.03,165.95 120.9,166.65 C121.77,167.35 122.96,167.64 123.87,168.29 C124.78,168.94 125.31,169.84 126.38,170.55 C127.45,171.26 128.94,171.98 130.28,172.57 C131.62,173.16 133.71,173.84 134.4,174.1"/><path d="M167.64,174.13 C168.00,173.60 168.97,171.86 169.78,170.97 C170.59,170.08 171.40,169.09 172.49,168.8 C173.59,168.52 175.10,168.98 176.35,169.26 C177.60,169.54 179.39,170.29 180,170.5"/><path d="M189.06,154.49 C188.57,154.23 187.12,153.41 186.13,152.92 C185.14,152.43 184.16,151.97 183.12,151.55 C182.09,151.14 180.65,151.11 179.92,150.43 C179.19,149.75 179.11,148.52 178.72,147.49 C178.33,146.46 177.53,145.37 177.59,144.26 C177.65,143.15 178.65,141.99 179.07,140.81 C179.49,139.63 179.72,138.39 180.11,137.21 C180.51,136.03 180.95,134.87 181.44,133.72 C181.93,132.57 182.91,131.45 183.04,130.29 C183.17,129.13 182.44,127.97 182.24,126.78 C182.04,125.59 182.11,124.34 181.81,123.18 C181.51,122.02 180.76,121.01 180.42,119.8 C180.08,118.59 179.47,116.88 179.75,115.91 C180.03,114.94 181.31,114.58 182.12,113.95 C182.93,113.32 183.83,112.81 184.62,112.14 C185.41,111.47 185.96,110.45 186.85,109.91 C187.74,109.37 188.97,109.35 189.94,108.9 C190.91,108.45 191.73,107.71 192.68,107.23 C193.63,106.75 194.75,106.59 195.67,106.04 C196.59,105.49 197.33,104.47 198.19,103.95 C199.05,103.43 199.85,102.79 200.85,102.93 C201.85,103.07 203.16,104.03 204.19,104.78 C205.22,105.53 206.00,106.75 207,107.43 C208.00,108.11 209.10,108.48 210.2,108.88 C211.30,109.28 212.50,109.44 213.61,109.83 C214.72,110.22 215.74,110.82 216.83,111.25 C217.92,111.68 219.09,111.88 220.16,112.39 C221.23,112.90 222.23,114.17 223.24,114.33 C224.25,114.49 225.20,113.65 226.2,113.37 C227.20,113.09 228.25,113.01 229.23,112.66 C230.21,112.31 231.11,111.65 232.08,111.28 C233.06,110.91 234.05,110.62 235.08,110.45 C236.11,110.28 237.24,110.48 238.26,110.24 C239.28,110.00 240.11,109.15 241.19,109.01 C242.27,108.87 243.58,109.42 244.76,109.39 C245.94,109.36 247.09,109.06 248.26,108.86 C249.42,108.66 250.58,108.22 251.75,108.16 C252.92,108.09 254.13,108.37 255.27,108.47 C256.41,108.57 257.50,108.71 258.61,108.78 C259.73,108.85 260.86,108.77 261.96,108.91 C263.06,109.05 264.18,109.42 265.23,109.61 C266.29,109.80 267.26,109.92 268.29,110.06 C269.32,110.20 270.22,110.41 271.41,110.45 C272.60,110.49 274.10,110.38 275.41,110.3 C276.72,110.22 278.20,109.65 279.28,109.94 C280.36,110.23 281.00,111.34 281.87,112.03 C282.74,112.72 283.68,113.40 284.49,114.1 C285.30,114.80 285.95,115.57 286.72,116.25 C287.49,116.93 288.36,117.55 289.13,118.2 C289.90,118.85 290.48,119.84 291.37,120.14 C292.26,120.44 293.51,120.11 294.48,119.98 C295.45,119.85 296.53,118.86 297.2,119.35 C297.87,119.84 298.15,121.71 298.48,122.91 C298.81,124.11 299.03,125.33 299.19,126.57 C299.35,127.81 299.12,129.04 299.41,130.33 C299.70,131.62 300.37,133.00 300.94,134.32 C301.51,135.64 302.58,137.10 302.84,138.27 C303.10,139.44 302.40,140.34 302.48,141.35 C302.56,142.36 303.25,143.31 303.31,144.32 C303.37,145.33 302.81,146.40 302.81,147.41 C302.81,148.42 303.31,149.31 303.31,150.39 C303.31,151.47 302.87,152.70 302.8,153.87 C302.73,155.04 302.93,156.22 302.9,157.39 C302.87,158.56 302.70,159.72 302.64,160.89 C302.57,162.06 302.34,163.27 302.51,164.39 C302.68,165.51 303.19,166.56 303.67,167.61 C304.15,168.66 304.53,169.99 305.37,170.71 C306.21,171.43 307.70,171.37 308.72,171.93 C309.74,172.50 311.04,173.74 311.5,174.1"/><path d="M265.25,112.17 C264.98,112.66 264.04,114.08 263.61,115.13 C263.18,116.17 263.21,117.44 262.69,118.44 C262.17,119.44 261.06,120.16 260.49,121.12 C259.92,122.08 259.89,123.41 259.24,124.2 C258.59,124.99 257.47,125.32 256.56,125.85 C255.65,126.38 254.67,126.78 253.8,127.37 C252.94,127.97 252.25,128.86 251.37,129.42 C250.49,129.98 249.41,130.23 248.49,130.74 C247.58,131.25 246.74,131.85 245.88,132.5 C245.02,133.15 244.28,134.29 243.34,134.63 C242.40,134.97 241.27,134.45 240.26,134.51 C239.25,134.57 238.26,134.89 237.25,135.01 C236.24,135.13 235.21,135.12 234.2,135.22 C233.19,135.32 232.20,135.43 231.18,135.6 C230.16,135.77 228.80,135.68 228.07,136.24 C227.34,136.80 227.26,138.08 226.78,138.96 C226.30,139.84 225.58,140.59 225.19,141.53 C224.80,142.47 224.94,143.63 224.42,144.59 C223.90,145.55 222.92,146.43 222.09,147.27 C221.26,148.11 220.27,148.78 219.43,149.64 C218.59,150.50 217.44,151.36 217.04,152.41 C216.64,153.46 216.95,154.76 217.03,155.93 C217.11,157.10 217.36,158.25 217.51,159.41 C217.66,160.57 217.85,161.76 217.91,162.9 C217.97,164.04 218.12,164.98 217.88,166.23 C217.64,167.48 217.08,169.10 216.45,170.41 C215.82,171.72 214.49,173.48 214.1,174.1"/><path d="M363.02,127.26 C363.37,126.67 364.20,124.41 365.14,123.73 C366.08,123.05 367.46,123.41 368.67,123.18 C369.88,122.95 371.21,122.12 372.38,122.35 C373.55,122.58 374.50,123.92 375.68,124.55 C376.86,125.18 378.30,125.12 379.45,126.11 C380.60,127.10 382.47,129.16 382.57,130.48 C382.67,131.80 380.98,133.15 380.04,134.06 C379.11,134.97 377.94,135.24 376.96,135.94 C375.98,136.64 374.91,137.40 374.18,138.29 C373.45,139.18 373.03,140.28 372.59,141.29 C372.15,142.29 371.52,143.15 371.52,144.32 C371.51,145.49 372.26,146.99 372.56,148.31 C372.86,149.63 372.81,151.29 373.33,152.26 C373.85,153.23 375.01,153.39 375.71,154.11 C376.41,154.83 376.80,155.90 377.54,156.58 C378.28,157.26 379.37,157.54 380.15,158.17 C380.93,158.80 381.34,159.64 382.22,160.38 C383.11,161.12 384.46,161.75 385.46,162.59 C386.46,163.43 387.74,164.93 388.2,165.4"/><path d="M427.68,144.54 C427.34,145.20 426.26,147.21 425.62,148.51 C424.98,149.81 424.07,151.12 423.82,152.32 C423.57,153.52 423.99,154.59 424.14,155.72 C424.29,156.84 424.48,157.95 424.72,159.07 C424.96,160.19 425.56,161.39 425.57,162.44 C425.58,163.49 425.05,164.39 424.76,165.36 C424.47,166.33 424.07,167.27 423.83,168.25 C423.59,169.23 423.57,170.27 423.32,171.24 C423.06,172.22 422.47,173.62 422.3,174.1"/><path d="M595.42,174.1 C595.36,173.46 595.14,171.57 595.07,170.26 C595.00,168.95 594.41,166.91 594.98,166.22 C595.55,165.53 597.33,166.19 598.5,166.1 C599.67,166.01 600.82,165.84 601.99,165.68 C603.16,165.52 604.06,165.04 605.55,165.15 C607.04,165.26 609.96,165.50 610.91,166.35 C611.86,167.19 611.16,168.93 611.26,170.22 C611.36,171.51 611.46,173.45 611.5,174.1"/><path d="M638,88.18 C637.76,88.72 636.79,90.27 636.56,91.39 C636.33,92.51 636.75,93.76 636.62,94.9 C636.49,96.04 636.01,97.12 635.79,98.24 C635.57,99.36 635.49,100.49 635.3,101.61 C635.11,102.73 634.95,103.85 634.67,104.95 C634.39,106.05 633.78,107.66 633.6,108.2"/><path d="M640.2,91.35 C640.60,90.99 641.78,89.91 642.58,89.2 C643.38,88.49 644.60,87.45 645,87.1"/><path d="M641.77,103.44 C642.33,103.68 644.09,104.33 645.13,104.9 C646.17,105.47 646.95,106.47 648.03,106.88 C649.11,107.29 650.38,107.19 651.58,107.38 C652.78,107.57 654.10,107.21 655.22,108.02 C656.34,108.83 657.89,110.86 658.31,112.23 C658.73,113.60 658.00,114.89 657.76,116.22 C657.52,117.55 656.88,119.08 656.86,120.24 C656.85,121.40 657.46,122.20 657.67,123.19 C657.88,124.18 658.03,125.70 658.1,126.2"/><path d="M39.92,232.18 C39.98,231.51 39.99,229.50 40.25,228.16 C40.51,226.82 41.44,225.37 41.5,224.16 C41.56,222.95 40.85,221.98 40.63,220.88 C40.41,219.78 40.20,218.67 40.17,217.56 C40.14,216.45 40.49,215.37 40.47,214.24 C40.45,213.11 39.95,211.91 40.03,210.79 C40.12,209.66 40.82,208.60 40.98,207.49 C41.13,206.38 41.03,205.26 40.96,204.11 C40.89,202.97 40.66,201.79 40.58,200.62 C40.49,199.45 40.53,198.28 40.45,197.11 C40.37,195.94 40.16,194.78 40.12,193.62 C40.08,192.46 39.68,191.38 40.19,190.17 C40.70,188.96 42.10,187.24 43.18,186.39 C44.26,185.54 45.46,185.50 46.64,185.07 C47.82,184.64 49.06,183.94 50.24,183.82 C51.42,183.70 52.57,184.17 53.73,184.38 C54.89,184.59 56.27,185.71 57.18,185.09 C58.09,184.47 58.06,181.34 59.2,180.68 C60.34,180.02 62.83,180.68 64.04,181.12 C65.25,181.56 65.77,182.51 66.46,183.34 C67.15,184.17 67.91,185.64 68.2,186.1"/><path d="M39.93,233.26 C40.20,233.86 41.03,235.65 41.57,236.85 C42.11,238.05 42.77,239.21 43.16,240.46 C43.55,241.71 43.49,243.20 43.92,244.37 C44.35,245.54 45.25,246.41 45.76,247.5 C46.27,248.59 46.54,249.78 46.95,250.9 C47.36,252.02 47.80,253.19 48.22,254.22 C48.63,255.25 48.84,256.25 49.44,257.07 C50.04,257.89 51.23,258.40 51.84,259.14 C52.45,259.88 51.99,261.30 53.08,261.52 C54.17,261.74 56.85,261.37 58.38,260.48 C59.91,259.59 61.13,256.73 62.25,256.19 C63.37,255.65 64.16,256.86 65.09,257.25 C66.02,257.64 66.91,258.11 67.83,258.51 C68.75,258.91 69.73,259.21 70.62,259.67 C71.52,260.13 72.77,261.03 73.2,261.3"/><path d="M48.15,254.52 C48.81,254.28 50.77,253.47 52.09,253.07 C53.42,252.67 54.76,252.59 56.1,252.1 C57.44,251.61 58.77,250.76 60.11,250.12 C61.45,249.48 62.86,249.14 64.14,248.24 C65.42,247.34 67.19,245.29 67.8,244.7"/><path d="M115.46,281.18 C116.12,281.32 117.89,281.85 119.4,282.03 C120.91,282.21 123.23,281.66 124.54,282.26 C125.85,282.86 126.28,284.62 127.25,285.61 C128.22,286.60 129.16,288.01 130.39,288.18 C131.62,288.35 133.25,287.26 134.61,286.61 C135.97,285.96 137.20,284.56 138.52,284.27 C139.84,283.98 141.19,284.64 142.51,284.86 C143.83,285.08 145.22,285.28 146.42,285.56 C147.61,285.84 148.62,286.06 149.68,286.55 C150.74,287.04 152.09,288.76 152.8,288.52 C153.51,288.28 153.58,286.25 153.94,285.11 C154.30,283.97 154.56,282.80 154.96,281.65 C155.36,280.50 155.56,279.14 156.32,278.18 C157.08,277.22 158.49,276.65 159.55,275.9 C160.61,275.15 161.55,274.27 162.7,273.66 C163.85,273.05 165.22,272.79 166.44,272.25 C167.66,271.71 169.41,270.71 170,270.4"/><path d="M122.29,170.22 C122.78,170.37 124.28,170.74 125.21,171.12 C126.14,171.50 126.96,172.09 127.88,172.51 C128.80,172.93 129.84,173.11 130.75,173.66 C131.66,174.21 132.50,175.05 133.32,175.8 C134.14,176.55 134.83,177.48 135.7,178.17 C136.56,178.86 137.47,179.60 138.51,179.95 C139.54,180.30 140.79,180.13 141.91,180.29 C143.03,180.45 144.13,180.56 145.25,180.91 C146.37,181.26 147.53,182.43 148.61,182.38 C149.70,182.33 150.66,181.03 151.76,180.63 C152.86,180.23 154.09,180.26 155.23,179.99 C156.37,179.72 157.62,179.58 158.61,179.01 C159.60,178.44 160.33,177.39 161.19,176.58 C162.05,175.77 162.89,174.92 163.79,174.16 C164.69,173.40 166.13,172.36 166.6,172"/><path d="M27.24,169.93 C27.54,170.60 28.41,173.79 29.05,173.97 C29.69,174.15 30.76,171.50 31.1,171"/><path d="M191.48,177.11 C191.29,177.70 190.70,179.46 190.37,180.63 C190.04,181.80 189.75,183.01 189.48,184.14 C189.21,185.27 188.87,186.32 188.74,187.43 C188.61,188.54 188.78,189.68 188.68,190.79 C188.58,191.90 188.07,192.84 188.16,194.08 C188.25,195.32 188.75,196.90 189.24,198.24 C189.73,199.58 190.38,201.01 191.08,202.11 C191.78,203.21 192.77,203.86 193.46,204.86 C194.16,205.86 195.07,206.91 195.25,208.12 C195.43,209.34 194.70,210.83 194.56,212.15 C194.42,213.47 194.29,214.84 194.42,216.04 C194.55,217.24 194.89,218.29 195.34,219.33 C195.79,220.37 197.33,221.43 197.14,222.26 C196.94,223.09 195.17,223.65 194.17,224.31 C193.17,224.97 191.97,225.46 191.16,226.24 C190.34,227.02 189.94,228.11 189.28,229 C188.62,229.89 187.91,230.74 187.18,231.59 C186.45,232.44 185.52,233.15 184.92,234.13 C184.32,235.11 184.03,236.37 183.58,237.49 C183.14,238.61 182.72,239.73 182.25,240.86 C181.78,242.00 180.91,243.14 180.73,244.3 C180.55,245.46 181.15,246.63 181.19,247.8 C181.23,248.97 181.05,250.13 180.99,251.3 C180.93,252.47 180.83,253.65 180.83,254.8 C180.83,255.95 181.42,257.06 181,258.2 C180.58,259.33 179.36,260.62 178.31,261.61 C177.26,262.60 175.81,263.19 174.72,264.12 C173.63,265.05 172.71,266.10 171.8,267.2 C170.89,268.30 170.37,269.69 169.24,270.72 C168.11,271.75 165.71,272.95 165,273.4"/><path d="M202.13,193.88 C202.73,193.70 204.52,193.02 205.76,192.8 C207.00,192.58 208.32,192.69 209.54,192.57 C210.76,192.45 212.00,192.03 213.1,192.06 C214.20,192.09 215.12,192.54 216.15,192.72 C217.18,192.90 218.29,192.82 219.28,193.13 C220.27,193.44 221.10,194.22 222.11,194.58 C223.12,194.94 224.38,195.54 225.32,195.3 C226.26,195.06 226.89,193.81 227.73,193.16 C228.57,192.51 229.44,191.95 230.37,191.39 C231.30,190.83 232.28,190.04 233.33,189.81 C234.38,189.58 235.58,189.82 236.68,190.01 C237.78,190.20 238.85,190.76 239.95,190.94 C241.05,191.12 242.45,190.67 243.29,191.11 C244.13,191.56 244.30,192.89 245,193.61 C245.70,194.33 246.75,194.74 247.49,195.43 C248.23,196.12 248.76,197.00 249.44,197.73 C250.12,198.46 250.83,198.99 251.54,199.83 C252.25,200.67 252.84,201.94 253.71,202.76 C254.58,203.58 255.76,204.05 256.73,204.73 C257.70,205.41 258.58,206.22 259.55,206.81 C260.52,207.40 261.62,207.67 262.58,208.26 C263.53,208.85 264.32,209.77 265.28,210.36 C266.24,210.95 267.28,211.37 268.33,211.79 C269.38,212.21 270.55,212.37 271.55,212.87 C272.55,213.37 273.38,214.21 274.35,214.78 C275.32,215.35 276.35,215.91 277.37,216.29 C278.39,216.67 279.48,216.68 280.47,217.04 C281.47,217.40 282.35,218.09 283.34,218.47 C284.33,218.85 285.40,218.98 286.4,219.34 C287.40,219.70 288.32,220.31 289.33,220.62 C290.34,220.93 291.48,220.90 292.48,221.21 C293.48,221.52 294.37,222.13 295.35,222.5 C296.33,222.87 297.39,223.07 298.38,223.43 C299.37,223.79 300.34,224.19 301.28,224.64 C302.22,225.09 303.16,225.55 304.03,226.14 C304.90,226.73 305.60,227.69 306.51,228.18 C307.42,228.67 308.49,228.94 309.5,229.06 C310.51,229.18 311.57,228.86 312.6,228.91 C313.63,228.96 314.67,229.31 315.7,229.37 C316.73,229.43 317.77,229.35 318.8,229.29 C319.83,229.23 320.87,229.02 321.9,229.01 C322.93,229.00 324.48,229.17 325,229.2"/><path d="M234.3,234.21 C233.67,234.27 231.78,234.34 230.54,234.55 C229.30,234.76 228.12,235.23 226.89,235.49 C225.66,235.75 224.41,235.60 223.16,236.12 C221.91,236.64 220.70,237.90 219.38,238.61 C218.06,239.33 216.50,240.03 215.23,240.41 C213.96,240.79 212.86,240.59 211.75,240.92 C210.64,241.25 209.69,242.06 208.56,242.4 C207.43,242.74 206.06,242.51 204.97,242.95 C203.88,243.39 202.94,244.39 201.99,245.06 C201.04,245.73 200.43,246.92 199.28,246.95 C198.13,246.98 196.17,245.14 195.07,245.26 C193.97,245.38 193.48,246.85 192.69,247.65 C191.90,248.45 191.18,249.32 190.35,250.07 C189.52,250.82 188.57,251.45 187.69,252.15 C186.81,252.85 185.90,253.47 185.08,254.28 C184.26,255.09 183.62,256.19 182.78,257.03 C181.94,257.87 180.88,258.50 180.02,259.32 C179.16,260.14 178.47,261.13 177.63,261.98 C176.79,262.83 175.44,264.00 175,264.4"/><path d="M227.29,245.88 C227.34,246.47 227.41,248.25 227.59,249.42 C227.77,250.58 228.06,251.77 228.37,252.87 C228.68,253.97 228.82,254.98 229.44,256.01 C230.06,257.03 231.11,258.10 232.07,259.02 C233.03,259.94 234.09,260.93 235.22,261.51 C236.35,262.09 237.66,262.07 238.83,262.5 C240.00,262.93 241.05,263.66 242.22,264.07 C243.39,264.48 244.70,264.53 245.87,264.94 C247.04,265.35 248.17,266.24 249.26,266.55 C250.35,266.86 251.39,266.59 252.42,266.78 C253.44,266.97 254.43,267.30 255.41,267.67 C256.39,268.04 257.29,268.67 258.29,268.99 C259.29,269.31 260.33,269.57 261.39,269.6 C262.45,269.63 263.56,269.10 264.63,269.18 C265.69,269.26 266.72,269.96 267.78,270.08 C268.84,270.20 269.94,269.87 271.01,269.88 C272.08,269.89 273.12,270.11 274.2,270.16 C275.28,270.21 276.45,269.93 277.47,270.18 C278.49,270.44 279.34,271.31 280.33,271.69 C281.32,272.07 282.39,272.22 283.43,272.47 C284.47,272.72 285.52,272.93 286.55,273.18 C287.58,273.44 288.58,273.67 289.6,274 C290.62,274.33 291.63,274.93 292.7,275.19 C293.77,275.45 294.95,275.27 296.01,275.57 C297.07,275.87 297.99,276.72 299.05,277.01 C300.11,277.30 301.36,277.11 302.38,277.29 C303.40,277.47 304.17,278.30 305.19,278.09 C306.21,277.88 307.54,276.86 308.48,276.02 C309.43,275.18 310.02,274.00 310.86,273.03 C311.70,272.05 312.47,270.78 313.52,270.17 C314.57,269.56 315.96,269.79 317.16,269.37 C318.36,268.95 319.40,267.64 320.71,267.65 C322.02,267.65 324.28,269.11 325,269.4"/><path d="M211.13,269.17 C211.80,269.27 213.81,269.60 215.17,269.77 C216.53,269.94 217.95,269.77 219.31,270.17 C220.67,270.57 221.99,271.48 223.31,272.18 C224.63,272.88 226.31,273.32 227.23,274.39 C228.15,275.45 228.22,277.24 228.85,278.57 C229.48,279.90 230.68,281.09 231.02,282.38 C231.36,283.67 231.06,285.00 230.91,286.3 C230.76,287.60 230.25,288.87 230.13,290.17 C230.01,291.47 230.19,293.45 230.2,294.1"/><path d="M194.08,170.02 C194.53,170.49 195.96,171.84 196.79,172.84 C197.62,173.84 198.30,175.17 199.08,176.02 C199.86,176.88 200.65,177.35 201.47,177.97 C202.29,178.59 203.14,179.15 203.98,179.74 C204.82,180.33 205.62,180.95 206.5,181.5 C207.38,182.05 208.45,183.19 209.28,183.06 C210.11,182.93 210.85,181.58 211.5,180.74 C212.15,179.90 212.85,179.13 213.19,178 C213.53,176.87 213.35,175.31 213.52,173.98 C213.69,172.65 214.09,170.66 214.2,170"/><path d="M303.41,170.16 C304.00,170.44 305.86,171.15 306.96,171.85 C308.06,172.55 308.97,173.62 310.03,174.34 C311.08,175.06 312.48,175.42 313.29,176.15 C314.10,176.88 314.42,177.83 314.9,178.71 C315.38,179.59 315.72,180.54 316.14,181.46 C316.56,182.38 316.76,183.38 317.42,184.26 C318.08,185.14 319.27,185.86 320.08,186.76 C320.89,187.66 321.44,188.79 322.26,189.68 C323.08,190.57 324.54,191.70 325,192.1"/><path d="M320.13,230.09 C320.80,229.81 322.83,228.99 324.17,228.38 C325.51,227.77 327.03,227.04 328.15,226.45 C329.27,225.85 329.95,225.34 330.87,224.81 C331.79,224.28 332.76,223.81 333.64,223.25 C334.52,222.69 335.07,221.87 336.16,221.42 C337.25,220.97 338.85,220.97 340.19,220.57 C341.53,220.17 343.10,218.86 344.23,219 C345.36,219.14 345.99,220.70 346.96,221.41 C347.93,222.12 349.04,222.44 350.06,223.24 C351.08,224.04 352.59,225.71 353.1,226.2"/><path d="M371.15,255.71 C371.65,255.56 373.14,255.12 374.13,254.8 C375.12,254.48 376.08,254.00 377.1,253.8 C378.12,253.60 379.10,253.89 380.28,253.61 C381.46,253.33 382.84,252.50 384.2,252.1 C385.56,251.69 387.49,250.86 388.45,251.18 C389.41,251.50 389.34,253.21 389.99,254.05 C390.64,254.90 391.52,255.48 392.35,256.25 C393.18,257.02 394.05,257.92 394.97,258.67 C395.89,259.43 396.98,260.02 397.86,260.78 C398.74,261.53 399.20,262.88 400.27,263.2 C401.34,263.52 402.94,262.94 404.28,262.73 C405.62,262.52 406.95,262.03 408.3,261.92 C409.65,261.81 411.00,262.00 412.35,262.06 C413.70,262.12 415.01,262.85 416.37,262.27 C417.73,261.69 419.51,259.38 420.52,258.55 C421.52,257.72 422.09,257.51 422.4,257.3"/><path d="M444.47,216.44 C443.80,216.58 441.78,217.00 440.43,217.29 C439.08,217.58 437.58,217.56 436.38,218.18 C435.18,218.80 434.20,220.01 433.21,221.01 C432.21,222.01 431.00,222.99 430.41,224.2 C429.82,225.41 430.03,226.96 429.66,228.26 C429.29,229.56 428.88,230.80 428.19,231.99 C427.50,233.18 426.54,234.36 425.55,235.4 C424.56,236.44 423.13,237.09 422.24,238.22 C421.35,239.35 420.81,240.87 420.23,242.21 C419.65,243.55 419.03,244.90 418.78,246.25 C418.53,247.60 418.64,248.98 418.74,250.32 C418.84,251.66 419.29,253.64 419.4,254.3"/><path d="M424.54,170.02 C424.38,170.68 423.80,172.60 423.57,173.96 C423.34,175.32 422.81,176.98 423.15,178.2 C423.49,179.42 424.74,180.31 425.61,181.29 C426.49,182.27 428.38,183.35 428.4,184.1 C428.42,184.85 426.66,185.28 425.74,185.78 C424.82,186.28 423.77,186.63 422.87,187.12 C421.97,187.61 421.31,188.33 420.32,188.7 C419.33,189.07 418.06,189.04 416.95,189.35 C415.84,189.66 414.80,190.28 413.69,190.57 C412.58,190.86 410.87,191.01 410.3,191.1"/><path d="M320.07,268.28 C320.50,268.58 321.75,269.56 322.66,270.08 C323.57,270.60 324.61,270.87 325.55,271.38 C326.49,271.89 327.48,272.48 328.28,273.14 C329.08,273.80 329.75,274.53 330.34,275.36 C330.92,276.19 331.12,277.38 331.79,278.13 C332.46,278.88 333.59,279.19 334.37,279.88 C335.15,280.57 336.01,281.32 336.46,282.25 C336.91,283.18 336.67,284.46 337.07,285.44 C337.47,286.42 338.37,287.19 338.88,288.13 C339.39,289.07 339.75,290.06 340.12,291.06 C340.49,292.06 340.94,293.59 341.1,294.1"/><path d="M544.44,208.16 C544.62,207.65 545.12,206.10 545.55,205.1 C545.97,204.10 546.63,203.21 546.99,202.18 C547.35,201.16 547.29,199.94 547.7,198.95 C548.11,197.96 548.64,197.18 549.43,196.23 C550.22,195.28 551.47,194.31 552.46,193.26 C553.45,192.21 554.20,190.25 555.36,189.93 C556.52,189.61 558.09,190.78 559.41,191.31 C560.73,191.84 562.65,192.80 563.3,193.1"/><path d="M595.39,169.97 C595.17,170.63 594.47,172.63 594.1,173.91 C593.73,175.19 593.72,176.71 593.16,177.65 C592.60,178.59 591.50,178.86 590.75,179.56 C590.00,180.26 589.41,181.20 588.63,181.87 C587.85,182.54 586.98,183.03 586.07,183.56 C585.17,184.09 584.01,183.87 583.2,185.02 C582.39,186.17 580.86,189.28 581.23,190.45 C581.60,191.62 584.07,191.43 585.43,192.04 C586.79,192.65 588.80,193.22 589.37,194.09 C589.94,194.96 589.16,196.25 588.82,197.24 C588.48,198.23 588.12,199.11 587.33,200.03 C586.54,200.95 585.09,201.77 584.08,202.78 C583.08,203.79 581.81,205.02 581.3,206.08 C580.79,207.15 581.17,208.15 581.02,209.17 C580.87,210.19 580.08,211.40 580.4,212.2 C580.72,213.00 582.18,213.28 582.96,213.94 C583.74,214.60 584.38,215.43 585.08,216.19 C585.78,216.95 586.23,217.79 587.16,218.49 C588.09,219.19 589.60,219.62 590.64,220.41 C591.68,221.19 592.94,222.73 593.4,223.2"/><path d="M611.24,170.04 C611.43,170.52 612.18,171.94 612.36,172.94 C612.54,173.94 612.14,175.03 612.31,176.03 C612.48,177.03 613.14,177.95 613.39,178.94 C613.64,179.93 613.82,180.92 613.82,181.98 C613.83,183.04 613.34,184.21 613.42,185.3 C613.50,186.39 614.17,187.44 614.3,188.53 C614.43,189.62 614.19,190.74 614.22,191.83 C614.25,192.93 614.45,194.56 614.5,195.1"/><path d="M625.94,169.96 C625.92,170.64 625.66,172.73 625.81,174.04 C625.96,175.34 626.27,176.72 626.84,177.79 C627.41,178.86 628.41,179.58 629.2,180.47 C629.99,181.36 630.84,182.20 631.57,183.14 C632.30,184.08 633.26,185.61 633.6,186.1"/><path d="M563.01,230.05 C562.89,230.56 562.78,232.19 562.32,233.08 C561.86,233.98 560.75,234.54 560.27,235.42 C559.79,236.30 559.81,237.32 559.46,238.35 C559.12,239.38 558.56,240.50 558.2,241.6 C557.84,242.70 557.60,243.84 557.28,244.96 C556.96,246.08 556.46,247.74 556.3,248.3"/><path d="M573.26,234.11 C572.91,234.67 571.80,236.30 571.17,237.45 C570.53,238.60 570.12,239.87 569.45,241 C568.78,242.13 567.73,243.22 567.13,244.22 C566.53,245.22 566.23,246.02 565.88,246.97 C565.53,247.92 565.43,248.98 565.02,249.9 C564.61,250.82 563.88,251.59 563.43,252.49 C562.98,253.39 562.49,254.83 562.3,255.3"/><path d="M511.01,293.98 C511.43,293.68 512.65,292.73 513.52,292.16 C514.38,291.59 515.38,291.17 516.2,290.54 C517.02,289.91 517.66,289.07 518.43,288.37 C519.19,287.67 519.97,286.98 520.79,286.35 C521.61,285.72 522.47,285.30 523.33,284.61 C524.19,283.92 525.01,282.88 525.97,282.21 C526.93,281.54 528.07,281.18 529.09,280.61 C530.11,280.04 531.04,279.33 532.07,278.78 C533.10,278.22 534.23,277.84 535.25,277.28 C536.27,276.72 537.71,275.71 538.2,275.4"/><path d="M537.44,290.86 C537.91,290.46 539.28,289.23 540.26,288.47 C541.24,287.72 542.21,286.68 543.3,286.33 C544.39,285.98 545.60,286.36 546.8,286.36 C548.00,286.37 549.69,285.72 550.47,286.36 C551.25,287.00 551.21,288.91 551.51,290.2 C551.81,291.49 552.17,293.45 552.3,294.1"/><path d="M594.54,167 C595.04,166.93 596.55,166.72 597.56,166.59 C598.57,166.46 599.57,166.38 600.58,166.23 C601.59,166.08 602.56,165.67 603.62,165.7 C604.68,165.73 605.83,166.22 606.94,166.42 C608.05,166.62 609.74,166.82 610.3,166.9"/><path d="M597.83,168.17 C597.65,168.78 597.08,170.62 596.78,171.86 C596.48,173.10 596.57,174.53 596.03,175.63 C595.49,176.72 594.35,177.47 593.53,178.43 C592.71,179.39 591.73,180.45 591.14,181.36 C590.55,182.27 590.19,183.48 590,183.9"/><path d="M108.26,334.58 C108.83,334.57 110.55,334.47 111.67,334.55 C112.80,334.63 113.90,335.01 115.01,335.06 C116.12,335.11 117.19,334.94 118.31,334.82 C119.43,334.70 120.59,334.54 121.72,334.35 C122.85,334.16 123.98,333.95 125.08,333.67 C126.18,333.39 126.94,333.24 128.33,332.67 C129.72,332.10 131.96,330.63 133.4,330.25 C134.84,329.87 135.76,330.33 136.95,330.37 C138.14,330.41 139.43,330.69 140.56,330.49 C141.69,330.29 142.65,329.42 143.76,329.18 C144.87,328.94 146.08,329.22 147.2,329.03 C148.32,328.84 149.39,328.30 150.49,328.06 C151.59,327.82 152.69,327.62 153.81,327.61 C154.93,327.60 156.11,328.02 157.21,327.98 C158.31,327.94 159.21,327.24 160.44,327.35 C161.67,327.46 163.19,328.24 164.57,328.66 C165.95,329.08 167.46,329.36 168.7,329.85 C169.94,330.34 170.86,331.28 171.98,331.61 C173.10,331.94 174.08,332.05 175.42,331.81 C176.76,331.57 179.24,330.47 180,330.2"/><path d="M140.51,331.56 C141.20,331.72 143.32,332.00 144.63,332.49 C145.94,332.98 147.06,333.82 148.35,334.49 C149.64,335.16 150.98,335.81 152.35,336.5 C153.72,337.19 155.20,338.42 156.56,338.64 C157.92,338.86 159.16,338.10 160.51,337.81 C161.86,337.52 163.52,336.81 164.67,336.92 C165.82,337.03 166.53,337.93 167.43,338.49 C168.33,339.05 169.19,339.62 170.04,340.3 C170.89,340.98 171.47,342.04 172.51,342.54 C173.55,343.05 175.01,343.05 176.26,343.33 C177.51,343.61 179.38,344.06 180,344.2"/><path d="M229.93,284.86 C229.67,285.42 228.90,287.12 228.35,288.24 C227.80,289.36 227.18,290.44 226.63,291.55 C226.08,292.66 225.57,293.89 225.03,294.9 C224.49,295.91 223.93,296.69 223.38,297.59 C222.83,298.49 222.24,299.36 221.73,300.28 C221.22,301.20 220.91,302.25 220.33,303.13 C219.75,304.01 218.87,304.70 218.27,305.57 C217.67,306.44 217.23,307.41 216.72,308.33 C216.21,309.25 215.61,310.14 215.21,311.1 C214.81,312.06 214.74,313.14 214.32,314.07 C213.90,315.00 213.08,315.76 212.67,316.7 C212.26,317.64 212.27,318.76 211.86,319.7 C211.45,320.64 210.71,321.44 210.19,322.33 C209.67,323.22 209.08,324.09 208.72,325.07 C208.36,326.05 208.38,327.18 208.04,328.18 C207.70,329.18 207.04,330.06 206.69,331.06 C206.34,332.06 206.18,333.12 205.95,334.15 C205.72,335.18 205.54,336.17 205.32,337.24 C205.10,338.31 204.90,339.47 204.63,340.57 C204.36,341.67 203.98,342.73 203.7,343.85 C203.42,344.97 202.80,346.15 202.97,347.27 C203.14,348.39 204.17,349.47 204.73,350.59 C205.29,351.71 205.77,352.86 206.34,353.98 C206.91,355.10 207.58,356.16 208.13,357.29 C208.68,358.43 209.13,359.62 209.63,360.79 C210.12,361.96 210.85,363.72 211.1,364.3"/><path d="M232.38,301.19 C232.05,301.65 230.92,303.00 230.41,303.96 C229.90,304.92 229.13,306.01 229.34,306.96 C229.55,307.91 230.84,308.79 231.64,309.66 C232.44,310.53 233.29,311.34 234.12,312.18 C234.95,313.02 235.77,313.86 236.62,314.68 C237.47,315.50 238.48,316.11 239.2,317.1 C239.92,318.09 240.23,319.54 240.95,320.64 C241.67,321.74 242.85,322.58 243.53,323.67 C244.21,324.76 244.81,326.04 245.05,327.18 C245.29,328.32 245.07,329.42 244.96,330.53 C244.85,331.64 244.46,332.72 244.37,333.84 C244.28,334.96 244.52,336.16 244.43,337.23 C244.34,338.31 244.16,339.30 243.86,340.29 C243.56,341.28 242.92,342.17 242.61,343.16 C242.31,344.15 242.31,345.19 242.03,346.21 C241.75,347.23 240.87,348.28 240.91,349.27 C240.95,350.26 241.95,351.16 242.28,352.15 C242.61,353.14 242.75,354.18 242.89,355.22 C243.02,356.26 242.84,357.39 243.09,358.39 C243.34,359.39 243.88,360.35 244.41,361.23 C244.94,362.11 245.70,362.81 246.27,363.65 C246.84,364.49 247.35,365.38 247.85,366.27 C248.35,367.16 248.65,368.22 249.26,369.01 C249.87,369.80 250.69,370.25 251.52,370.98 C252.36,371.71 253.32,372.62 254.27,373.37 C255.22,374.12 256.25,374.75 257.23,375.45 C258.21,376.15 259.16,376.92 260.16,377.59 C261.16,378.26 262.25,378.90 263.24,379.48 C264.23,380.06 265.19,380.48 266.07,381.09 C266.95,381.70 267.75,382.43 268.55,383.15 C269.35,383.87 270.02,384.70 270.89,385.39 C271.76,386.08 273.19,386.44 273.79,387.27 C274.39,388.10 274.17,389.37 274.47,390.38 C274.78,391.39 275.31,392.32 275.62,393.33 C275.93,394.34 275.96,395.46 276.31,396.43 C276.66,397.40 277.22,398.17 277.74,399.17 C278.26,400.17 278.85,401.36 279.46,402.41 C280.07,403.47 281.08,404.99 281.4,405.5"/><path d="M246.4,288.01 C246.26,288.50 245.72,289.96 245.58,290.96 C245.44,291.96 245.56,293.00 245.58,293.99 C245.60,294.98 245.55,295.87 245.68,296.92 C245.81,297.97 246.17,299.16 246.37,300.29 C246.57,301.42 246.67,302.59 246.86,303.69 C247.05,304.79 247.11,305.94 247.53,306.91 C247.95,307.88 248.76,308.68 249.39,309.53 C250.02,310.38 250.42,311.57 251.29,312.02 C252.16,312.47 253.50,312.32 254.58,312.25 C255.67,312.18 256.72,311.71 257.8,311.57 C258.88,311.43 259.97,311.47 261.05,311.39 C262.13,311.31 263.76,311.15 264.3,311.1"/><path d="M174.96,332.16 L179,328.2"/><path d="M176.86,343.41 C177.42,343.65 179.20,344.19 180.24,344.84 C181.28,345.49 182.19,347.27 183.1,347.34 C184.01,347.40 184.81,345.88 185.72,345.23 C186.63,344.58 187.70,344.10 188.57,343.42 C189.44,342.74 190.30,342.19 190.96,341.15 C191.62,340.11 192.04,338.51 192.56,337.19 C193.08,335.87 193.84,333.87 194.1,333.2"/><path d="M250,312.43 C250.50,312.36 251.99,312.07 252.99,312.03 C254.00,311.99 255.02,312.24 256.03,312.19 C257.03,312.14 258.01,311.85 259.02,311.74 C260.03,311.63 261.10,311.76 262.1,311.53 C263.10,311.30 264.04,310.55 265.03,310.36 C266.02,310.18 266.92,310.40 268.03,310.42 C269.14,310.44 270.50,310.31 271.68,310.48 C272.87,310.65 274.00,311.14 275.14,311.44 C276.28,311.74 277.43,312.48 278.51,312.27 C279.59,312.06 280.64,310.98 281.63,310.18 C282.62,309.38 283.46,308.10 284.45,307.49 C285.44,306.88 286.51,306.90 287.56,306.52 C288.61,306.14 289.71,305.32 290.73,305.19 C291.75,305.06 292.71,305.63 293.71,305.76 C294.71,305.89 295.71,305.89 296.71,305.98 C297.71,306.07 298.56,306.17 299.7,306.29 C300.84,306.42 302.27,306.44 303.53,306.73 C304.79,307.02 306.12,307.93 307.24,308.03 C308.36,308.12 309.28,307.55 310.25,307.3 C311.22,307.05 312.10,306.32 313.06,306.53 C314.02,306.74 314.98,307.97 316.02,308.56 C317.06,309.15 318.31,309.35 319.32,310.08 C320.33,310.81 321.13,312.04 322.11,312.96 C323.09,313.88 324.10,314.98 325.22,315.59 C326.34,316.20 327.68,316.15 328.82,316.62 C329.96,317.09 331.14,317.76 332.08,318.42 C333.01,319.08 333.67,319.87 334.43,320.57 C335.19,321.27 335.71,322.19 336.62,322.61 C337.53,323.03 338.80,322.87 339.88,323.06 C340.96,323.25 342.01,323.63 343.11,323.76 C344.21,323.88 345.40,324.06 346.46,323.81 C347.51,323.56 348.42,322.73 349.44,322.25 C350.46,321.77 351.55,321.40 352.56,320.94 C353.57,320.48 354.49,319.98 355.52,319.47 C356.55,318.96 357.62,318.27 358.76,317.89 C359.90,317.50 361.15,317.76 362.36,317.16 C363.57,316.56 364.73,314.49 366,314.31 C367.27,314.13 369.33,315.80 370,316.1"/><path d="M261.31,321.29 C261.86,321.31 263.50,321.31 264.58,321.44 C265.66,321.57 266.75,321.99 267.82,322.08 C268.89,322.17 269.82,322.17 271,321.96 C272.18,321.75 273.68,321.28 274.92,320.83 C276.17,320.38 277.34,319.03 278.47,319.23 C279.60,319.43 280.69,321.05 281.71,322.04 C282.73,323.03 283.50,324.40 284.61,325.19 C285.72,325.98 287.11,326.32 288.37,326.77 C289.63,327.22 291.02,327.74 292.2,327.91 C293.38,328.08 294.35,327.79 295.43,327.77 C296.51,327.75 297.59,327.74 298.67,327.81 C299.75,327.88 301.36,328.13 301.9,328.2"/><path d="M256.89,324.01 C257.41,324.22 258.98,324.93 260.04,325.29 C261.10,325.65 262.15,326.02 263.27,326.19 C264.39,326.36 265.65,325.92 266.76,326.32 C267.87,326.72 268.80,328.03 269.93,328.61 C271.06,329.19 272.32,329.40 273.56,329.79 C274.80,330.18 276.27,330.20 277.34,330.96 C278.41,331.71 279.03,333.27 279.98,334.32 C280.93,335.37 282.26,336.26 283.05,337.23 C283.84,338.20 284.15,339.17 284.69,340.15 C285.23,341.13 285.78,342.12 286.27,343.12 C286.76,344.12 286.88,345.37 287.63,346.16 C288.38,346.95 289.78,347.21 290.8,347.86 C291.82,348.51 292.64,350.07 293.74,350.09 C294.84,350.10 296.11,348.55 297.37,347.95 C298.63,347.35 300.17,346.97 301.31,346.5 C302.45,346.03 303.22,345.57 304.21,345.13 C305.20,344.69 306.27,343.84 307.25,343.88 C308.23,343.92 309.14,344.97 310.09,345.39 C311.04,345.81 312.00,345.78 312.94,346.4 C313.88,347.02 314.90,348.10 315.71,349.09 C316.52,350.08 316.80,351.43 317.79,352.32 C318.78,353.21 320.40,353.65 321.63,354.42 C322.86,355.19 324.16,356.14 325.15,356.92 C326.14,357.70 326.82,358.31 327.55,359.1 C328.28,359.89 328.89,360.77 329.5,361.64 C330.11,362.51 330.62,363.42 331.23,364.34 C331.84,365.26 332.53,366.20 333.17,367.14 C333.81,368.08 334.48,368.99 335.05,369.97 C335.62,370.95 336.34,372.50 336.6,373"/><path d="M255,375.79 C255.63,375.91 257.50,376.25 258.76,376.49 C260.02,376.73 261.15,376.49 262.57,377.21 C263.99,377.93 266.07,379.62 267.29,380.8 C268.51,381.98 268.88,383.24 269.88,384.27 C270.88,385.30 272.51,386.07 273.3,386.99 C274.09,387.91 274.09,388.86 274.59,389.76 C275.09,390.66 275.95,391.38 276.29,392.38 C276.63,393.38 276.50,394.62 276.61,395.73 C276.72,396.84 276.52,397.70 276.94,399.03 C277.36,400.36 278.74,402.92 279.1,403.7"/><path d="M327.42,359.88 C327.94,360.36 329.58,361.73 330.55,362.75 C331.52,363.77 332.56,364.96 333.27,366.01 C333.97,367.06 334.21,368.06 334.78,369.03 C335.35,370.00 336.23,370.82 336.69,371.85 C337.15,372.88 337.14,374.14 337.53,375.21 C337.92,376.28 338.49,377.33 339.04,378.25 C339.59,379.17 340.30,379.85 340.83,380.71 C341.36,381.57 341.76,382.50 342.21,383.4 C342.66,384.30 342.97,385.29 343.52,386.14 C344.07,386.99 344.89,387.54 345.5,388.47 C346.11,389.40 346.52,390.69 347.17,391.71 C347.82,392.73 348.73,393.60 349.38,394.59 C350.03,395.58 350.68,396.52 351.1,397.66 C351.52,398.80 351.63,400.15 351.9,401.45 C352.17,402.75 352.02,404.49 352.73,405.43 C353.44,406.37 355.20,406.39 356.16,407.11 C357.12,407.83 357.91,408.69 358.47,409.74 C359.04,410.79 359.38,412.13 359.55,413.42 C359.72,414.71 358.94,416.62 359.46,417.5 C359.98,418.38 362.16,418.50 362.7,418.7"/><path d="M339.87,291.05 C340.20,291.69 341.37,293.53 341.86,294.92 C342.35,296.31 342.09,298.40 342.79,299.42 C343.49,300.44 345.00,300.48 346.07,301.05 C347.14,301.62 348.21,302.19 349.24,302.83 C350.27,303.47 351.21,304.17 352.23,304.89 C353.25,305.61 354.29,306.48 355.39,307.17 C356.49,307.86 357.68,308.39 358.82,309.01 C359.96,309.63 361.24,310.23 362.25,310.89 C363.26,311.55 364.01,312.28 364.91,312.95 C365.81,313.62 366.76,314.12 367.66,314.88 C368.56,315.64 369.20,317.25 370.31,317.52 C371.42,317.79 373.00,316.84 374.3,316.51 C375.60,316.18 376.91,315.63 378.11,315.54 C379.31,315.45 380.35,315.87 381.49,315.96 C382.63,316.05 383.83,315.88 384.93,316.1 C386.03,316.33 386.98,316.91 388.1,317.31 C389.23,317.71 390.56,317.96 391.68,318.53 C392.80,319.09 393.75,320.06 394.8,320.7 C395.85,321.34 397.07,321.76 397.98,322.38 C398.89,323.00 399.59,323.65 400.27,324.4 C400.95,325.15 401.38,326.12 402.04,326.88 C402.70,327.64 403.54,328.23 404.22,328.99 C404.90,329.75 405.38,330.76 406.14,331.46 C406.90,332.16 407.89,332.62 408.78,333.17 C409.67,333.72 410.54,334.30 411.48,334.78 C412.42,335.26 413.28,335.30 414.42,336.04 C415.56,336.78 417.65,338.67 418.3,339.2"/><path d="M380.57,345.01 C380.75,345.55 381.21,347.19 381.66,348.22 C382.11,349.25 383.12,350.16 383.26,351.21 C383.40,352.26 382.63,353.41 382.49,354.53 C382.35,355.65 382.41,356.81 382.39,357.92 C382.37,359.03 382.04,360.19 382.39,361.16 C382.74,362.13 383.90,362.80 384.5,363.74 C385.10,364.68 385.38,365.85 386,366.78 C386.62,367.71 387.43,368.52 388.19,369.31 C388.95,370.10 389.76,370.78 390.57,371.49 C391.38,372.20 392.17,372.94 393.03,373.58 C393.89,374.22 394.88,374.69 395.74,375.35 C396.60,376.01 397.26,376.96 398.16,377.52 C399.06,378.08 400.19,378.24 401.14,378.72 C402.08,379.20 402.98,379.71 403.83,380.39 C404.68,381.06 405.26,382.33 406.25,382.77 C407.24,383.21 408.60,382.91 409.78,383.02 C410.95,383.12 412.71,383.34 413.3,383.4"/><path d="M413.51,384.25 C413.84,384.90 414.69,386.93 415.48,388.13 C416.27,389.33 417.28,390.40 418.26,391.44 C419.24,392.48 420.35,393.37 421.36,394.39 C422.38,395.41 423.29,396.89 424.35,397.57 C425.41,398.25 426.58,398.22 427.71,398.49 C428.84,398.76 430.00,398.90 431.12,399.21 C432.24,399.52 433.03,399.96 434.41,400.33 C435.79,400.69 438.57,401.22 439.4,401.4"/><path d="M450.55,284.97 C450.81,285.68 451.39,287.87 452.1,289.2 C452.81,290.53 454.28,291.85 454.79,292.98 C455.30,294.11 455.17,294.98 455.16,295.99 C455.15,297.00 454.71,298.06 454.71,299.07 C454.71,300.08 455.08,301.08 455.17,302.08 C455.26,303.07 455.39,303.88 455.24,305.04 C455.09,306.20 454.53,307.71 454.27,309.04 C454.01,310.37 453.56,311.82 453.69,313 C453.82,314.18 454.55,315.11 455.03,316.09 C455.51,317.07 455.77,318.20 456.59,318.88 C457.41,319.56 458.83,319.72 459.94,320.17 C461.05,320.62 462.16,321.14 463.25,321.57 C464.34,322.00 465.43,322.61 466.47,322.76 C467.51,322.91 468.48,322.54 469.49,322.47 C470.50,322.40 471.51,322.35 472.53,322.36 C473.55,322.37 474.58,322.57 475.59,322.52 C476.60,322.47 477.58,322.34 478.57,322.05 C479.56,321.76 480.59,321.32 481.5,320.8 C482.41,320.28 483.18,319.55 484.03,318.93 C484.88,318.31 486.17,317.41 486.6,317.1"/><path d="M490.06,331.36 C489.14,331.67 485.81,332.22 484.57,333.19 C483.33,334.16 483.27,335.87 482.63,337.21 C481.99,338.55 481.12,339.88 480.72,341.22 C480.32,342.56 480.40,343.92 480.25,345.22 C480.10,346.52 479.43,347.92 479.79,349.04 C480.16,350.17 481.64,350.94 482.44,351.97 C483.24,353.00 484.74,354.42 484.56,355.25 C484.38,356.08 482.39,356.34 481.38,356.97 C480.37,357.60 479.63,358.37 478.51,359.05 C477.39,359.74 475.96,360.53 474.65,361.08 C473.34,361.63 471.60,361.59 470.65,362.37 C469.70,363.15 469.44,364.61 468.96,365.78 C468.48,366.95 468.24,368.25 467.76,369.38 C467.28,370.51 466.53,371.45 466.11,372.55 C465.69,373.65 465.53,374.82 465.26,375.96 C464.99,377.10 464.82,378.17 464.49,379.4 C464.16,380.63 463.63,382.02 463.3,383.35 C462.97,384.68 462.63,386.72 462.5,387.4"/><path d="M329.82,364.42 C330.14,364.93 331.11,366.44 331.75,367.46 C332.39,368.48 332.99,369.52 333.65,370.53 C334.31,371.54 334.96,372.54 335.7,373.5 C336.44,374.46 337.37,375.31 338.08,376.29 C338.79,377.27 339.34,378.36 339.97,379.4 C340.60,380.44 341.21,381.49 341.87,382.51 C342.53,383.53 343.22,384.55 343.93,385.5 C344.64,386.45 345.51,387.25 346.13,388.23 C346.75,389.21 347.13,390.32 347.64,391.37 C348.14,392.42 348.51,393.53 349.16,394.51 C349.81,395.49 350.98,396.19 351.52,397.23 C352.06,398.27 352.00,399.63 352.41,400.77 C352.82,401.91 353.53,402.93 353.98,404.05 C354.43,405.17 354.91,406.93 355.1,407.5"/><path d="M337.9,285.04 C338.14,285.63 338.84,287.40 339.36,288.56 C339.88,289.72 340.73,291.43 341,292"/><path d="M554.07,297.16 C554.40,297.55 555.43,298.71 556.07,299.51 C556.72,300.31 557.36,301.10 557.94,301.95 C558.52,302.80 558.95,303.75 559.53,304.59 C560.11,305.43 560.84,306.02 561.44,307.01 C562.04,308.00 562.56,309.36 563.14,310.53 C563.72,311.69 564.20,312.93 564.92,314 C565.64,315.07 566.75,316.00 567.46,316.98 C568.17,317.96 568.57,318.95 569.18,319.89 C569.79,320.83 570.41,321.75 571.1,322.64 C571.79,323.52 572.93,324.77 573.3,325.2"/><path d="M510.69,317 C510.58,317.69 510.35,319.79 510.06,321.14 C509.77,322.49 509.45,323.88 508.96,325.12 C508.47,326.36 507.74,327.41 507.14,328.56 C506.54,329.71 506.00,330.89 505.34,332.01 C504.68,333.12 503.91,334.06 503.19,335.25 C502.47,336.44 501.71,337.84 501.03,339.16 C500.35,340.49 499.42,342.53 499.1,343.2"/><path d="M484.85,326.98 C485.37,326.67 486.95,325.78 487.97,325.11 C488.99,324.44 489.79,323.61 490.95,322.97 C492.11,322.33 493.57,321.73 494.93,321.26 C496.29,320.79 497.76,320.58 499.11,320.15 C500.46,319.72 501.68,319.03 503,318.7 C504.32,318.37 505.69,317.80 507.03,318.19 C508.36,318.58 510.49,320.09 511.01,321.06 C511.53,322.03 510.61,323.10 510.17,324 C509.73,324.90 508.89,325.61 508.38,326.47 C507.87,327.34 507.75,328.44 507.09,329.19 C506.43,329.94 505.26,330.31 504.43,330.98 C503.60,331.65 502.49,332.83 502.1,333.2"/><path d="M554.15,401.58 C554.59,401.89 555.90,402.84 556.78,403.47 C557.66,404.10 558.32,404.44 559.41,405.38 C560.50,406.32 562.65,408.48 563.3,409.1"/><path d="M504.51,382.46 C504.30,383.02 503.53,384.68 503.26,385.85 C502.99,387.02 502.76,388.28 502.88,389.46 C503.00,390.64 503.63,391.77 504,392.93 C504.37,394.09 504.92,395.82 505.1,396.4"/><path d="M491.27,311.26 C491.54,310.67 492.32,308.87 492.89,307.7 C493.46,306.53 493.99,305.33 494.68,304.24 C495.37,303.15 496.18,302.06 497.05,301.17 C497.92,300.28 498.91,299.60 499.92,298.92 C500.93,298.24 502.05,297.74 503.09,297.11 C504.13,296.48 505.17,295.86 506.15,295.13 C507.13,294.40 507.94,293.27 508.96,292.71 C509.97,292.15 511.22,292.23 512.24,291.78 C513.26,291.33 514.13,290.56 515.09,289.99 C516.05,289.42 517.02,288.83 518.02,288.33 C519.02,287.83 520.59,287.22 521.1,287"/><path d="M522.11,291.01 C521.62,291.36 520.19,292.47 519.17,293.11 C518.15,293.75 517.01,294.20 516.01,294.87 C515.00,295.54 514.16,296.56 513.14,297.11 C512.12,297.66 510.95,297.81 509.86,298.18 C508.77,298.55 507.70,298.93 506.61,299.3 C505.52,299.67 504.37,299.89 503.33,300.38 C502.29,300.87 501.41,301.79 500.35,302.24 C499.30,302.69 497.56,302.96 497,303.1"/><path d="M553.96,399.27 C554.37,399.64 555.69,400.65 556.4,401.47 C557.11,402.30 557.06,403.28 558.23,404.22 C559.40,405.16 562.02,405.96 563.4,407.1 C564.78,408.24 565.85,409.76 566.52,411.07 C567.19,412.38 567.92,414.26 567.4,414.93 C566.88,415.60 564.07,415.07 563.4,415.1"/><path d="M606.77,132.24 C606.82,132.75 606.85,134.33 607.08,135.33 C607.31,136.33 607.89,137.23 608.13,138.24 C608.37,139.25 608.27,140.37 608.5,141.4 C608.73,142.43 609.33,143.90 609.5,144.4"/><path d="M290.7,97.29 C290.92,97.95 291.51,99.99 292.01,101.26 C292.51,102.53 292.92,103.78 293.69,104.91 C294.46,106.03 295.66,106.94 296.63,108.01 C297.60,109.08 298.25,111.00 299.53,111.34 C300.81,111.68 303.10,110.78 304.29,110.06 C305.48,109.34 306.77,108.03 306.67,107.03 C306.57,106.03 304.60,105.06 303.68,104.09 C302.76,103.12 301.83,102.28 301.13,101.23 C300.43,100.18 299.77,98.37 299.5,97.8"/></g>
<g fill="none" stroke="#3b62e6" stroke-width="1.7" stroke-linejoin="round" stroke-linecap="round"><path d="M222.25,114.68 L223.61,113.47 L225.25,112.1 L227.22,112.65 L229.28,113.31 L230.68,112.53 L232.22,112.28 L233.61,111.47 L235.21,111.33 L237.21,111.47 L239,111.5 L240.61,110.59 L242.3,109.8"/><path d="M242.4,110.19 L242.2,111.9 L242.71,113.53 L242.9,115.2"/><path d="M223.75,113.67 L223.66,115.54 L223.2,117.3"/><path d="M299.92,130.09 L300.08,132.51 L301.8,134.23 L301.52,136.42 L302.06,138.37 L302.99,139.79 L302.98,141.35 L303.35,142.86 L303.59,144.4 L303.21,145.9 L303.17,147.4 L303.74,148.9 L303.46,150.39 L303,151.96 L302.77,153.58 L302.91,155.27 L302.33,156.82 L301.91,158.4 L301.63,159.94 L301.88,161.43 L302.18,162.92 L302.63,164.58 L300.76,165.67 L302.51,166.73 L303.5,168.4"/><path d="M271.33,109.84 L273.39,109.73 L275.36,109.75 L277.4,109.55 L279.55,109.58 L280.64,110.87 L282.18,111.51 L283.33,112.64 L284.4,114.2"/><path d="M164.81,273.15 L166.37,272.45 L167.75,271.5 L168.81,270.3 L169.71,268.25 L171.2,266.6 L173,264.4"/><path d="M115.42,281.33 L117.39,281.92 L119.14,282.23 L120.62,281.05 L121.61,279.19 L122.74,281.06 L124.4,282.4"/><path d="M340.39,339.9 L342.2,337.93 L343.82,339.15 L345.2,337.8"/><path d="M361.51,273.94 L361.07,275.89 L362.01,277.57 L361.9,279.46 L362.76,281.02 L362.93,282.72 L363.2,284.4"/></g>
<g fill="none" stroke="#0c0c0c" stroke-width="1.15" stroke-linejoin="round">
<path d="M73.8,59.6 L100.3,66.1 L129.4,73.7 L141.5,76.7 L160.5,81.1 L180,85.1 L215.2,89.7 L267.3,95.8 L295.5,97.4 L335,98.2 L360.1,98.6"/>
<path d="M360.1,98.6 L361.7,92.6 L367.1,86.1 L368.5,83.7 L370.2,89.1 L373.2,91.2 L374.2,96.6 L370.2,99.4 L365.1,101.2"/>
<path d="M365.15,101.07 L366.9,101.61 L368.46,102.65 L370.31,102.88 L372.19,103.89 L374.23,104.43 L376.14,104.85 L378.2,104.87 L380.14,104.17 L382.23,104.16 L383.89,104.91 L385.38,105.93 L386.73,107.15 L388.12,108.45 L390.3,108.58 L392.27,109.32 L394.18,110.3 L396.18,110.89 L398.26,110.93 L400.29,111.12 L402.36,111.24 L404.24,110.18 L406.23,110.48 L408.34,110.54 L410.37,110.92 L412.37,111.4 L414.3,112.05 L416.3,112.45 L418.3,111.94 L420.3,112.27 L422.3,112.2"/>
<path d="M422.3,112.2 L410.3,121.3 L403.3,127.3 L396.2,133.3"/>
<path d="M396.23,133.2 L399.24,134.1 L401.33,133.79 L403.23,132.85 L405.31,132.52 L407.36,131.85 L409,133.42 L410.3,135.3 L412.25,134.69 L414.29,134.59 L416.19,134.07 L417.81,133.28 L419.52,132.66 L421.25,132.08 L422.68,130.9 L424.33,130.15 L426.43,129.37 L428.52,128.54 L430.42,127.34 L432.37,126.24 L434.6,125.5 L435.87,123.44 L437.89,122.12 L439.38,120.17 L442.57,120.03 L441.25,121.84 L439.83,123.57 L438.23,125.22 L437.57,127.39 L436.39,129.35 L438.39,129.63 L440.41,129.72 L442.4,130.08 L444.5,130.06 L446.18,130.72 L447.83,131.47 L449.41,132.4 L451.15,132.93 L452.86,133.53 L454.52,134.35 L456.21,133.7 L457.89,133.04 L459.7,132.75 L461.39,132.13 L463.02,131.3 L464.8,130.91 L466.51,130.31 L468.58,129.76 L470.55,128.93 L472.46,127.93 L474.32,127.52 L476.17,128.37 L477.58,129.76 L478.98,131.17 L480.64,132.1 L482.48,132.69 L484.42,132.83 L486.22,133.6 L488.09,134.06 L490,134.3"/>
<path d="M579.4,149.4 L583.4,142.3 L589.4,136.3 L594.4,133.9 L607.5,130.9 L625.5,127.3 L628.5,122.3 L632.6,118.3 L633.6,112.2 L636.6,96.2 L639.6,83.1 L645,81.7"/>
<path d="M640.03,82.86 L642.56,83.28 L645.06,84.21 L646.84,82.76 L649.01,82.06 L651.04,80.9 L652.83,81.34 L654.4,82.34 L656.43,82.84 L657.15,85.03 L658.43,87.01 L658.91,88.76 L659.16,90.58 L659.35,92.42 L660.39,94.03 L660.81,96.05 L661,98.12 L661.25,100.19 L662.05,102.14 L663.5,103.72 L664.47,105.67 L666.27,106.78 L667.97,108.39 L670.18,109.02 L672.31,110.01 L673.8,111.66 L675.15,113.43 L676.31,115.04 L674.99,117.37 L673.05,119.15 L671.52,120.62 L670.16,122.28 L668.08,123.67 L666.26,125.51 L664.26,126.52 L662.3,127.33 L660.98,128.62 L660.13,130.25 L658.17,131.33 L656.05,132.15 L654.76,133.56 L653.48,134.98 L651.86,136.01 L649.9,137.62 L648.16,139.42 L646.45,141.26 L644.98,143.29 L643.73,145.17 L642.84,147.22 L642.15,149.38 L640.62,151.38 L641.8,153.74 L642.06,156.28 L642.81,158.88 L644.27,161.25 L644.51,163.85 L645.22,166.11 L646.92,168.01 L648.95,169.61 L650.99,169.96 L653,170.4"/>
<path d="M647.26,169.51 L648.82,170.43 L650.15,171.68 L651.7,172.34 L653.95,172.62 L656.13,172.56 L657.58,169.75 L656.2,167.3 L653.29,167.54 L656.24,168.79 L656.94,171.18 L656.43,172.51 L657.01,174.58 L657.55,176.67 L658.55,178.82 L656.63,179.16 L654.72,179.33 L652.53,178.4 L650.16,177.88 L649.51,179.77 L648.92,181.42 L646.99,179.92 L645.62,177.7 L643.85,178.77 L641.9,179.61 L641.34,179.58 L639.87,180.62 L638.28,181.52 L637.09,182.97 L634.88,183.86 L632.76,184.93 L630.74,186.16 L628.65,187.34 L626.77,188.86 L624.75,190.12 L623.2,191.05 L621.54,191.81 L620.12,192.94 L618.51,194 L616.78,194.85 L614.8,195.9"/>
<path d="M615.1,196.23 L614.6,198.09 L613.71,199.82 L613.44,201.76 L612.59,203.52 L614.25,204.64 L616.06,205.87 L616.06,208.07 L616.61,210.2 L616.64,212.4 L616.59,214.57 L616.31,216.7 L615.84,218.82 L614.82,220.9 L614.41,223.21 L613.55,225.37 L612.53,226.9 L611.56,228.45 L611.04,230.17 L609.7,228.59 L608.65,226.65 L606.36,225.93 L604.65,224.35 L602.81,222.99 L601.1,221.37 L600.63,218.99 L598,220.5"/>
<path d="M598.06,220.42 L600.68,222.3 L601.62,224.69 L603.1,226.74 L604.22,228.55 L605.63,230.12 L607.12,231.66 L608.15,233.8 L609.68,235.77 L609.84,239.11 L609.62,241.03 L609.17,242.89 L608.54,244.71 L607.78,246.82 L607.65,249.09 L607.06,251.24 L606.29,253.35 L605.57,255.47 L605.26,257.69 L604.56,260.12 L603.7,262.5"/>
<path d="M598,221.3 L592.4,226.9 L589.9,230.2 L591.6,235 L589.9,239.9 L592.4,244.7 L594.8,249.6 L596.4,256.1 L598.8,260.9 L601.3,264.1 L603.7,265.8 L606.1,270.6"/>
<path d="M603.7,262.5 L602.9,256.1 L601.3,249.6 L598.8,244.7 L597.2,239.9 L595.6,233.4 L594.8,228.5 L596.4,223.7 L598,221.3"/>
<path d="M606.19,270.55 L607.09,272.14 L607.62,273.91 L608.71,275.35 L609.58,277.01 L610.76,278.45 L611.6,280.17 L610.2,278.1 L612,279.5 L613.43,281.28 L614.82,283.22 L616.03,285.49 L615.04,287.42 L614.04,289.28 L613.18,291.18 L611.92,292.82 L610.1,294.25 L608.29,295.74 L607.26,297.47 L606.14,299.14 L603.73,301.32 L601.52,301.62 L599.28,300.92 L597.97,302.21 L596.52,303.28 L595.03,304.29 L593.5,305.16 L592.24,306.49 L591.56,308.21 L590.36,309.57 L589.33,311.05 L588.46,312.64 L587.38,314.08 L586.62,315.75 L585.45,317.36 L582.93,317.77 L580.31,318.04 L579.4,319.79 L578.43,321.49 L577.25,323.08 L576.33,325.15 L575.41,327.22 L574.14,329.12 L573.19,331.15 L572.44,333.27 L571.27,335.17 L569.79,336.69 L568.14,338.04 L566.7,339.6 L565.37,341.31 L563.64,341.96 L562.43,343.39 L560.83,344.24 L559.19,345.09 L557.78,347.01 L555.97,348.54 L554.57,350.27 L553.7,351.95 L553.15,353.71 L552.76,355.51 L552.08,357.24 L551.88,359.33 L551.14,361.27 L550.67,363.29 L550.15,365.3 L550.03,367.3 L549.6,369.28 L549.33,371.27 L549.42,373.3 L549.1,375.31 L549.66,377.29 L549.48,379.35 L549.71,381.37 L549.71,383.41 L550.02,385.47 L551.1,387.35 L551.81,389.38 L552.43,391.44 L553.53,393.23 L554.52,394.99 L555.86,396.48 L557.08,398.06 L558.31,399.64 L559.19,401.51 L560.96,402.77 L562.41,404.34 L563.85,405.93 L565.3,407.5"/>
<path d="M552.38,389.96 L553.46,391.92 L554.25,394.05 L555.95,395.35 L557.29,397.01 L558.85,398.45 L560.46,399.84 L561.82,401.53 L563.51,402.89 L564.9,404.55 L566.59,406 L567.58,408.01 L568.43,410.08 L569.25,412.17 L570.56,414 L571.52,415.52 L572.35,417.14 L573.21,418.72 L574.37,420.12 L575.45,422.08 L576.19,424.21 L577.6,426 L578.23,428.14 L579,430.1 L579.57,432.11 L580.09,434.13 L580.5,436.19 L580.49,438.22 L581.06,440.18 L581.11,442.21 L581.33,444.2 L581.46,446.2 L581.38,448.2 L581.62,450.2 L581.62,452.24 L581.21,454.26 L580.64,456.25 L580.43,458.32 L579.48,460.01 L578.36,461.61 L577.42,463.32 L576.14,464.7 L574.63,465.86 L573.36,467.21 L570.95,468.42 L568.39,469.26 L566.36,469.95 L564.27,470.46 L562.27,471.19 L560.32,471.87 L558.25,472 L556.3,472.7"/>
<path d="M578.45,459.39 L576.49,460.49 L574.42,461.21 L572.34,461.05 L570.42,460.29 L569.33,458.84 L568.21,457.49 L567.07,455.93 L565.53,454.76 L564.37,453.22 L562.65,451.36 L561.15,449.39 L559.61,447.9 L558.09,446.38 L556.14,445.36 L554.85,443.98 L553.69,442.48 L552.54,441.08 L551.34,439.18 L550.25,437.24 L549.03,435.03 L547.09,433.37 L546.14,431.37 L544.53,429.88 L543.12,428.21 L542.1,426.55 L541.2,424.83 L540.49,423.13 L540.44,420.74 L541.02,418.44 L541.38,416.08 L540.73,414.37 L540.33,412.59 L539.55,410.92 L539.1,409.27 L537.89,407.69 L536.83,405.98 L535.44,404.55 L534.13,403.09 L532.73,401.71 L531.18,400.52 L529.62,399.34 L528.31,397.86 L526.78,396.66 L525.1,395.62 L523.73,394.22 L522.2,392.99 L520.27,392.12 L518.24,391.54 L516.26,391.11 L514.07,391.74 L512.3,393.2 L510.23,394.04 L508.73,395.22 L507.61,396.82 L506.1,398.01 L503.55,397.77 L501.18,396.94 L499.98,395.16 L498.64,393.47 L497.53,391.62 L496.1,390"/>
<path d="M539.2,409.1 L537.2,405.5 L531.2,399.4 L525.2,393.4 L519.1,391.4 L511.1,394.4 L505.1,396.4 L499.1,394.4 L495,390.4 L485,387.4"/>
<path d="M490,387.4 L482.6,388.4 L474.5,389.4 L468.5,390.4 L467.5,381.4 L466.5,389.4 L462.5,387.4 L458.5,393.4 L452.5,393.4 L448.4,395.4 L444.4,397.4 L440.4,401.4 L442.4,405.5 L448.4,403.4 L451.5,406.5 L446.4,409.1"/>
<path d="M450.2,409.1 L447.7,411.6 L442.7,410.4 L437.6,407.9 L432.6,410.4 L427.6,412.9 L422.6,411.6 L417.6,409.1 L412.5,406.6 L407.5,404.1 L402.5,406.6 L400,405.9"/>
<path d="M410,406.1 L402.6,405.7 L390.5,405.1 L384.5,405.1 L378.5,406.1 L372.5,407.1 L370.5,410.1 L365.4,414.1 L360.4,418.1 L354.4,421.2 L348.4,424.2 L343.4,427.2 L338.3,432.2 L334.3,438.2 L332.3,446.2 L333.3,452.3 L335.3,460.3 L336.3,465.9"/>
<path d="M336.35,466.07 L333.15,467.01 L331.62,465.71 L329.61,465.38 L328.07,464.12 L326.27,463.43 L324.19,463.23 L322.3,462.29 L320.19,462.25 L318.27,461.36 L316.49,460.89 L314.88,460.07 L313.41,458.97 L311.96,457.81 L309.88,457.49 L308.96,455.78 L308.31,453.9 L307.6,452.1 L306.27,450.23 L305.11,448.28 L304.66,446.08 L303.26,444.31 L303.55,442.11 L302.5,440.25 L301.95,438.45 L300.26,436.8 L298.73,435 L297.47,433.03 L295.93,431.77 L295.27,429.96 L294.32,428.33 L293.09,426.87 L292.24,425.18 L290.99,423.78 L290.17,422.16 L289.48,420.47 L289.08,418.64 L288.04,417.14 L286.95,415.7 L286.17,414.05 L285.06,412.63 L283.94,411.23 L283,409.25 L281.59,407.64 L279.95,406.3 L278.14,404.54 L276.1,403.07 L274.15,402.48 L272.13,402.37 L270.07,402.56 L267.98,401.63 L266.17,402.97 L264.07,403.18 L261.96,403.35 L260.25,404.35 L258.51,405.61 L257.33,407.43 L255.38,408.48 L253.84,409.89 L251.96,411.54 L250.37,413.04 L249.47,411.13 L249.38,408.92 L247.31,408.11 L245.28,407.23 L243.21,406.44 L241.42,405.24 L239.99,403.89 L238.18,402.97 L236.81,401.55 L234.78,400.52 L234.89,398.59 L234.34,396.86 L234.17,395.01 L233.49,393.26 L232.17,391.83 L231.43,390.12 L230.85,388.32 L229.44,386.95 L229,385.08 L227.98,383.65 L226.55,382.47 L225.11,381.29 L224.18,379.54 L222.36,378.8 L221,377.45 L219.91,375.77 L219.1,373.88 L217.26,372.75 L216.36,370.93 L215.24,369.27 L214.13,367.39 L212.71,365.76 L211.1,364.3"/>
<path d="M211.1,364.3 L189.1,363.3 L188,368.9 L178,367.7"/>
<path d="M176.6,368.3 L148.5,363.7 L103.3,336.2 L103.3,333.8 L73.2,330.2"/>
<path d="M73.08,330.22 L72.61,328.22 L72.6,326.13 L71.86,324.18 L71.82,322.09 L70.85,320.14 L69.78,318.22 L69.2,316.1 L67.91,314.24 L67.16,312.12 L66.02,310.34 L64.03,308.83 L62.15,307.12 L61.41,304.52 L60.1,302.35 L58.43,301.61 L56.83,300.68 L55.34,299.9 L53.89,298.54 L52.54,297.1 L51.61,295.31 L49.92,294.26 L48.74,292.79 L47.02,292.12 L45.46,291.21 L44.03,290.26 L42.31,289.63 L40.66,288.79 L38.79,288.71 L37.16,288 L37.2,286.13 L37.01,284.27 L37.13,282.39 L36.14,280.5 L35.47,278.5 L34.9,276.43 L34.98,274.38 L34.55,272.41 L34.22,270.42 L34.16,268.38 L33.32,266.39 L32.47,264.4 L32.04,262.25 L31.24,260.28 L30.59,258.33 L30.48,256.29 L30.12,254.29 L29.68,252.22 L28.92,250.25 L27.95,248.28 L28.76,246.36 L28.5,244.26 L29.05,242.32 L28.6,240.21 L27.54,238.31 L27.09,236.2 L26.45,233.91 L26.55,231.52 L26.23,229.07 L24.59,227.66 L23.25,226.12 L22.21,224.24 L21.8,222.16 L21.06,220.18 L20.55,218.19 L19.97,216.21 L19.73,214.14 L19.31,212.15 L18.63,210.18 L18.41,208.13 L17.65,206.18 L17.74,204.11 L17.8,202.11 L18.14,200.12 L18.13,198.11 L17.85,196.14 L17.42,194.12 L17.11,192.07 L16.18,190.18 L15.97,188.09 L16.45,185.99 L17.08,183.95 L17.74,181.83 L19.16,180.6 L19.78,178.86 L20.85,177.4 L21.93,175.96 L23.26,174.12 L23.81,171.87 L25.1,170"/>
<path d="M22.88,174.08 L23.11,172.13 L23.8,170.27 L23.76,168.27 L24.42,166.41 L24.84,164.05 L25.17,161.66 L26,159.4 L26.29,157.54 L27.16,155.88 L27.52,154.05 L28.14,152.28 L29.25,150.38 L30.41,148.49 L30.86,146.29 L31.82,144.32 L33.01,142.41 L34.14,140.48 L34.82,138.35 L35.63,136.27 L36.69,134.62 L36.76,132.59 L37.97,130.99 L38.28,129.05 L38.86,127.22 L39.45,125.42 L40.17,123.66 L41.11,121.97 L41.29,120.03 L42.15,118.32 L42.94,116.31 L43.52,114.22 L44.38,112.24 L44.82,110.09 L45.61,108.09 L46.51,106.12 L47.61,104.25 L48.45,101.98 L49.37,99.82 L49.16,97.49 L48.67,95.19 L49.27,92.66 L50.29,90.28 L50.9,88.55 L51.27,86.73 L52.15,85.09 L51.85,82.76 L51.83,80.4 L51.46,78.08 L50.85,76.12 L51.03,74.05 L50.14,72.14 L50.04,70.1 L50.38,68.18 L50.06,66.24 L50.39,64.32 L50.5,62.4"/>
<path d="M129.4,73.7 L127.8,90.2 L125.4,106.2 L123.8,120.3 L126,125.3 L124.8,129.3 L120.4,136.3 L116,144.4 L114.4,154.4 L112.3,166.4 L110.7,174.1"/>
<path d="M49.5,99.8 L57.1,101.2 L59.1,110.2 L66.2,113.2 L74.2,114.2 L84.2,115.2 L94.3,114.2 L102.3,115.2 L123.8,120.3"/>
<path d="M26,159.6 L50.1,167.6 L55.2,170 L73.2,175 L108.4,182.4 L142.5,190.1 L170,195.7 L177,196.1"/>
<path d="M141.07,76.66 L141.34,78.63 L140.9,80.54 L140.69,82.46 L140.96,84.44 L140.88,86.38 L140.21,88.26 L140.42,90.07 L141,92.16 L141.37,94.33 L142.19,96.32 L143.57,98.08 L144.35,100.07 L144.98,102.11 L145.25,104.36 L146.86,105.46 L147.71,107.06 L148.79,108.5 L149.81,110.08 L150.23,112.23 L151.27,114.15 L151.83,116.25 L152.3,118.23 L151.64,120.24 L151.24,122.32 L150.25,124.24 L149.94,126.28 L149.21,128.23 L149.22,130.35 L148.54,132.19 L150.97,133.37 L153.14,134.48 L154.4,136.35 L155.52,138.29 L156.71,140.22 L157.35,141.91 L158.07,143.57 L158.09,145.51 L158.84,147.16 L159.5,148.85 L160.48,150.42 L161.85,152.51 L163.49,154.22 L165.33,154.27 L167.15,153.86 L169,153.99 L170.82,153.73 L172.64,153.49 L174.52,154.11 L176.31,153.26 L178.18,153.79 L180.13,153.27 L179.24,152.12 L180.81,153.89 L183.04,155.49 L183.5,153.29 L183.59,151.01 L184,148.8"/>
<path d="M184,148.8 L262.7,158.4"/>
<path d="M184,148.8 L181,174.1 L181.1,170 L177,195.1 L174.6,211.6"/>
<path d="M267.3,95.8 L266.3,120.3 L264.3,143.4 L262.7,158.4 L261.7,174.1 L261.8,170 L260.4,190.1 L257.3,221.6"/>
<path d="M264.3,143.4 L335,148 L346.1,147.4"/>
<path d="M340.22,98.58 L339.98,100.55 L340.11,102.49 L340.57,104.39 L340.8,106.32 L341.02,108.25 L341.25,110.15 L341.57,112.19 L341.98,114.21 L341.99,116.3 L342.78,118.24 L343.18,120.27 L343.05,122.34 L343.35,124.34 L344.14,126.26 L344.31,128.28 L344.21,130.34 L344.86,132.29 L345.02,134.31 L345.13,136.18 L345.3,138.05 L345.79,139.89 L345.54,141.8 L345.63,143.67 L345.99,145.53 L346.18,147.44 L344.98,149.34 L343.87,151.58 L345.23,153.23 L346.91,154.62 L347.94,156.4 L348.15,158.37 L347.9,160.34 L347.95,162.31 L348.29,164.27 L348.08,166.24 L348.14,168.21 L348.64,170.16 L348.51,172.13 L348.77,174.07 L348.14,172.07 L348.14,170 L347.9,172.01 L347.94,174.03 L347.55,176.03 L347.79,178.06 L347.42,180.06 L347.32,182.07 L347.51,184.11 L347.1,186.1"/>
<path d="M396.35,133.4 L395.23,134.82 L394.16,136.3 L394.42,138.34 L394,140.35 L393.54,142.36 L393.77,144.36 L392.26,145.72 L390.58,146.89 L389.24,148.4 L389.13,150.42 L388.43,152.37 L388.71,154.43 L387.9,156.48 L388.4,158.47 L389.16,160.41 L389.69,162.4 L390.45,164.16 L391.89,165.74 L393.04,167.6 L394.57,169.1 L396.14,170.57 L397.76,171.48 L398.81,173.03 L400.58,173.83 L399.18,172.53 L397.73,171.27 L396.33,169.97 L397.94,171.15 L399.67,172.18 L401.32,173.31 L402.48,175.1 L404.38,175.97 L404.98,177.79 L405.51,179.64 L405.73,181.58 L406.39,183.38 L407.3,185.1"/>
<path d="M411.3,135.3 L420.3,138.3 L434.4,142.3 L442.4,145.4 L445.4,150.4 L446.8,156.4"/>
<path d="M73.2,175 L61.8,219.8 L110.4,294.1 L104.3,285 L113.4,298 L114.4,305.1 L117.4,310.1 L112.3,315.1 L108.3,323.1 L106.7,328.2 L108.3,333.2 L103.3,335.2"/>
<path d="M108.4,182.4 L110.4,170"/>
<path d="M142.5,190.1 L127.4,268.8 L124.4,282.4 L121.4,279.4 L119.4,282.4 L116.4,281.4 L114.8,286.4 L115.4,294.1 L114.4,285 L113.4,298"/>
<path d="M127.4,268.8 L170,276 L189.1,280 L231.2,284.4 L277.4,288.4 L325,290.5 L330,290.6 L371.2,289.4"/>
<path d="M174.6,211.6 L198.1,216.2 L257.3,221.6 L281,223.8 L280.4,239.9 L325,241.9 L360.2,240.3"/>
<path d="M198.1,216.2 L195.1,246.3 L190.1,279.4 L187.1,294.1 L189.1,285 L178,367.3"/>
<path d="M280.4,239.9 L277.4,288.4"/>
<path d="M260.4,190.1 L325,194.1 L330,196.1 L338.1,195.7 L346.1,200.1"/>
<path d="M347.1,186.1 L346.1,200.1 L350.1,210.2 L353.1,220.2 L356.1,232.2 L360.2,239.3 L364.2,246.3 L366.2,251.3 L370.2,256.3 L371.2,294.1 L371.2,285 L371.8,298 L373.2,317.1 L374.2,343.2"/>
<path d="M347.1,186.1 L407.3,185.1"/>
<path d="M356.1,232.6 L404.3,231.2 L408.3,234.2"/>
<path d="M407.29,185.1 L407.72,186.87 L408.47,188.55 L408.43,190.46 L409.15,192.24 L410.54,193.86 L412.17,195.27 L413.33,197.1 L414.82,198.64 L416.33,200.14 L417.71,201.67 L418.44,203.58 L419.03,205.56 L420.35,207.09 L420.17,209.48 L419.62,211.82 L419.58,214.47 L417.99,215.33 L416.26,215.99 L414.91,217.22 L413.5,218.21 L412.7,220.14 L412.83,222.2 L412.62,224.21 L412.67,226.29 L411.72,228.18 L411.3,230.2 L409.96,232.32 L407.91,234.25 L408.52,236.58 L408.93,238.94 L409.04,241.49 L410.65,242.99 L411.5,245.05 L412.99,246.65 L414.49,248.24 L415.43,249.78 L416.05,251.53 L417.32,252.85 L418.66,253.95 L420.21,256.05 L422.44,257.24 L424,258.15 L425.41,259.3 L425.16,261.15 L424.26,262.81 L423.8,264.6 L423.43,266.38 L424.66,267.89 L426.01,269.3 L427.02,271.01 L428.19,272.61 L430.19,273.61 L431.32,275.48 L432.71,277.09 L433.97,278.52 L434.66,280.22 L435.01,282.01 L435.78,283.68 L436.22,285.65 L438.32,287.07 L440.72,288.36 L440.64,290.33 L441.06,292.22 L441.53,294.09 L440.85,292.33 L441.05,290.37 L440.51,288.58 L440.07,286.76 L439.63,285.04 L439.36,287.05 L439.01,289.05 L438.49,291.06 L437.02,293.09 L435.18,294.97 L435.24,297.04 L434.46,299 L435.05,301.12 L434.48,303.14 L433.1,304.95 L432.4,307.1 L431.26,309.05 L430.36,310.99 L429.79,313.06 L429.43,315.2 L428.76,317.28 L427.21,318.53 L426.87,320.37 L425.99,321.95 L425.52,323.74 L424.4,325.2 L423.49,327.02 L422.61,328.85 L421.19,330.37 L420.15,332.14 L419.46,333.91 L418.53,335.58 L417.66,337.28 L416.99,339.16 L417.43,341.25 L416.78,343.2 L416.4,345.18 L415.97,347.31 L416.93,349.24 L417.68,351.25 L418.48,353.25 L419.04,355.24 L419.01,357.37 L420.22,359.19 L420.09,361.25 L419.39,363.2 L419.69,365.4 L419.08,367.37 L418.46,369.41 L417.06,370.64 L416.06,372.14 L414.99,373.59 L414.2,375.29 L414.03,377.32 L413.81,379.35 L413.5,381.37 L413.3,383.4"/>
<path d="M416.4,200.1 L448.5,198.1"/>
<path d="M454.1,210.2 L457.5,254.3 L454.9,262.3 L452.5,270.4 L451.5,274.4"/>
<path d="M440.75,288.65 L441.66,286.89 L443.36,285.93 L444.42,284.24 L446.6,283.59 L448.37,282.35 L449.34,280.43 L450.1,278.44 L450.33,276.24 L451.6,274.56 L453.01,273.13 L454.84,272.4 L456.57,271.69 L458.53,271.02 L460.55,270.62 L462.45,269.72 L464.49,269.39 L466.38,267.67 L468.6,266.39 L470.65,266.42 L472.54,267.44 L474.5,267.23 L476.45,266.48 L478.22,265.43 L479.94,264.43 L479.25,262.55 L480.42,261.06 L481.84,259.8 L482.76,258.14 L483.75,256.63 L484.67,255.08 L486.21,253.94 L487.07,252.34 L487.72,250.44 L489.04,248.95 L490.09,247.32 L492.61,248.29 L495.03,249.39 L496.85,251.14 L499.14,252.19 L501.06,253.09 L503.02,253.86 L505.2,254.59 L507.08,253.57 L509.11,253 L511.05,252.51 L513.12,252.94 L515.06,253.49 L517.16,254.85 L519.2,256.3"/>
<path d="M458.5,208.1 L480,206.1 L485,206.1 L503.1,204.5"/>
<path d="M485.4,206.5 L490.1,247.3"/>
<path d="M536.2,196.1 L538.2,219.2 L539.2,230.2 L535.2,236.2 L529.2,239.3 L525.2,246.3 L523.2,250.3 L519.2,255.3 L520.2,260.3 L525.2,265.4 L529.2,270.4 L523.2,276.4 L515.2,284.4"/>
<path d="M550.3,179 L544.3,190.1 L595.5,183.7"/>
<path d="M539.2,230.2 L560,227.7 L598,220.8"/>
<path d="M554.47,228.59 L554.21,230.52 L554.97,232.37 L554.94,234.28 L554.83,236.13 L556.63,234.77 L557.73,232.78 L559.33,231.28 L561.67,229.87 L564.19,228.93 L566.07,228.7 L567.72,227.91 L569.31,227.38 L571.42,228.15 L573.41,229.19 L575.12,231.04 L576.49,232.97 L579.05,233.82 L581.54,234.94 L583.42,236.21 L585.32,237.28 L584.69,238.99 L584.28,240.76 L583.63,242.47 L583.33,244.1 L581.56,245.46 L579.28,245.47 L577.4,246.55 L575.43,247.35 L573.57,248.63 L571.54,249.58 L569.61,250.63 L568.08,251.61 L566.21,252.08 L564.89,253.4 L563.19,254.08 L561.1,254.91 L559.25,256.2 L557.42,257.54 L555.52,258.52 L553.5,259.53 L552.3,261.35 L550.91,262.98 L549.07,264.06 L547.96,265.65 L546.11,266.12 L545.04,267.77 L543.33,268.45 L541.86,269.52 L540.02,270.04 L538.75,271.43 L537.19,272.34 L535.15,272.46 L533.18,272.95 L531.45,273.23 L530.44,271.74 L529.2,270.4"/>
<path d="M438.4,293 L490,288 L515.2,284.8 L555.3,279.4 L605.5,271.4"/>
<path d="M611.1,150 L614.8,162 L616.3,166.6 L617.1,178.6 L616.8,194.9"/>
<path d="M615.9,166.3 L641.9,160.5"/>
<path d="M617.1,177.9 L640.4,172.9 L641.2,179.4"/>
<path d="M635.9,174.1 L637,182.4"/>
<path d="M626.5,124.3 L625.5,130.3 L624.5,140.3 L623.5,150.4 L622.5,158.4 L623.5,166.4"/>
<path d="M607.1,131.3 L608.5,140.3 L610.5,150.4 L613.5,158.4 L615.1,166.4 L615.5,174.1"/>
<path d="M632.6,119.3 L634.6,130.3 L637.6,140.3 L641.6,150.4 L643.6,156.4"/>
<path d="M264.3,288.4 L264.3,294.6 L258.3,366.3 L211.1,364.3"/>
<path d="M264.3,294.6 L301.9,297.4 L301.5,328.2 L301.92,327.36 L303.6,328.87 L305.96,329.31 L307.32,330.52 L308.44,332.08 L310.14,332.85 L311.83,332.93 L313.25,333.71 L314.56,334.78 L316.21,334.94 L318.29,334.77 L320.22,335.86 L322.51,335.39 L323.72,336.82 L325.23,337.8 L326.79,338.66 L329.12,338.81 L331.48,337.73 L332.74,339.09 L334.51,339.68 L335.95,341.44 L337.94,339.91 L340.3,339.51 L341.71,340.36 L343.22,340.96 L345.01,340.77 L346.49,342.07 L348.48,341.53 L350.36,340.52 L352.43,340.45 L354.37,339.7 L356.36,339.39 L358.36,339.17 L360.37,339.04 L362.44,339.29 L364.42,338.67 L366.04,340.13 L367.95,341.05 L369.95,341.98 L368.25,341.45 L366.45,341.5 L364.8,340.68 L363.07,340.34 L361.33,340.05 L359.5,340.23 L357.86,339.4 L356.08,338.81 L357.72,339.46 L359.3,339 L360.88,338.56 L362.52,339.36 L363.88,339.19 L365.71,339.5 L366.94,340.88 L368.78,341.16 L370.19,342.23 L372.18,342.77 L374.1,343.47 L376.21,343.46 L378.09,344.1 L379.8,345.2 L379.8,345.2 L380.2,353.7 L380.2,365.3 L383.2,373.3 L386.2,383.4 L385.2,393.4 L383.8,405.5 L383.2,409.1"/>
<path d="M371.8,298 L428.4,295.4 L429.4,301.1 L425.4,304.1 L434.4,303.1"/>
<path d="M380.2,353.7 L417.3,352.3"/>
<path d="M413.3,384 L437.4,383 L439.4,391.4 L440,397.4 L442.4,401.4"/>
<path d="M429.4,319.1 L455.5,318.1 L490,315.1 L504.1,311.1 L518.1,309.5"/>
<path d="M455.5,318.1 L457.5,387.4 L458.5,393.4"/>
<path d="M467.5,381.4 L490,381 L503.1,377.3"/>
<path d="M488,315.1 L497,345.2 L501.1,365.3 L504.1,381.4 L543.2,379 L545.2,381.4 L545.2,375.3 L549.2,375.3"/>
<path d="M534.5,285.25 L533.12,286.64 L531.95,288.21 L530.76,289.76 L529.04,290.78 L527.54,292.14 L526.01,293.47 L524.58,294.92 L522.56,295.58 L521.27,297.22 L519.7,298.48 L517.96,299.52 L516.49,300.91 L514.75,301.95 L513.11,303.12 L511.27,303.74 L509.94,305.17 L508.23,305.99 L506.87,307.37 L505.28,308.16 L504.1,311.1"/>
<path d="M518.1,309.5 L528.2,305.1 L545.2,304.1 L551.2,308.7 L567.3,307.5 L580.4,318.1"/>
<path d="M517.96,310.18 L518.86,311.99 L519.79,313.78 L521.01,315.4 L522.29,316.96 L523.02,318.95 L524.27,320.54 L525.71,322 L527,323.56 L528.16,325.24 L529.62,326.58 L530.83,328.17 L532.27,329.53 L533.7,330.9 L535.16,332.25 L536.57,333.44 L538.19,334.38 L539.5,335.68 L540.97,336.8 L541.99,338.41 L543.78,339.42 L545.05,340.95 L546.49,342.31 L547.83,343.77 L549.32,345.08 L550.77,347 L552.78,348.34 L554.3,350.2"/>
<path d="M448.5,198.1 L451.5,206.1 L454.5,210.2"/>
<path d="M593.78,184.33 L595.79,184.82 L597.31,186.04 L598.57,187.47 L599.91,189.35 L601.49,191.06 L602.83,192.87 L601.85,194.97 L600.94,197.1 L600.2,199.48 L600.79,201.37 L601.56,203.2 L602.2,205 L603.41,206.59 L604.67,208.13 L606.15,209.45 L607.48,210.55 L606.43,212.2 L605.62,214 L604.42,215.5 L602.47,217.16 L600.43,218.7 L598,220.5"/>
<path d="M602.9,192.9 L615,196.2"/>
<path d="M598.8,222.4 L602.1,240.2 L609.4,239.1"/>
<path d="M569.71,227.69 L570.85,229.29 L572.58,230.29 L573.86,231.7 L575.78,232.67 L577.67,233.7 L579.32,235.32 L582.94,235.63 L583.86,237.48 L585.18,239.16 L583.63,240.49 L582.98,242.13 L584.15,244.15 L585.13,246.26 L587.3,247.24 L589.14,248.72 L590.64,249.78 L592.54,250.04 L594,251.2"/>
<path d="M614.8,201.2 L620.1,196.7 L627.6,192.2 L635.2,188.8 L638.2,188.4 L633.7,192.9 L627.6,195.9 L620.1,200.4 L614.8,201.9Z" stroke-width="1.5" fill="#555"/>
<path d="M677.39,115.96 L674.8,115.48 L674.16,116.65 L674.55,118.71 L673.11,119.21 L672.21,120.31 L670.76,120.86 L669.55,121.46 L669.55,124.24 L668.34,125.41 L665.62,124.24 L664.86,126.06 L663.06,125.78 L663.43,128.08 L661.25,128.8 L659.78,129.57 L659.15,131.64 L656.8,130.26 L655.2,131.28 L656.12,134.28 L655.11,135.29 L652.93,135.11 L651.14,135.09 L650.9,137.53 L649.89,138.98 L648.2,139.45 L648.21,141.54 L646.71,142.5 L645.18,143.39 L644.35,144.64 L644.43,146.35 L643,147.3" stroke-width="1.7"/>
<path d="M641.29,160.91 L642.34,162.43 L644.56,163.17 L645.6,164.81 L645.25,166.84 L646.13,168.27 L647.05,169.83 L648.87,170.34 L650.11,171.74 L651.7,172.77 L653.2,172.73 L654.7,172.05 L656.3,172.56 L656.93,174.04 L657.02,175.73 L657.19,177.38 L658.35,177.9 L656.59,178.93 L654.67,179.48 L653.08,179.25 L651.47,179.1 L650.9,178.18 L649.5,179.77 L648.47,181.78 L647.55,180.49 L647.19,178.74 L645.68,177.86 L643.76,178.56 L641.9,179.4" stroke-width="1.2"/>
<path d="M580.93,318.43 L579.53,319.29 L579.12,320.76 L577.86,321.72 L577.03,322.97 L577.49,325.09 L576.85,326.67 L574.32,327.32 L574.82,329.46 L574.12,330.99 L571.74,331.67 L572.11,333.73 L570.73,334.63 L570.34,336.24 L569.06,336.96 L568.89,338.79 L567.07,338.97 L565.68,339.58 L565.27,341.15 L563.78,341.52 L562.67,342.46 L562.28,344.47 L560.16,343.88 L559.15,345.05 L558.64,346.54 L558.1,348 L555.68,347.58 L555.35,349.25 L553.79,350.06 L553.02,351.37 L553.01,352.9 L552.13,354.19 L552.94,355.95 L551.6,357.12 L552.01,358.93 L550.45,360.23 L550.16,361.87 L551.55,363.95 L551.07,365.39 L550.73,366.8 L548.8,368.05 L549.92,369.6 L549.33,370.98 L549.96,372.49 L549.33,373.87 L549.2,375.3" stroke-width="1.5"/>
<path d="M554.23,473.54 L556.19,472.96 L558.26,472.96 L559.64,472.23 L561.07,471.71 L562.66,471.77 L564.39,472.01 L565.87,471.4 L567.38,470.91 L568.66,469.74 L570.55,469.48 L572.15,468.47 L573.68,467.78 L575.01,466.31 L576.52,465.02 L578.73,464.18 L579.54,462.38 L580.44,460.64 L581,458.7" stroke-width="1.6"/>
<path d="M578.28,459.06 L576.16,459.82 L574.56,460.67 L572.64,459.86 L570.84,460.01 L570.17,458.28 L567.66,458.02 L567.01,455.99 L566.43,453.89 L564.66,453 L564.06,451.33 L561.66,451.05 L561.26,449.25 L559.7,448.64 L558.86,447.12 L557.65,446.07 L555.54,445.96 L554.53,444.31 L553.29,442.88 L553.12,440.79 L551.82,438.94 L549.7,437.65 L549.82,435.47 L547.66,435.01 L547.5,433.04 L545.65,432.43 L544.44,431.33 L544.94,428.87 L542.75,428.43 L541.76,426.76 L542.21,424.22 L541.11,423.22 L540.09,421.28 L541.81,419.74 L541.14,417.86 L541.68,415.99 L540.18,414.53 L541.23,412.33 L540.2,410.73 L539.3,409.1" stroke-width="1.4"/>
<path d="M452.17,392.71 L450.77,393.31 L449.78,394.77 L448.68,395.95 L447.65,397.23 L445.54,396.35 L444.45,397.45 L442.92,397.92 L442.63,399.63 L440.9,399.9 L440.93,401.14 L440.36,403.11 L441.2,404.4 L442.33,405.29 L443.93,405.07 L445.56,404.9 L446.64,403.17 L448.3,403.5 L448.87,404.99 L450.9,405.04 L451.14,405.8 L450.01,406.72 L448.54,407 L447.87,408.83 L446.4,408.04 L448.3,409.88 L449.64,408.54 L449.05,410.45 L447.45,412.63 L445.85,411.97 L444.45,410.46 L442.46,410.89 L441.94,408.72 L440.25,408.94 L438.53,409.22 L437.42,407.54 L436.1,409.06 L433.76,408.56 L432.12,409.45 L430.92,411.2 L429.1,411.73 L427.73,412.4 L426.13,411.7 L424.58,410.83 L422.05,412.7 L420.77,411.09 L419.38,409.7 L417.38,409.56 L416.43,408.27 L414.58,408.81 L414.21,406.34 L412.53,406.54 L410.39,406.66 L409.36,404.55 L407.72,404.54 L406.19,405.64 L404.19,405.8 L402.25,407.51 L400,405.9" stroke-width="1.7"/>
<path d="M409.99,407.04 L407.2,407.04 L404.43,406.49 L401.63,406.81 L398.86,406.3 L396.07,406.29 L393.27,406.4 L390.5,405.89 L387.53,406.52 L384.5,406.45 L381.53,406.99 L378.64,407.2 L376.19,408.02 L373.72,408.8 L371.7,410.33 L368.9,412.67 L365.94,414.82 L363.28,416.62 L360.97,418.85 L358.04,420.52 L354.83,421.66 L352.16,423.82 L348.85,424.75 L346.59,426.64 L344.2,428.2 L341.66,430.72 L339.03,433.09 L336.79,435.66 L335.35,438.67 L334.37,441.12 L333.66,443.64 L333.2,446.18 L333.56,449.26 L334.44,452.22 L335.04,454.89 L335.53,457.58 L335.76,460.33 L336.46,463.09 L336.9,465.9" stroke-width="1.0"/>
<path d="M30.78,260.35 L31.31,258.21 L29.99,256.37 L30.33,254.22 L28.96,252.46 L28.48,250.4 L28.69,248.4 L28.09,246.24 L28.93,244.33 L29.05,242.32 L28.55,240.79 L28.09,239.25 L27.25,237.84 L27.49,236.14 L26.36,234.52 L26.28,232.75 L25.78,231.03 L25.91,229.4 L24.47,227.78 L23.46,226.05 L22.2,224.25 L21.23,222.35 L20.72,220.27 L21.17,218.46 L19.69,217.13 L19.94,215.37 L19.26,213.84 L19.19,212.17 L18.53,210.61 L18.67,208.92 L18.16,207.34 L18.06,205.69 L18.08,204.12 L17.78,202.5 L17.33,200.88 L17.32,199.27 L18.45,197.73 L17.99,196.1 L17.24,194.59 L17.72,192.77 L16.89,191.28 L16.67,189.63 L16.43,188.24 L16.26,186.49 L16.84,185 L17.93,183.67 L18,182" stroke-width="1.2"/>
<path d="M49.44,99.81 L49.03,98.3 L48.4,96.83 L49.26,95.36 L48.41,93.32 L49.64,91.87 L50.69,90.43 L50.14,88.26 L51.51,86.83 L52.29,85.08 L51.17,83.43 L51.51,81.62 L51.82,79.81 L51.22,78.11 L51.42,76.45 L50.28,74.98 L50.17,73.36 L49.72,71.79 L50.11,70.1 L50.86,68.6 L50.4,67.03 L50.78,65.5 L50.23,63.93 L50.5,62.4" stroke-width="1.3"/>
<path d="M539.3,409.04 L538.1,407.36 L537.29,405.41 L535.66,404.61 L535.16,402.71 L533.97,401.48 L532.58,400.45 L530.82,399.78 L530.02,398.18 L528.61,397.19 L527.32,396.08 L526.91,394.09 L525.45,392.65 L523.45,393.59 L522.33,391.85 L520.68,391.74 L519.17,391.58 L517.62,392.32 L515.8,392.34 L514.32,393.26 L512.6,393.52 L511.02,394.15 L509.79,395.46 L507.96,394.99 L506.36,395.17 L505.34,395.69 L503.66,395.73 L501.87,396.09 L500.35,395.65 L498.69,394.82 L498.23,392.56 L496.15,391.96 L494.94,390.61 L493.52,389.29 L491.58,389.68 L490.02,388.82 L488.3,388.5 L486.47,388.57 L485,387.4" stroke-width="1.3"/>
<path d="M490.01,387.48 L488.14,387.56 L486.21,387.23 L484.46,388.2 L482.6,388.39 L480.96,388.46 L479.42,389.3 L477.74,388.98 L476.09,388.99 L474.42,388.94 L473.11,390.29 L471.55,390.21 L470.11,390.8 L468.99,390.35 L468.64,388.87 L467.44,387.48 L468.77,385.81 L468.57,384.32 L467.91,382.87 L467.32,381.38 L467.84,383.07 L467.87,384.7 L466.85,386.19 L467.4,387.89 L466.28,389.84 L464.32,388.77 L463.13,387.82 L461.55,388.93 L460.58,390.45 L459.04,391.6 L458.5,393.37 L457,393.18 L455.5,393.4 L454,393.14 L452.5,393.4" stroke-width="1.4"/>
<path d="M598.04,221.34 L596.66,222.2 L595.52,223.3 L595.15,225.17 L594.21,226.47 L592.6,227.05 L591.51,228.82 L589.31,230.41 L590.11,231.93 L590.84,233.47 L591.49,234.96 L590.73,236.53 L591.14,238.5 L590.01,239.84 L591.33,241.19 L590.85,243.48 L593.19,244.31 L592.63,246.61 L594.76,247.59 L594.44,249.69 L595.52,251.15 L595.79,252.8 L595.34,254.64 L597.26,255.67 L597.99,257.31 L597.26,259.67 L598.79,260.91 L600.69,262 L600.74,264.9 L601.98,265.68 L604.39,265.45 L604.64,267.33 L605.95,268.67 L606.1,270.6" stroke-width="1.6"/>
<path d="M603.27,262.55 L603.83,260.86 L603.63,259.26 L603.72,257.62 L602.35,256.24 L602.03,254.59 L601.48,253 L601.22,251.34 L601.68,249.41 L599.87,248.27 L599.68,246.31 L598.31,244.86 L597.92,243.22 L597.62,241.54 L597.79,239.75 L596.99,238.23 L595.55,236.86 L595.61,235.12 L594.97,233.5 L595.99,231.66 L595.62,230.04 L595.32,228.67 L595.89,227.09 L596.28,225.44 L597.07,224.15 L597.64,222.79 L598,221.3" stroke-width="1.6"/>
<path d="M603.25,262.35 L604.46,260.98 L604.94,259.36 L605.81,257.83 L605.43,256.01 L605.82,254.38 L606.77,252.89 L607.08,251.25 L607.07,249.52 L607.91,248 L607.98,246.3 L608.82,244.78 L608.49,242.73 L609.04,240.89 L609.8,239.1" stroke-width="1.3"/>
<path d="M604.8,270.25 L606.63,271.38 L606.65,273.39 L608.02,274.65 L608.49,276.86 L610.61,277.69 L610.94,279.49 L612.18,280.39 L613.03,281.52 L613.68,282.97 L615.27,283.88 L615.98,285.47 L614.77,287.31 L614.41,289.55 L613.23,291.22 L612.03,292.93 L610.4,293.46 L609.29,294.51 L608.21,295.69 L607.57,297.7 L605.73,298.75 L604.89,300.34 L603.7,301.6" stroke-width="1.4"/>
<path d="M73.06,330.22 L72.9,328.58 L72.56,326.97 L72.31,325.35 L71.99,323.74 L71.94,322.04 L70.93,320.7 L70.62,319.05 L69.4,317.79 L69.02,316.19 L68.3,314.67 L67.38,313.26 L67.17,311.49 L66.09,310.25 L65.04,308.87 L63.81,307.74 L61.97,307.19 L61.9,305.29 L61.15,303.65 L60.26,301.94 L58.33,301.87 L56.78,300.81 L55.2,300.02 L53.69,298.7 L52.39,297.22 L51.2,295.65 L49.97,294.2 L48.76,292.76 L47.02,292.13 L45.56,291.06 L44.14,289.86 L42.47,289.07 L40.54,289.2 L38.72,288.94 L37.1,288" stroke-width="1.2"/>
<path d="M50.07,63 L52.34,64.34 L54.5,65.82 L57.39,68.32 L59.96,69.17 L62.29,70.58 L66.01,71.16 L68.2,73.4" stroke-width="1.1"/>
<path d="M50.67,62.83 L49.81,64.48 L49.76,66.19 L49.85,67.9 L50.1,69.58 L49.39,71.36 L49.47,73.1 L49.98,74.82 L50.09,76.56 L50.57,78.33 L50.73,80.29 L50.05,82.18 L49.62,84.19 L51.29,84.64 L51.77,85.86 L51.02,87.81 L52.33,90.69 L50.84,91.97 L49.34,93.43 L49.53,95.07 L49.23,96.47 L48.7,98.7" stroke-width="1.4"/>
<path d="M426.4,114.2 L433.4,109.2" stroke-width="1.6" stroke="#223"/>
<path d="M36.1,297 L40.1,298.7 L45.1,299.1 L50.1,300.3" stroke-width="1.5"/>
<path d="M44.5,311.1 L45.7,311.9" stroke-width="1.5"/>
<path d="M51.7,309.1 L52.7,309.9" stroke-width="1.5"/>
<path d="M57.7,312.3 L58.7,314.3" stroke-width="1.5"/>
<path d="M56.5,319.5 L58.1,322.7" stroke-width="1.5"/>
<path d="M592.4,228.5 L594.3,233.4 L593.7,238.3 L595.9,243.1" stroke-width="1.8"/>
<path d="M594.8,230.2 L596.9,235.8 L598.8,242.3 L600.5,248" stroke-width="1.8"/>
<path d="M594.8,249.6 L590.7,248.8 L587.5,249.9" stroke-width="1.8"/>
<path d="M596.4,256.1 L592.4,255.7 L588.3,257.7 L586.7,260.1" stroke-width="1.8"/>
<path d="M598.8,260.9 L594.8,260.9 L591.6,263.3" stroke-width="1.8"/>
<path d="M601.3,264.1 L598,266.6 L598.8,269" stroke-width="1.8"/>
<path d="M602.1,251.2 L602.4,257.7 L603.4,261.7" stroke-width="1.8"/>
<path d="M594.8,277.3 L600.5,276.5 L606.1,278.1 L610.2,279.7" stroke-width="1.8"/>
<path d="M596.4,289.4 L602.1,290.2 L606.9,292.7 L610.2,289.4 L611.8,284.6" stroke-width="1.8"/>
<path d="M594.8,277.3 L597.2,283 L596.4,287.8 L594.8,291.1 L600.5,294.3 L603.7,297.5" stroke-width="1.8"/>
<path d="M608.5,295.9 L606.1,299.1 L603.7,301.6 L600.5,300" stroke-width="1.8"/>
</g>
<path d="M67.23,62.86 L68.83,61.6 L69.4,60.15 L70.67,59.49 L71.88,60.69 L72.19,61.96 L74.66,63.67 L74.53,65.24 L74.24,66.5 L74.56,68.58 L74.2,70.28 L74.62,71.42 L75.61,73.49 L75.54,75.82 L74.01,77.48 L72.48,78.57 L72.35,80.15 L71.41,81.51 L70.93,82.85 L70.63,84.54 L70.08,86.05 L68.95,87.42 L67.45,88.22 L65.59,87.54 L64.35,88.23 L62.2,87.87 L61.29,86.16 L63.01,83.78 L63.97,82.54 L65.3,81.59 L65.26,79.61 L66.69,78.8 L67.39,77.18 L69.07,76.14 L69.89,74.73 L69.72,72.9 L69.85,71.33 L70.5,70.11 L70.12,68.04 L68.61,66.08 L67.56,64.54 L67.2,62.8Z" fill="#000"/><path d="M64.3,83.2 L65.7,82 L68.2,82.5 L67.7,83.9 L65.4,84.3Z" fill="#fcd37f"/><path d="M23,227.2 L29.1,226.2 L34.1,228.2 L40.1,230.8 L34.1,230.2 L30.1,230.2 L29.1,236.2 L27.1,234.2Z" fill="#000"/>
<defs><clipPath id="akc"><path d="M51.1,425 L54.5,421.6 L62.4,419.4 L69.1,414.9 L74.8,412.6 L81.5,411.5 L86,409.7 L90.5,413.8 L97.2,417.1 L104,419.4 L113,421.6 L119.8,422.8 L126,426.1 L128.8,463.2 L131,498.9 L127.3,500 L119.9,501.4 L114.4,498.9 L110.7,496.3 L107.7,494.1 L103.3,492.6 L99.6,490.4 L96.7,491.5 L101.5,495.2 L105.2,498.9 L103.3,502.5 L98.9,504.4 L94.1,507.3 L90.4,505.1 L91.5,500.7 L93,497 L94.5,493.3 L94.1,490.4 L90.4,495.2 L86.7,500.7 L83,505.1 L79.3,508.8 L75.6,511.8 L70.1,517.3 L64.6,521 L55.4,526.5 L46.1,530.2 L36.9,532.4 L25.8,535.8 L14.8,538.7 L14.8,537.6 L25.8,533.9 L36.9,530.2 L46.1,527.3 L55.4,522.8 L60.9,517.3 L66.4,513.6 L70.1,511 L66.4,508.1 L60.9,507.3 L55.4,505.1 L51.7,500.7 L49.8,497 L47.8,488 L41,486.9 L37.6,483.5 L36.5,479 L39.9,473.4 L44.4,470 L50,466.6 L56.8,464.4 L61.2,458.8 L56.8,457.6 L50,458.8 L43.2,452 L41,446.4 L47.8,443 L54.5,441.9 L61.2,443 L64.6,446.4 L62.4,439.6 L56.8,434 L52.2,428.4Z"/></clipPath></defs>
<g clip-path="url(#akc)"><path d="M83.8,446.4 C85.12,444.72 87.13,442.12 90.5,440.8 C93.87,439.48 99.50,439.07 104,438.5 C108.50,437.93 113.00,437.70 117.5,437.4 C122.00,437.10 128.00,432.02 131,436.7 C134.00,441.38 135.13,455.08 135.5,465.5 C135.87,475.92 132.72,493.03 133.2,499.2 C133.68,505.37 136.30,500.90 138.4,502.5 C140.50,504.10 145.18,507.75 145.8,508.8 C146.42,509.85 144.87,510.03 142.1,508.8 C139.33,507.57 133.20,502.45 129.2,501.4 C125.20,500.35 121.80,503.23 118.1,502.5 C114.40,501.77 110.38,499.27 107,497 C103.62,494.73 100.87,488.28 97.8,488.9 C94.73,489.52 91.37,497.38 88.6,500.7 C85.83,504.02 83.97,506.83 81.2,508.8 C78.43,510.77 75.08,512.50 72,512.5 C68.92,512.50 65.78,510.47 62.7,508.8 C59.62,507.13 55.65,504.47 53.5,502.5 C51.35,500.53 50.20,498.67 49.8,497 C49.40,495.33 49.93,494.37 51.1,492.5 C52.27,490.63 54.35,487.48 56.8,485.8 C59.25,484.12 62.80,483.53 65.8,482.4 C68.80,481.27 71.80,480.32 74.8,479 C77.80,477.68 81.18,476.00 83.8,474.5 C86.42,473.00 89.00,471.50 90.5,470 C92.00,468.50 93.18,466.82 92.8,465.5 C92.42,464.18 89.70,463.60 88.2,462.1 C86.70,460.60 84.73,458.37 83.8,456.5 C82.87,454.63 82.60,452.58 82.6,450.9 C82.60,449.22 82.48,448.08 83.8,446.4Z" fill="#ffff00"/><path d="M91.6,471.1 C93.10,470.10 99.68,469.60 104,469.6 C108.32,469.60 114.32,470.28 117.5,471.1 C120.68,471.92 123.10,473.48 123.1,474.5 C123.10,475.52 120.68,476.82 117.5,477.2 C114.32,477.58 107.75,477.07 104,476.8 C100.25,476.53 97.07,476.55 95,475.6 C92.93,474.65 90.10,472.10 91.6,471.1Z" fill="#fff"/><path d="M105.1,445.2 C105.67,443.88 108.35,443.37 110.8,443 C113.25,442.63 117.00,443.07 119.8,443 C122.60,442.93 126.10,440.17 127.6,442.6 C129.10,445.03 130.10,454.90 128.8,457.6 C127.50,460.30 122.43,459.17 119.8,458.8 C117.17,458.43 115.07,456.72 113,455.4 C110.93,454.08 108.72,452.60 107.4,450.9 C106.08,449.20 104.53,446.52 105.1,445.2Z" fill="#fcd37f"/><path d="M90.4,497 C91.32,494.73 93.53,492.60 95.2,491.5 C96.87,490.40 98.55,489.48 100.4,490.4 C102.25,491.32 105.45,494.98 106.3,497 C107.15,499.02 106.73,501.15 105.5,502.5 C104.27,503.85 100.98,504.17 98.9,505.1 C96.82,506.03 94.53,508.10 93,508.1 C91.47,508.10 90.13,506.95 89.7,505.1 C89.27,503.25 89.48,499.27 90.4,497Z" fill="#fcd37f"/></g>
<g fill="none" stroke="#1e90ff" stroke-width="1.1"><path d="M126.5,444.1 C124.62,444.85 118.95,447.10 115.2,448.6 C111.45,450.10 107.00,451.60 104,453.1 C101.00,454.60 99.83,456.28 97.2,457.6 C94.57,458.92 91.20,460.07 88.2,461 C85.20,461.93 81.82,462.45 79.2,463.2 C76.58,463.95 74.37,464.37 72.5,465.5 C70.63,466.63 69.88,467.75 68,470 C66.12,472.25 63.45,477.13 61.2,479 C58.95,480.87 56.73,481.57 54.5,481.2 C52.27,480.83 49.30,478.48 47.8,476.8 C46.30,475.12 45.88,472.05 45.5,471.1"/><path d="M101.8,443 C101.03,443.75 99.47,446.00 97.2,447.5 C94.93,449.00 91.20,451.25 88.2,452 C85.20,452.75 81.63,451.25 79.2,452 C76.77,452.75 74.33,454.82 73.6,456.5 C72.87,458.18 74.60,461.17 74.8,462.1"/><path d="M91.6,467.8 C90.67,468.35 88.07,469.60 86,471.1 C83.93,472.60 81.83,474.92 79.2,476.8 C76.57,478.68 73.20,481.10 70.2,482.4 C67.20,483.70 64.38,483.48 61.2,484.6 C58.02,485.72 52.78,488.35 51.1,489.1"/><path d="M71.4,426.1 C72.33,426.48 74.20,428.02 77,428.4 C79.80,428.78 85.02,428.97 88.2,428.4 C91.38,427.83 94.40,426.32 96.1,425 C97.80,423.68 98.02,421.25 98.4,420.5"/><path d="M114.1,449.8 C114.85,451.10 116.53,455.55 118.6,457.6 C120.67,459.65 125.18,461.35 126.5,462.1"/><path d="M96.1,489.1 C96.48,487.78 97.08,482.82 98.4,481.2 C99.72,479.58 102.13,479.20 104,479.4 C105.87,479.60 108.67,481.90 109.6,482.4"/></g>
<path d="M131.15,498.14 L132.4,499.06 L133.84,499 L135.14,499.63 L136.74,499.63 L137.26,501.28 L138.68,501.57 L139.62,502.59 L140.56,503.6 L142.1,503.69 L143.5,504.37 L145.16,504.56 L145.99,506.33 L147.03,506.07 L148.34,505.45 L149,504.22 L150.65,503.93 L151.21,502.62 L152.19,501.69 L153.06,500.74 L153.6,502.06 L154.36,503.15 L156.06,503.28 L156.35,504.86 L157.5,505.55 L158.45,506.45 L159.02,507.73 L160.92,507.68 L161.71,508.74 L162.42,509.88 L163.57,510.58 L164.52,511.48 L165.56,512.29 L165.62,514.19 L166.59,515.08 L167.72,515.77 L168.84,516.48 L170.29,516.76 L171.42,517.45 L172.34,518.4 L173.8,518.68 L174.71,519.64 L175.33,520.96 L176.45,521.66 L177.25,522.79 L178.41,523.44 L179.96,523.56 L180.21,525.43 L181.72,525.61 L182.74,526.49 L183.37,527.83 L183.83,529.23 L183.33,530.93 L183.88,531.53 L184.04,533.44 L182.19,533.51 L181.45,534.6 L180.55,535.55 L180.14,537.29 L178.55,536.33 L177.13,537.03 L175.67,537.39 L174.26,538.29 L172.72,537.58 L171.34,537.15 L170.52,536.12 L170.27,534.47 L168.67,534.29 L168.38,532.89 L166.91,532.12 L165.75,531.15 L165.39,529.66 L164.25,528.67 L163.45,527.47 L163.45,525.74 L162.68,524.48 L161.13,524.04 L161.08,522.4 L159.98,521.59 L158.55,521.06 L157.73,520.04 L157.75,518.34 L157.22,517.08 L156.28,516.16 L155.11,515.36 L153.39,515.21 L153.03,513.36 L151.15,513.41 L150.83,511.51 L149.02,511.63 L148.64,509.55 L146.98,509.58 L145.54,509.26 L144.18,508.69 L143.11,507.57 L142.33,506.04 L140.64,505.8 L139.2,505.2 L138.65,503.32 L136.84,503.4 L135.61,502.6 L134.42,501.74 L133.12,501.04 L131.98,500.09 L131,498.9Z" fill="#d9a24e" stroke="#111" stroke-width="1.7" stroke-linejoin="round"/>
<defs><clipPath id="aksec"><path d="M131,498.9 L136.5,500 L142.1,503.7 L147.6,506.6 L153.1,500.7 L158.7,506.2 L166.1,513.6 L175.3,521 L182.7,526.5 L184.5,532.1 L180.1,536.9 L172.7,537.6 L167.9,533.2 L162.4,524.7 L155,515.5 L149.4,511 L144.6,508.1 L138.4,503.7Z"/></clipPath></defs>
<g clip-path="url(#aksec)" stroke="#111" fill="none"><path d="M133,500L146,506L156,512L166,521L176,531L183,538" stroke-width="9" stroke-dasharray="1.3 1.3 0.8 2.1 1.6 1.1"/><path d="M146,509L158,518L168,528L177,537" stroke-width="1.4" stroke-dasharray="3 2"/><path d="M150,503L160,510L170,520L181,531" stroke-width="1"/></g>
<path d="M103.3,491.8 L107,490.4 L109.2,493.3 L111.4,497 L109.2,500 L106.3,499.2 L105.5,496.3Z" fill="#111"/>
<path d="M50.78,424.68 L52.58,424.22 L53.09,422.46 L54.57,421.85 L56.18,421.52 L57.73,420.98 L59.18,420.07 L60.78,419.68 L62.54,419.6 L64.03,418.93 L65.18,417.75 L66.44,416.74 L67.69,415.7 L69.06,414.8 L71.09,414.36 L72.87,413.29 L74.81,412.64 L76.5,412.47 L78.17,412.19 L79.74,411.28 L81.39,411.22 L83.08,411.11 L84.53,410.37 L85.75,409.97 L87.83,410.7 L89.2,412.22 L90.5,413.8 L92.05,414.87 L94,415.15 L95.4,416.54 L97.23,417.01 L98.97,417.47 L100.48,418.59 L102.44,418.42 L103.89,419.86 L105.85,419.64 L107.64,420.13 L109.48,420.4 L111.21,421.13 L112.93,421.97 L114.75,421.6 L116.39,422.26 L118.11,422.44 L119.9,422.61 L121.54,423.27 L122.8,424.64 L124.49,425.19 L126.03,426.1 L126.01,427.72 L126.67,429.29 L126.02,430.97 L126.06,432.58 L126.88,434.14 L126.38,435.8 L126.63,437.41 L127.2,438.99 L127.35,440.6 L127.67,442.2 L127.43,443.84 L127.51,445.45 L127.6,447.07 L127.72,448.68 L127.77,450.3 L128.36,451.88 L128.37,453.5 L128.13,455.14 L128.34,456.75 L128.79,458.33 L128.8,459.96 L128.15,461.63 L128.47,463.22 L128.65,464.84 L129.16,466.44 L129.19,468.06 L128.98,469.7 L129.23,471.32 L129.25,472.95 L130.01,474.53 L129.37,476.2 L130.03,477.78 L129.99,479.42 L129.87,481.05 L129.51,482.7 L130.2,484.29 L130.04,485.93 L130.62,487.52 L129.92,489.19 L130.78,490.77 L130.56,492.41 L130.5,494.04 L130.58,495.67 L130.96,497.27 L130.95,498.74 L129.3,499.97 L127.2,499.48 L125.44,500.29 L123.58,500.6 L121.8,501.32 L119.89,501.42 L118.13,500.42 L116.19,499.82 L114.16,499.24 L112.36,497.87 L110.94,495.97 L109.01,495.46 L107.71,494.09 L105.57,493.13 L103.14,492.86 L101.62,491.21 L99.61,490.42 L96.4,491.89 L98.5,492.48 L99.95,493.9 L101.61,495.09 L102.91,496.26 L104.02,497.61 L105.27,498.94 L104.35,500.75 L103.14,502.13 L101.18,503.63 L99.15,504.82 L97.16,505.13 L95.74,506.39 L93.83,507.75 L92.39,505.96 L90.64,505.16 L91.12,502.94 L91.83,500.83 L92.02,498.75 L93.35,497.14 L93.61,495.09 L94.89,493.25 L93.67,490.07 L92.82,491.96 L91.7,493.65 L90.19,495.06 L89.27,496.44 L88.55,497.95 L88.01,499.58 L86.82,500.8 L85.31,502.04 L84.64,503.98 L83.07,505.17 L81.44,506.01 L80.37,507.4 L79.47,509 L77.7,510.61 L75.54,511.74 L74.14,513.09 L73.02,514.72 L71.46,515.91 L69.8,516.85 L68.63,518.09 L67.32,519.11 L66.24,520.47 L64.61,521.02 L63.34,522.37 L61.27,522.4 L59.99,523.73 L58.41,524.57 L56.83,525.41 L55.59,526.97 L53.72,526.79 L52.22,527.53 L50.92,528.79 L49.03,528.54 L47.5,529.21 L45.97,529.68 L44.36,531.08 L42.31,530.64 L40.51,531.22 L38.8,532.22 L37.04,532.84 L35.26,532.7 L33.87,533.83 L32.13,533.81 L30.46,534.02 L29,534.94 L27.44,535.49 L25.82,535.89 L24.34,536.62 L22.78,537.09 L21.07,536.97 L19.42,537.12 L17.8,537.35 L16.48,538.71 L14.58,538.7 L14.91,537.93 L16.3,536.85 L18.04,536.82 L19.67,536.47 L21.21,535.86 L22.7,535.09 L24.31,534.67 L25.92,534.27 L27.26,533 L28.91,532.67 L30.64,532.56 L32.14,531.76 L33.82,531.54 L35.48,531.22 L36.97,530.44 L38.46,529.81 L40.04,529.47 L41.64,529.2 L42.9,527.85 L44.42,527.31 L46.24,527.59 L47.82,526.9 L49.28,525.96 L50.73,525.01 L52.19,524.07 L54.08,524.03 L55.56,522.96 L57.15,521.8 L58.27,520.17 L59.8,518.95 L60.73,517.05 L62.41,516.58 L63.4,515.08 L64.92,514.37 L66.37,513.55 L68.26,512.32 L70.43,510.57 L68.34,509.44 L66.34,508.53 L64.61,507.51 L62.77,507.28 L61.03,506.96 L59.24,506.12 L57.35,505.55 L55.41,505.09 L54.31,503.52 L52.56,502.48 L51.58,500.76 L50.66,498.9 L50.05,496.94 L48.93,495.3 L48.68,493.47 L48.32,491.66 L47.88,489.87 L47.8,488.03 L46.19,487.19 L44.37,487.64 L42.62,487.64 L40.62,487.28 L40.06,485.58 L38.65,484.72 L38.12,483.37 L36.78,481.32 L36.95,479.27 L37.17,477.49 L38.65,476.47 L39.46,475.05 L39.83,473.31 L41.13,471.91 L42.98,471.24 L44.45,470.08 L45.88,469.28 L47,467.96 L48.79,467.77 L49.95,466.44 L51.64,465.86 L53.26,465.06 L54.94,464.45 L56.76,464.37 L57.58,462.75 L58.83,461.47 L60.31,460.36 L61.27,458.53 L58.98,458.26 L56.85,457.9 L55.08,457.76 L53.42,458.32 L51.61,457.97 L50.21,458.59 L49.15,457.39 L47.56,456.71 L46.81,455.19 L45.41,454.33 L44.14,453.32 L42.81,452.15 L42.48,450.13 L41.89,448.21 L40.88,446.16 L42.5,445.15 L44.44,444.79 L46.11,443.88 L47.84,443.24 L49.54,443.12 L51.09,442.09 L52.91,442.69 L54.54,441.67 L56.13,442.44 L57.9,442.16 L59.48,443.01 L61.32,442.88 L62.32,444.15 L63.17,445.56 L64.88,446.31 L64.32,444.61 L63.94,442.86 L62.86,441.33 L62.21,439.79 L61.26,437.94 L59.66,436.74 L58.02,435.58 L57.21,433.66 L55.99,432.32 L54.75,430.99 L53.32,429.83 L52.52,428.3 L51.54,426.73 L51.1,425Z" fill="none" stroke="#111" stroke-width="1.1" stroke-linejoin="round"/>
<path d="M78.7,508.66 L77.91,510.32 L76.71,511.34 L75.33,512.08 L73.7,512.43 L72.1,512.83 L71.52,514.82 L70.46,516.04 L68.95,516.63 L68.04,518.12 L65.95,517.85 L64.16,518.04 L63.88,520.49 L61.81,520.24 L61.17,522.22 L58.89,521.63 L58.03,523.25 L56.9,524.47 L55.85,526.14 L54.4,526.43 L52.36,525.36 L51.71,527.51 L49.98,527.13 L48.7,527.83 L47.48,528.65 L45.96,528.61 L44.81,530.4 L42.92,529.57 L41.78,531.41 L40.15,531.49 L38.32,530.86 L37.11,532.41 L35.76,532.95 L34.13,532.53 L32.64,532.62 L31.69,534.49 L29.84,533.36 L28.52,533.98 L27.53,535.74 L25.75,534.84 L24.77,536.56 L23.01,535.7 L21.6,535.98 L20.38,536.91 L19.02,537.39 L17.35,536.8 L16.39,538.59 L14.8,538.3" fill="none" stroke="#111" stroke-width="1.8" stroke-linejoin="round"/>
<path d="M74.26,521.97 L72.61,522.17 L72.08,523.76 L70.49,524.02 L68.92,524.32 L68.49,526.08 L66.48,526.09 L65.38,527.47 L63.76,528.06 L62.7,529.5" fill="none" stroke="#111" stroke-width="1.4" stroke-dasharray="3 2"/>
<g fill="#fff" stroke="#111" stroke-width="1.3" stroke-linejoin="round"><path d="M21.76,456.31 L23.36,455.08 L25.1,454.28 L25.99,455.39 L26.81,456.56 L27.84,457.58 L28.63,458.78 L29.5,460.63 L30.82,461.86 L29.26,462.83 L27.37,463.33 L26.13,462.34 L25.36,460.87 L23.79,460.1 L23.12,458.12 L21.9,456.5Z"/><path d="M28.5,487.68 L30.22,487.2 L31.89,487 L33.55,488.17 L34.47,489.53 L33.17,490.74 L32.09,491.93 L30.64,491.42 L29.55,490.63 L28.6,488Z"/><path d="M75.57,519.15 L77.03,518.32 L78.43,517.39 L79.84,516.48 L81.28,515.73 L82.7,515.38 L84,514.68 L85.41,514.31 L86.65,513.62 L87.27,515.44 L87.63,517.09 L86.37,517.95 L85.4,519.17 L84.19,520.1 L83.3,521.41 L81.82,521.82 L80.17,522.49 L78.47,523 L76.54,523.67 L76.46,522.12 L76.08,520.64 L75.6,519.2Z"/></g>
<path d="M27.3,569.49 L28.83,570.02 L30.26,570.74 L31.83,570.75 L33.1,571.5" fill="none" stroke="#111" stroke-width="2.0" stroke-linejoin="round"/>
<path d="M33.1,575.9 L40.1,574.8" fill="none" stroke="#111" stroke-width="1.6" stroke-linejoin="round" stroke-dasharray="1.5 4"/>
<path d="M48.2,580.6 L56.3,586.4 L59.7,587.5 L63.7,586.1 L65.5,591 L67.8,594.4 L72,588.7" fill="none" stroke="#111" stroke-width="1.8" stroke-linejoin="round" stroke-dasharray="1.6 5"/>
<path d="M79.85,596.83 L80.19,594.84 L82.16,595.5 L82.7,593.49 L84.54,593.58 L86.15,594.08 L87.8,593.29 L89.2,593.87 L90.78,593.46 L92.16,595.32 L93.62,595.27 L94.95,593.54 L96.4,593.35 L97.89,593.95 L99.36,593.69 L100.93,593.84 L102.18,592.64 L103.75,592.77 L104.94,591.55 L106.39,591.25 L107.75,590.59 L109.38,591.09 L110.83,591.4 L112.26,591.78 L113.59,592.68 L115.17,591.71 L116.63,591.69 L118.09,591.83 L119.61,592.69 L121,591.7" fill="none" stroke="#111" stroke-width="2.2" stroke-linejoin="round"/>
<path d="M123.3,589.8 L124.2,590.1" fill="none" stroke="#111" stroke-width="2" stroke-linejoin="round"/>
<path d="M130.3,588 L137.2,586.4 L144.1,583.3" fill="none" stroke="#111" stroke-width="2" stroke-linejoin="round" stroke-dasharray="2 3.5"/>
<path d="M146.34,581.41 L147.35,580.45 L149.15,580.8 L149.89,579.37 L150.72,578.12 L152.44,578.79 L153.08,577.01 L154.35,576.78 L155.42,576.08 L157.01,576.63 L158.33,576.49 L159.26,575.53 L160,574.34 L161.85,574.61 L163.04,573.89 L163.62,572.21 L164.73,571.41 L166.31,571.4 L167.58,571.3 L168.69,570.84 L169.82,570.42 L170.88,569.76 L171.9,569" fill="none" stroke="#111" stroke-width="2.6" stroke-linejoin="round"/>
<circle cx="175.6" cy="530.2" r="1.3" fill="#e60000"/>
<path d="M89.1,529.5L99.1,507.7M131.7,537L156.8,529.5" stroke="#111" stroke-width="0.9"/>
<g stroke="#111" stroke-width="1.2" stroke-linejoin="round">
<path d="M207.5,522.7 L209.5,519.7 L212,518.7 L211.3,522.2 L209,524.7Z" fill="#fff"/><path d="M220.1,517 L223.8,513.2 L228.9,512.7 L232.6,515.7 L231.4,520.7 L226.3,522.7 L221.3,521.2Z" fill="#fff"/>
<path d="M260.2,529.5 L266.5,526.5 L269,530.8 L274,533.3 L275.3,537 L270.3,537 L266.5,535.8 L262.7,534.5Z" fill="#ffff00"/>
<path d="M284.8,540.3 L291.6,538.8 L300.4,540.3 L299.1,542.8 L291.6,543.3 L286.6,542.3Z" fill="#ffff00"/>
<path d="M291.6,548.3 L294.9,547.1 L297.4,550.3 L294.9,552.1 L292.3,550.8Z" fill="#ffff00"/>
<defs><clipPath id="mauic"><path d="M300.4,545.8 L304.1,543.8 L307.9,547.1 L312.9,547.8 L317.9,549.6 L319.2,553.3 L314.2,555.3 L309.2,554.6 L305.4,550.8 L301.6,549.6Z"/></clipPath></defs>
<path d="M300.4,545.8 L304.1,543.8 L307.9,547.1 L312.9,547.8 L317.9,549.6 L319.2,553.3 L314.2,555.3 L309.2,554.6 L305.4,550.8 L301.6,549.6Z" fill="#fcd37f"/><g clip-path="url(#mauic)" stroke="none"><path d="M301,545.5 C301.45,544.83 303.00,543.70 304,543.7 C305.00,543.70 306.20,544.70 307,545.5 C307.80,546.30 308.80,547.63 308.8,548.5 C308.80,549.37 307.93,550.50 307,550.7 C306.07,550.90 304.15,550.20 303.2,549.7 C302.25,549.20 301.67,548.40 301.3,547.7 C300.93,547.00 300.55,546.17 301,545.5Z" fill="#ffff00"/><path d="M307.3,549.7 C307.40,548.75 308.30,548.33 308.8,548.5 C309.30,548.67 310.10,549.70 310.3,550.7 C310.50,551.70 310.35,553.92 310,554.5 C309.65,555.08 308.65,555.00 308.2,554.2 C307.75,553.40 307.20,550.65 307.3,549.7Z" fill="#ff8c1a"/></g><path d="M300.4,545.8 L304.1,543.8 L307.9,547.1 L312.9,547.8 L317.9,549.6 L319.2,553.3 L314.2,555.3 L309.2,554.6 L305.4,550.8 L301.6,549.6Z" fill="none"/><path d="M300.4,557.1 L303.4,555.8 L304.9,557.9 L301.6,558.9Z" fill="#fcd37f"/>
</g>
<defs><clipPath id="bigc"><path d="M322,564.2 L325,565 L329.5,568 L334,569.8 L338.5,571.7 L342.2,577 L346,580 L349.3,583.3 L347.5,586 L343,588.2 L340,589.7 L336.2,592 L334,593.5 L331,596.2 L328,598.7 L325.7,598 L322.7,595.7 L320.5,594.2 L321.2,590.5 L319.7,586.7 L319,583 L317.2,577.7 L319.3,574.7 L322.3,571.7 L323.5,569.5 L321.7,566.5Z"/></clipPath></defs>
<g clip-path="url(#bigc)"><path d="M322,564.2 L325,565 L329.5,568 L334,569.8 L338.5,571.7 L342.2,577 L346,580 L349.3,583.3 L347.5,586 L343,588.2 L340,589.7 L336.2,592 L334,593.5 L331,596.2 L328,598.7 L325.7,598 L322.7,595.7 L320.5,594.2 L321.2,590.5 L319.7,586.7 L319,583 L317.2,577.7 L319.3,574.7 L322.3,571.7 L323.5,569.5 L321.7,566.5Z" fill="#fff"/><path d="M323.2,568.7 C323.83,568.75 325.33,569.87 326.5,570.5 C327.67,571.13 328.70,571.92 330.2,572.5 C331.70,573.08 333.82,573.85 335.5,574 C337.18,574.15 339.25,573.10 340.3,573.4 C341.35,573.70 342.35,575.20 341.8,575.8 C341.25,576.40 338.80,576.75 337,577 C335.20,577.25 332.63,577.60 331,577.3 C329.37,577.00 328.40,576.00 327.2,575.2 C326.00,574.40 324.55,573.33 323.8,572.5 C323.05,571.67 322.80,570.83 322.7,570.2 C322.60,569.57 322.57,568.65 323.2,568.7Z" fill="#ffff00"/><path d="M320.5,593.8 C320.88,592.62 323.50,590.80 325,589.7 C326.50,588.60 327.88,588.02 329.5,587.2 C331.12,586.38 332.95,585.43 334.7,584.8 C336.45,584.17 338.12,583.58 340,583.4 C341.88,583.22 344.45,583.65 346,583.7 C347.55,583.75 349.30,583.07 349.3,583.7 C349.30,584.33 347.55,586.42 346,587.5 C344.45,588.58 342.00,589.15 340,590.2 C338.00,591.25 336.00,592.30 334,593.8 C332.00,595.30 329.88,598.70 328,599.2 C326.12,599.70 323.95,597.70 322.7,596.8 C321.45,595.90 320.12,594.98 320.5,593.8Z" fill="#ffff00"/><path d="M321.7,564.2 C322.25,563.90 323.70,564.12 325,564.7 C326.30,565.28 328.00,566.90 329.5,567.7 C331.00,568.50 332.45,568.83 334,569.5 C335.55,570.17 337.80,571.08 338.8,571.7 C339.80,572.32 340.55,572.87 340,573.2 C339.45,573.53 337.13,573.87 335.5,573.7 C333.87,573.53 331.70,572.78 330.2,572.2 C328.70,571.62 327.62,570.85 326.5,570.2 C325.38,569.55 324.30,568.92 323.5,568.3 C322.70,567.68 322.00,567.18 321.7,566.5 C321.40,565.82 321.15,564.50 321.7,564.2Z" fill="#fcd37f"/><path d="M324.7,596.2 C324.95,595.65 326.45,594.90 327.2,595 C327.95,595.10 329.07,596.10 329.2,596.8 C329.33,597.50 328.58,598.95 328,599.2 C327.42,599.45 326.25,598.80 325.7,598.3 C325.15,597.80 324.45,596.75 324.7,596.2Z" fill="#fcd37f"/></g>
<path d="M322.02,564.14 L323.55,564.42 L324.87,565.2 L326.46,566.06 L327.99,567.01 L329.46,568.11 L330.92,568.8 L332.46,569.3 L334.09,569.6 L335.39,570.71 L337.09,570.86 L338.68,571.58 L339.59,572.91 L340.39,574.32 L341.19,575.73 L342.33,576.83 L343.59,577.84 L344.75,578.98 L345.85,580.15 L347.29,580.91 L348.03,582.37 L349.43,583.38 L348.21,584.52 L347.57,586.15 L345.89,586.51 L344.37,587.2 L342.87,587.94 L341.46,588.87 L339.86,589.47 L338.01,590.7 L336.36,592.24 L334,593.5 L332.55,594.9 L331.04,596.25 L329.5,597.45 L328,598.71 L325.66,598.06 L324.07,597.02 L322.68,595.74 L320.39,594.18 L321.06,592.39 L320.93,590.61 L320.25,588.68 L319.73,586.69 L319.11,584.9 L318.88,583.04 L318.52,581.19 L318.07,579.37 L317.13,577.65 L318.02,576.04 L319.28,574.68 L320.74,573.14 L322.21,571.65 L323.56,569.46 L322.54,568.03 L321.61,566.49 L322,564.2Z" fill="none" stroke="#111" stroke-width="1.3"/>
<path d="M248.9,560.4L297.9,555.1M250.2,565.4L316.7,572.2M247.2,570.2L319.2,594" stroke="#111" stroke-width="0.9" fill="none"/>
<defs><clipPath id="prc"><path d="M415.7,550.2 L420.2,544.2 L430,544.2 L442,544.7 L454,545 L464.5,545.7 L473.5,547.2 L481.7,548.7 L485.5,551 L486.2,555.5 L483.2,557.7 L479.5,560.7 L475.7,563.7 L470.5,565.2 L464.5,566.7 L457,567.5 L449.5,566.7 L442,566.7 L434.5,567.5 L427,567.5 L419.5,567.5 L418.7,563.7 L419.5,558.5 L418,554Z"/></clipPath></defs>
<g clip-path="url(#prc)"><path d="M418,562.4 C420.00,561.05 426.00,561.65 430,561.2 C434.00,560.75 438.50,560.40 442,559.7 C445.50,559.00 449.00,557.95 451,557 C453.00,556.05 452.50,554.75 454,554 C455.50,553.25 458.25,553.00 460,552.5 C461.75,552.00 463.55,552.25 464.5,551 C465.45,549.75 464.45,545.70 465.7,545 C466.95,544.30 470.65,545.30 472,546.8 C473.35,548.30 473.00,551.93 473.8,554 C474.60,556.07 475.98,557.83 476.8,559.2 C477.62,560.57 479.50,561.07 478.7,562.2 C477.90,563.33 474.37,564.92 472,566 C469.63,567.08 473.50,568.15 464.5,568.7 C455.50,569.25 425.75,570.35 418,569.3 C410.25,568.25 416.00,563.75 418,562.4Z" fill="#ffff00"/><path d="M424,563.3 C426.25,562.05 433.25,561.50 437.5,560.7 C441.75,559.90 446.38,559.50 449.5,558.5 C452.62,557.50 454.45,555.33 456.2,554.7 C457.95,554.07 458.75,554.20 460,554.7 C461.25,555.20 462.70,556.45 463.7,557.7 C464.70,558.95 465.67,560.82 466,562.2 C466.33,563.58 466.70,565.00 465.7,566 C464.70,567.00 463.45,567.83 460,568.2 C456.55,568.57 451.00,568.20 445,568.2 C439.00,568.20 427.50,569.02 424,568.2 C420.50,567.38 421.75,564.55 424,563.3Z" fill="#fcd37f"/><path d="M417.2,566 C418.83,565.17 423.62,564.40 427,563.7 C430.38,563.00 434.00,562.42 437.5,561.8 C441.00,561.18 445.25,560.68 448,560 C450.75,559.32 452.50,558.20 454,557.7 C455.50,557.20 456.30,556.62 457,557 C457.70,557.38 458.08,558.88 458.2,560 C458.32,561.12 458.15,562.58 457.7,563.7 C457.25,564.82 457.62,565.95 455.5,566.7 C453.38,567.45 449.25,567.87 445,568.2 C440.75,568.53 434.63,568.62 430,568.7 C425.37,568.78 419.33,569.15 417.2,568.7 C415.07,568.25 415.57,566.83 417.2,566Z" fill="#ffaa00"/></g>
<path d="M415.84,550.31 L416.52,548.94 L417.38,547.71 L418.55,546.72 L419.12,545.26 L420.2,544.19 L421.83,544.23 L423.47,544.27 L425.1,543.99 L426.73,544.28 L428.37,544.2 L429.99,544.41 L431.51,543.98 L432.99,544.6 L434.51,544.19 L435.99,544.64 L437.5,544.52 L438.99,544.78 L440.51,544.45 L442,544.59 L443.51,544.49 L445,544.94 L446.5,544.83 L448,544.67 L449.5,544.7 L451.01,544.67 L452.5,544.78 L454,545.04 L455.5,545.06 L456.99,545.32 L458.52,545.05 L459.99,545.6 L461.48,545.79 L462.99,545.74 L464.48,545.84 L465.97,546.16 L467.54,545.96 L469,546.43 L470.54,546.45 L471.97,547.12 L473.5,547.22 L475.18,547.27 L476.79,547.77 L478.39,548.26 L480.05,548.43 L481.82,548.51 L483.46,550.07 L485.76,550.96 L485.53,552.53 L485.69,554.04 L486.11,555.38 L484.54,556.38 L483.19,557.69 L482.07,558.83 L480.74,559.71 L479.41,560.59 L478.13,561.57 L477.01,562.75 L475.63,563.44 L474.04,564.47 L472.23,564.7 L470.57,565.47 L469.02,565.66 L467.43,565.67 L466.06,566.55 L464.47,566.41 L462.97,566.62 L461.49,566.91 L460.03,567.44 L458.5,567.36 L457.01,567.39 L455.47,567.58 L453.99,567.3 L452.47,567.26 L451.02,566.66 L449.5,566.45 L448,566.45 L446.5,566.55 L445,566.65 L443.5,566.96 L442,566.71 L440.48,566.7 L438.98,566.87 L437.53,567.46 L436.03,567.63 L434.5,567.75 L433,567.25 L431.5,567.73 L430,567.57 L428.5,567.51 L427,567.27 L425.5,567.72 L424,567.64 L422.5,567.34 L421,567.75 L419.3,567.54 L418.82,565.66 L418.97,563.74 L418.81,561.94 L419.23,560.23 L419.43,558.52 L419.27,556.91 L418.62,555.46 L418.05,553.97 L416.84,552.1 L415.7,550.2Z" fill="none" stroke="#111" stroke-width="1.2"/>
<path d="M486.2,560.7 L491.5,559.2 L499,558.8 L496,560.3 L490,561.8 L487,561.8Z" fill="#ffff00" stroke="#111" stroke-width="0.8"/>
<circle cx="388.2" cy="561" r="1.3" fill="#fff" stroke="#111" stroke-width="0.7"/><circle cx="407" cy="549.6" r="0.6" fill="#111"/><path d="M494,551.5l6,1.2" stroke="#111" stroke-width="1.5"/>
<text x="95.3" y="106.9" font-size="14" font-weight="bold" text-anchor="middle" letter-spacing="1.5">SL</text>
<text x="325.6" y="112.3" font-size="14" font-weight="bold" text-anchor="middle">S</text>
<text x="78.8" y="325.2" font-size="14" font-weight="bold" text-anchor="middle">L</text>
<text x="198.7" y="304.6" font-size="14" font-weight="bold" text-anchor="middle" letter-spacing="1.5">SL</text>
<text x="321.5" y="313.1" font-size="14" font-weight="bold" text-anchor="middle">S</text>
<text x="316.4" y="414.8" font-size="14" font-weight="bold" text-anchor="middle">S</text>
<text x="472.2" y="340.3" font-size="14" font-weight="bold" text-anchor="middle">S</text>
<text x="487" y="367.4" font-size="14" font-weight="bold" text-anchor="middle">S</text>
<text x="532.2" y="341.9" font-size="14" font-weight="bold" text-anchor="middle">S</text>
<text x="561.3" y="315.2" font-size="14" font-weight="bold" text-anchor="middle">S</text>
<text x="96.1" y="462.8" font-size="14" font-weight="bold" text-anchor="middle">S</text>
<text x="86.6" y="541.0" font-size="14" font-weight="bold" text-anchor="middle">S</text>
<text x="121.7" y="542.8" font-size="14" font-weight="bold" text-anchor="middle" letter-spacing="1.5">SL</text>
<text x="235.1" y="569.3" font-size="14" font-weight="bold" text-anchor="middle">S</text>
<text x="469.8" y="562.3" font-size="14" font-weight="bold" text-anchor="middle">S</text>
<g id="usda">
<text x="532.6" y="554.6" font-family="Liberation Serif" font-size="19.5" font-weight="bold" fill="#1b3b7c" textLength="46.5" lengthAdjust="spacingAndGlyphs" style="font-family:'Liberation Serif',serif;fill:#1b3b7c">USDA</text>
<path d="M533,573.5V562.3C545,561.2 560,559.6 579,557.6V573.5Z" fill="#1d6b4c"/>
<path d="M533,557.2C545,557 556,557.3 566,558.2C556,558.6 544,559.3 533,560.4Z" fill="#1d6b4c"/>
<path d="M533,561.2C548,559.6 562,558.6 579,556.4V557C562,559.2 548,560.4 533,561.9Z" fill="#1d6b4c" opacity="0.0"/>
<path d="M548,556.6H579V556.9C570,558 562,558.4 556,558.2C553,557.5 550,557 548,556.6Z" fill="#1d6b4c"/>
</g>
<g id="ndmc"><circle cx="624.4" cy="557.1" r="23.6" fill="#fff"/>
<circle cx="624.4" cy="557.1" r="21.6" fill="none" stroke="#8a8276" stroke-width="2.4" stroke-dasharray="1 1"/>
<defs><clipPath id="ndc"><circle cx="624.4" cy="557.1" r="18.6"/></clipPath></defs>
<g clip-path="url(#ndc)"><rect x="604.4" y="537.1" width="40" height="40" fill="#435c2c"/>
<path d="M604.4,562.6c4,-2.5 8,-3 12,0s8,4 13,1.5s9,-4.5 15,-2.5v16h-40z" fill="#5b92d6"/>
<path d="M604.4,566.6c4,-2 8,-2.5 12,0.5s8,4 13,1.5s9,-5.5 15,-3v12h-40z" fill="#e8eef6"/>
<path d="M604.4,568.1c4,-2 8,-2.5 12,0.5s8,4 13,1.5s9,-5.5 15,-3v12h-40z" fill="#3a2a1c"/></g>
<circle cx="624.4" cy="557.1" r="18.6" fill="none" stroke="#2c3a1c" stroke-width="1"/>
<text x="624.4" y="559.4" font-size="13.2" font-weight="bold" text-anchor="middle" textLength="27.5" lengthAdjust="spacingAndGlyphs" style="fill:#fff">NDMC</text></g>
<g id="doc"><circle cx="693.3" cy="557.6" r="23.3" fill="#fff" stroke="#2a7fd2" stroke-width="0.8"/>
<circle cx="693.3" cy="557.6" r="19.9" fill="none" stroke="#2f86d6" stroke-width="4.6"/>
<circle cx="693.3" cy="557.6" r="19.9" fill="none" stroke="#ffffff" stroke-width="1.7" stroke-dasharray="0.7 1.2" opacity="0.8"/>
<circle cx="693.3" cy="557.6" r="17.2" fill="#fff"/>
<path d="M683.5999999999999,552.7h19.4v10.5h-19.4z" fill="#2f7fd0" stroke="#223" stroke-width="0.5"/>
<path d="M683.5999999999999,563.2h19.4v2.4c-0.6,3.6 -4.6,5.6 -9.7,7c-5.1,-1.4 -9.1,-3.4 -9.7,-7z" fill="#f6c431" stroke="#223" stroke-width="0.5"/>
<path d="M686.8,560.2h12.5l-1.8,-2.2h-3v-2.6h-1.6v2.6h-2.2v-3.6h-1.5v3.6h-2z" fill="#e4e8ee" stroke="#445" stroke-width="0.35"/>
<path d="M693.3,564.1v7.5M691.6999999999999,571.2h3.2" stroke="#333" stroke-width="1"/>
<path d="M681.8,552.4h23" stroke="#333" stroke-width="0.9"/>
<path d="M686.3,542.8000000000001l3.6,4.6l1.6,-3.4h3.6l1.6,3.4l3.6,-4.6l-1.2,6.6l-3.2,2.4h-5.2l-3.2,-2.4z" fill="#d9a520" stroke="#7a5a10" stroke-width="0.4"/>
<ellipse cx="693.3" cy="545.4" rx="1.7" ry="2.4" fill="#f4efe0" stroke="#7a5a10" stroke-width="0.4"/></g>
<g id="noaa"><circle cx="761.4" cy="558" r="24" fill="#fff"/>
<circle cx="761.4" cy="558" r="22.3" fill="none" stroke="#8a98b8" stroke-width="1.6" stroke-dasharray="0.9 0.9"/>
<defs><clipPath id="noc"><circle cx="761.4" cy="558" r="20.1"/></clipPath></defs>
<g clip-path="url(#noc)"><rect x="740.4" y="537" width="42" height="42" fill="#1c8fd9"/>
<path d="M740.4,537h42v12c-5,3 -9,7 -12,12c-3,3 -7,5 -10,4.5c-4,-3 -8,-8 -10,-13c-2,-3 -6,-6 -10,-7z" fill="#24257c"/>
<path d="M744.4,551.5c6,-1 9,3 11,8c2,4 5,6.5 9,6.8c3,-1 5,-3 7,-6c3,-5 7,-9 12,-11c-4,4 -7,8 -9,12c-1,2 -3,4 -5,5.3c3,0.2 6,0 9,-1c-4,2.5 -9,3.5 -14,2.8c-3,1.5 -6,2.5 -9,2.6c2,-1 4,-2.2 5,-3.5c-4,-1.5 -7,-4.5 -9,-8c-2,-4 -4,-6.5 -7,-8z" fill="#fff"/></g>
<text x="760.8" y="550.9" font-size="7" font-weight="bold" text-anchor="middle" textLength="16.5" lengthAdjust="spacingAndGlyphs" style="fill:#fff">NOAA</text></g>
</svg></body></html>
